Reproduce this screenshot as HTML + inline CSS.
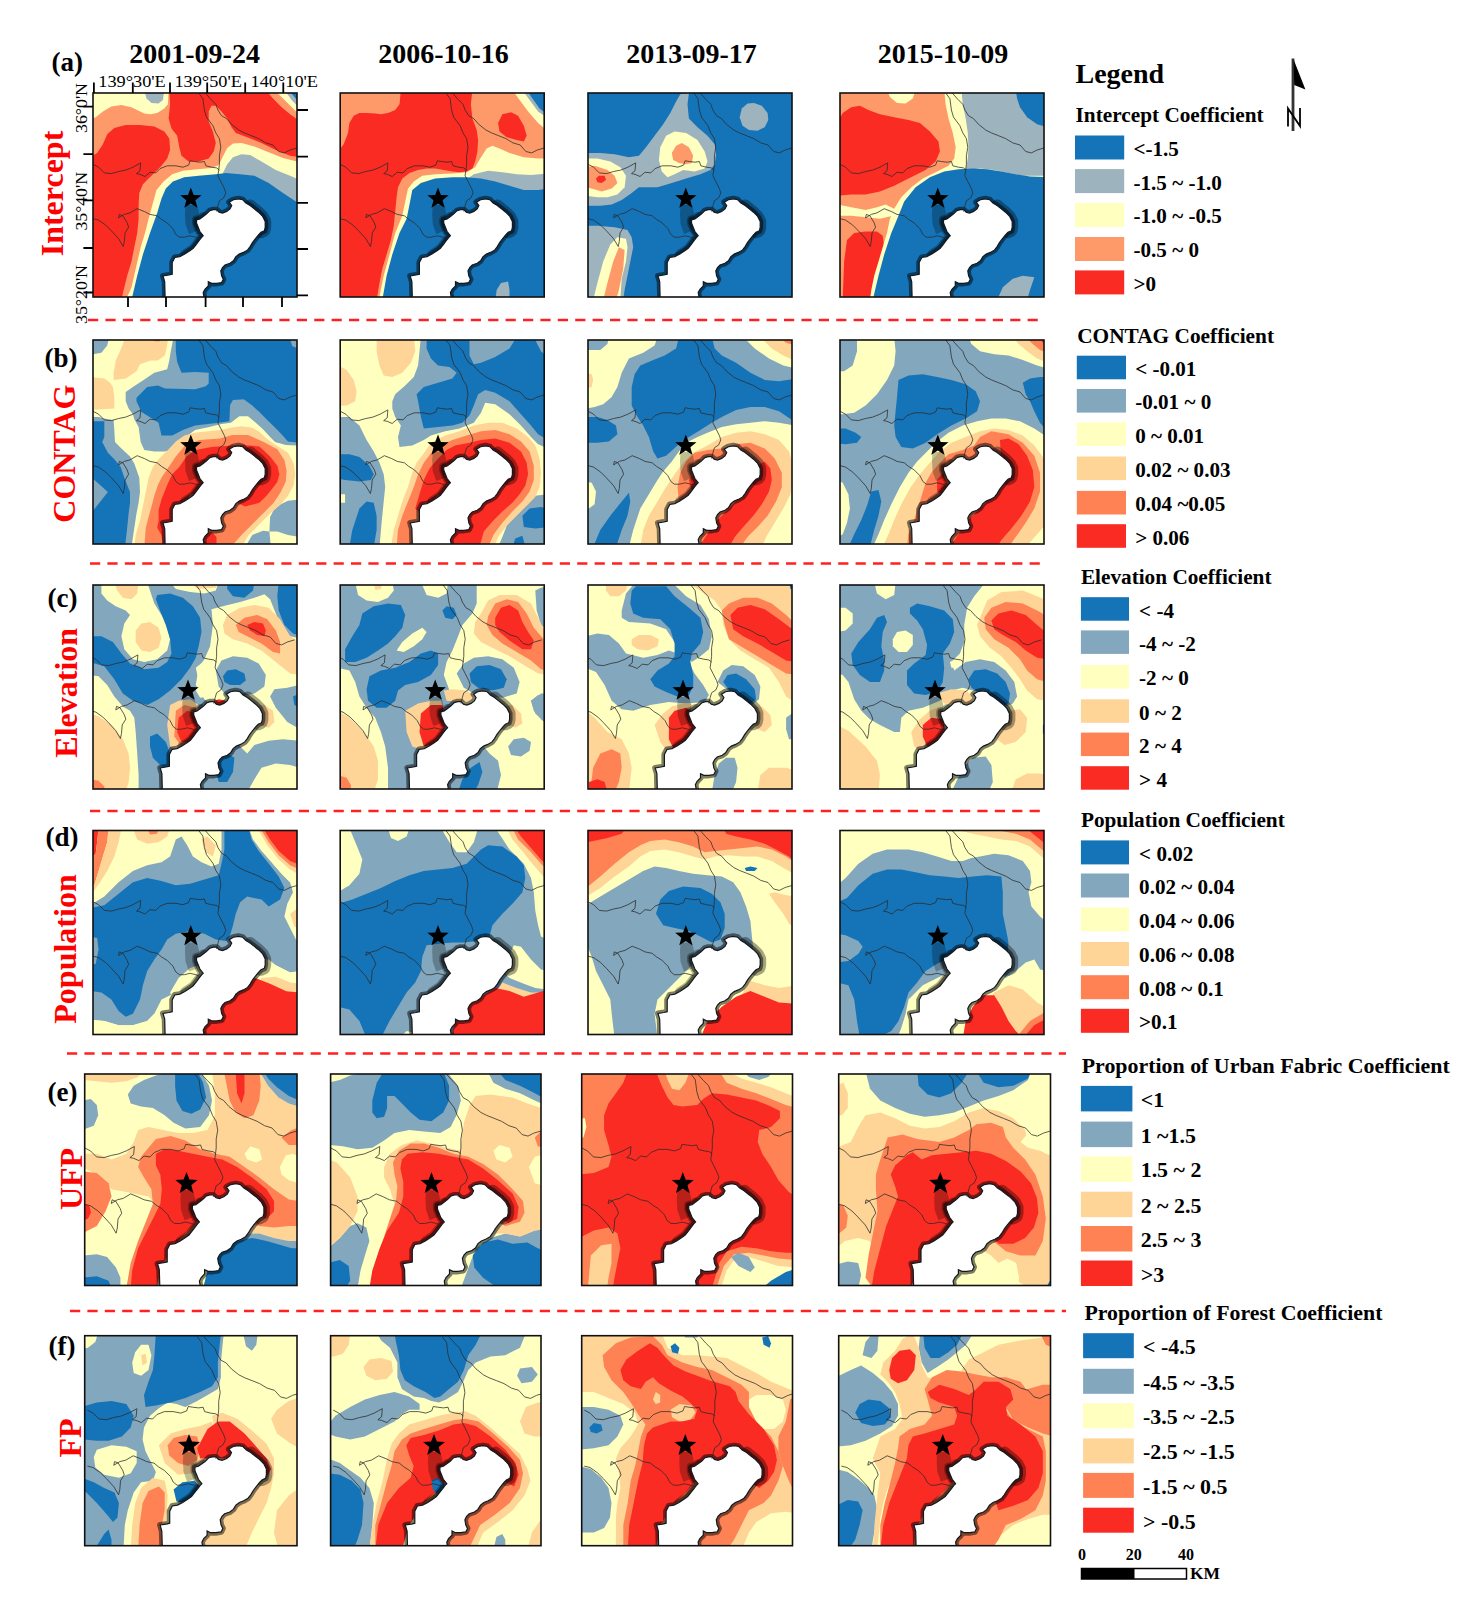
<!DOCTYPE html><html><head><meta charset="utf-8"><style>html,body{margin:0;padding:0;background:#fff;overflow:hidden}svg{display:block}</style></head><body>
<svg width="1469" height="1600" viewBox="0 0 1469 1600" font-family='"Liberation Serif", serif' font-weight="bold">
<rect width="100%" height="100%" fill="#fff"/>
<clipPath id="ca0"><rect x="93.0" y="93.0" width="204.0" height="204.0"/></clipPath>
<g clip-path="url(#ca0)">
<rect x="91" y="91" width="208" height="208" fill="#fe9a69"/>
<polygon points="90,157.2 97.1,152.9 102.9,144.3 107.2,134.3 114.3,127.9 125.7,125 140,125 154.3,126.5 164.3,131.5 169.3,138.6 170.1,150 167.2,158.6 161.5,165.8 155.8,171.5 148.6,178.6 142.9,184.3 139.3,192.9 138.6,204.4 138.6,218.7 137.2,233 134.3,247.2 131.5,261.5 127.2,275.8 123.6,290.1 121.4,300.1 90,300.1" fill="#f92b23"/>
<polygon points="169.3,90 265.8,90 273,98.6 281.6,107.2 290.1,114.3 300.1,121.4 300.1,157.2 290.1,155.8 275.8,150 261.5,142.9 247.2,137.2 235.8,132.9 231.5,127.2 227.2,118.6 221.5,111.4 215.8,105.7 211.5,105.7 208.7,111.4 208.7,121.4 212.9,131.5 215.8,142.9 213.7,151.5 208.7,158.6 198.6,161.5 188.6,161.5 181.5,155.8 179.3,147.2 177.2,135.7 171.5,128.6 168.6,118.6 170.1,104.3" fill="#f92b23"/>
<polygon points="90,90 168.6,90 167.9,104.3 164.3,108.6 157.2,112.9 150,114.3 144.3,113.6 138.6,110.7 131.5,107.2 121.4,105 111.4,106.4 102.9,111.4 95.7,117.2 90,120" fill="#ffffbf"/>
<polygon points="144.3,90 146.5,98.6 151.5,102.9 158.6,103.6 162.9,100 164.3,90" fill="#9db4be"/>
<polygon points="125.7,300.1 131.5,287.3 135.7,268.7 140.7,247.2 145,233 148.6,218.7 152.9,202.9 156.5,190.1 163.6,181.5 172.2,174.3 182.9,170.8 197.2,169.3 211.5,167.9 218.7,165.1 222.9,156.5 227.2,147.9 233,143.6 241.5,142.9 254.4,146.5 268.7,152.2 283,157.9 300.1,162.2 300.1,300.1" fill="#ffffbf"/>
<polygon points="222.9,172.9 227.2,164.3 233,157.2 241.5,154.3 250.1,155 261.5,161.5 275.8,170.1 290.1,175.8 300.1,180.1 300.1,300.1 218.7,300.1" fill="#9db4be"/>
<polygon points="131.5,300.1 137.2,275.8 142.9,254.4 150,233 157.2,212.9 161.5,198.6 165.8,188.6 172.9,181.5 184.3,177.2 198.6,175.8 215.8,174.3 225.8,172.9 240.1,174.3 254.4,175.8 268.7,182.9 283,192.9 300.1,204.4 300.1,300.1" fill="#1574b8"/>
<polygon points="274.4,90 300.1,90 300.1,115.7 293,108.6 283,98.6" fill="#ffffbf"/>
<polygon points="284.4,90 300.1,90 300.1,108.6 291.6,100" fill="#9db4be"/>
<polygon points="288.7,90 300.1,90 300.1,102.9 294.4,97.1" fill="#1574b8"/>
<polygon points="165.1,297.6 164.7,281.7 163,275.9 168.9,275 172.2,274.2 172.2,267.5 172.2,262.5 174.8,257.5 179.8,256.6 184.8,254.1 189.8,250.8 193.2,248.2 196.5,244.1 199,240.7 201.6,237.4 203.2,235.7 199.9,231.5 198.2,227.3 196.5,223.1 196.5,219.8 199.9,218.9 203.2,216.4 206.6,213.9 209.9,210.6 213.3,209.7 216.6,209.7 219.1,212.2 222.5,213.1 226.7,211.4 230,208.9 231.7,205.5 229.2,202.2 233.4,199.7 238.4,198.8 242.6,199.7 245.9,203 250.1,205.5 254.3,208.9 258.5,212.2 262.7,216.4 265.2,221.5 265.2,227.3 264.4,230.7 261,232.3 258.5,234.8 255.1,239 252.6,242.4 250.1,246.6 247.6,249.9 243.4,252.4 239.2,254.1 235.9,256.6 233.4,260.8 230,263.3 225,265 222.5,267.5 220.8,270.9 221.6,275.9 223.3,279.2 221.6,282.6 216.6,283.4 211.6,283.4 208.3,281.7 208.3,285.9 204.9,289.3 203.2,292.6 204.1,297.6" fill="none" stroke="#000" stroke-opacity="0.5" stroke-width="6" stroke-linejoin="round"/>
<polyline points="250.1,205.5 254.3,208.9 258.5,212.2 262.7,216.4 265.2,221.5 265.2,227.3 264.4,230.7 261,232.3" fill="none" stroke="#000" stroke-opacity="0.35" stroke-width="12" stroke-linejoin="round" stroke-linecap="round"/>
<polyline points="184.8,254.1 189.8,250.8 193.2,248.2 196.5,244.1 199,240.7 201.6,237.4 203.2,235.7 199.9,231.5 198.2,227.3 196.5,223.1 196.5,219.8 199.9,218.9 203.2,216.4" fill="none" stroke="#000" stroke-opacity="0.3" stroke-width="9" stroke-linejoin="round" stroke-linecap="round"/>
<polygon points="185.5,205 197,205 199,213 198.5,223 197,231 189,234 185.5,224 185,214" fill="#000" fill-opacity="0.25"/>
<polygon points="165.1,297.6 164.7,281.7 163,275.9 168.9,275 172.2,274.2 172.2,267.5 172.2,262.5 174.8,257.5 179.8,256.6 184.8,254.1 189.8,250.8 193.2,248.2 196.5,244.1 199,240.7 201.6,237.4 203.2,235.7 199.9,231.5 198.2,227.3 196.5,223.1 196.5,219.8 199.9,218.9 203.2,216.4 206.6,213.9 209.9,210.6 213.3,209.7 216.6,209.7 219.1,212.2 222.5,213.1 226.7,211.4 230,208.9 231.7,205.5 229.2,202.2 233.4,199.7 238.4,198.8 242.6,199.7 245.9,203 250.1,205.5 254.3,208.9 258.5,212.2 262.7,216.4 265.2,221.5 265.2,227.3 264.4,230.7 261,232.3 258.5,234.8 255.1,239 252.6,242.4 250.1,246.6 247.6,249.9 243.4,252.4 239.2,254.1 235.9,256.6 233.4,260.8 230,263.3 225,265 222.5,267.5 220.8,270.9 221.6,275.9 223.3,279.2 221.6,282.6 216.6,283.4 211.6,283.4 208.3,281.7 208.3,285.9 204.9,289.3 203.2,292.6 204.1,297.6" fill="#fff" stroke="#101820" stroke-width="1.2"/>
<path d="M198.6,92.9 L202.9,98.6 L204.4,110 L206.5,117.2 L212.9,125.7 L215.8,132.9 L219.4,138.6 L220.8,147.2 L219.4,155.8 L219.4,164.3 L218.7,170.1 L217.9,175.8 L220.8,181.5 L224.4,188.6 L225.8,192.9 L223.7,197.9 L219.4,200.8 L217.9,205.8 L216.5,211.5 M205.1,92.9 L210.8,99.3 L215.8,104.3 L217.9,110 L221.5,115.7 L226.5,118.6 L231.5,124.3 L238.7,130 L244.4,132.9 L251.5,135.7 L258.7,138.6 L265.8,142.9 L273,145 L278.7,151.5 L284.4,152.9 L290.1,150 L297.3,147.9 M93.1,164.3 L98.6,167.2 L104.3,172.9 L111.4,173.6 L118.6,171.5 L125.7,170.1 L132.9,167.2 L140.7,162.9 L140,170.8 L136.5,173.6 L140,174.3 L145,176.5 L150,172.2 L155.8,172.9 L160,168.6 L167.2,165.8 L175.8,165.8 L182.9,167.2 L188.6,165.1 L190.1,160.8 L194.4,161.5 L200.1,162.2 L204.4,161.5 L205.8,165.8 L211.5,167.2 L216.5,167.9 L219.4,170.1 M93.1,218.7 L98.6,220.1 L105.7,225.1 L111.4,230.8 L118.6,238.7 L123.2,246.5 L124.3,241.5 L125,233 L128.6,227.2 L127.2,222.9 L122.9,215.8 L119.3,214.4 L118.6,217.9 L124.3,214.4 L130,212.9 L137.2,208.7 L144.3,211.5 L150,214.4 L157.2,215.8 L161.5,219.4 L167.2,222.9 L172.9,228.7 L175.8,234.4 L179.3,237.2 L184.3,237.2 L190.1,235.8 L195.8,237.2 L199.4,238.7" fill="none" stroke="#2a2a2a" stroke-width="0.9" stroke-opacity="0.85"/>
<path d="M190.8,187.6 L193.7,194.9 L201.5,195.3 L195.4,200.3 L197.4,207.8 L190.8,203.6 L184.3,207.8 L186.3,200.3 L180.2,195.3 L188,194.9Z" fill="#000"/>
</g>
<rect x="93.0" y="93.0" width="204.0" height="204.0" fill="none" stroke="#111" stroke-width="1.6"/>
<clipPath id="ca1"><rect x="340.2" y="93.0" width="204.0" height="204.0"/></clipPath>
<g clip-path="url(#ca1)">
<rect x="338.2" y="91" width="208" height="208" fill="#fe9a69"/>
<polygon points="400.9,90 472.4,90 470.9,104.3 472.4,118.6 476.7,130 478.1,140 477.4,151.5 475.2,161.5 472.4,168.6 466.7,171.5 459.5,172.2 452.4,171.5 443.8,170.1 435.2,168.6 426.6,168.6 418.1,170.1 409.5,172.9 402.3,178.6 398,187.2 396.6,197.2 395.2,211.5 393.8,225.8 390.9,240.1 386.6,254.4 382.3,268.7 379.5,283 376.6,300.1 338,300.1 338,151.5 343.7,144.3 348,132.9 349.4,122.9 353.7,115.7 359.4,112.9 366.6,112.9 375.2,113.6 380.9,114.3 388,112.9 395.2,110 399.5,104.3" fill="#f92b23"/>
<polygon points="498.1,122.9 502.4,114.3 511,112.2 518.1,115.7 523.8,125.7 526.7,135.7 523.8,141.5 516.7,140 506.7,137.2 499.5,131.5" fill="#f92b23"/>
<polygon points="512.4,90 548.1,90 548.1,131.5 538.1,122.9 528.1,111.4 519.6,100" fill="#ffffbf"/>
<polygon points="522.4,90 548.1,90 548.1,118.6 538.1,111.4 529.6,100" fill="#9db4be"/>
<polygon points="526.7,90 548.1,90 548.1,115 539.6,108.6 532.4,98.6" fill="#1574b8"/>
<polygon points="378.7,300.1 383.7,275.8 389.5,254.4 395.2,233 402.3,215.8 405.2,201.5 408,188.6 413.8,181.5 422.3,175.8 435.2,174.3 452.4,173.6 466.7,172.2 475.2,167.2 481,157.2 486.7,148.6 492.4,145.8 499.5,148.6 509.5,152.9 523.8,157.2 538.1,158.6 548.1,158.6 548.1,300.1" fill="#ffffbf"/>
<polygon points="463.8,181.5 473.8,174.3 488.1,170.8 502.4,172.2 516.7,174.3 531,175.1 548.1,173.6 548.1,300.1 463.8,300.1" fill="#9db4be"/>
<polygon points="382.3,300.1 386.6,275.8 392.3,254.4 399.5,233 406.6,218.7 409.5,204.4 412.3,190.1 420.9,182.9 435.2,178.6 452.4,177.2 466.7,177.2 481,178.6 495.2,181.5 509.5,185.8 523.8,190.1 538.1,190.1 548.1,188.6 548.1,300.1" fill="#1574b8"/>
<polygon points="495.2,300.1 496.7,290.1 501,283 508.1,281.6 509.5,290.1 509.5,300.1" fill="#9db4be"/>
<polygon points="412.3,297.6 411.9,281.7 410.2,275.9 416.1,275 419.4,274.2 419.4,267.5 419.4,262.5 422,257.5 427,256.6 432,254.1 437,250.8 440.4,248.2 443.7,244.1 446.2,240.7 448.8,237.4 450.4,235.7 447.1,231.5 445.4,227.3 443.7,223.1 443.7,219.8 447.1,218.9 450.4,216.4 453.8,213.9 457.1,210.6 460.5,209.7 463.8,209.7 466.3,212.2 469.7,213.1 473.9,211.4 477.2,208.9 478.9,205.5 476.4,202.2 480.6,199.7 485.6,198.8 489.8,199.7 493.1,203 497.3,205.5 501.5,208.9 505.7,212.2 509.9,216.4 512.4,221.5 512.4,227.3 511.6,230.7 508.2,232.3 505.7,234.8 502.3,239 499.8,242.4 497.3,246.6 494.8,249.9 490.6,252.4 486.4,254.1 483.1,256.6 480.6,260.8 477.2,263.3 472.2,265 469.7,267.5 468,270.9 468.8,275.9 470.5,279.2 468.8,282.6 463.8,283.4 458.8,283.4 455.5,281.7 455.5,285.9 452.1,289.3 450.4,292.6 451.3,297.6" fill="none" stroke="#000" stroke-opacity="0.5" stroke-width="6" stroke-linejoin="round"/>
<polyline points="497.3,205.5 501.5,208.9 505.7,212.2 509.9,216.4 512.4,221.5 512.4,227.3 511.6,230.7 508.2,232.3" fill="none" stroke="#000" stroke-opacity="0.35" stroke-width="12" stroke-linejoin="round" stroke-linecap="round"/>
<polyline points="432,254.1 437,250.8 440.4,248.2 443.7,244.1 446.2,240.7 448.8,237.4 450.4,235.7 447.1,231.5 445.4,227.3 443.7,223.1 443.7,219.8 447.1,218.9 450.4,216.4" fill="none" stroke="#000" stroke-opacity="0.3" stroke-width="9" stroke-linejoin="round" stroke-linecap="round"/>
<polygon points="432.7,205 444.2,205 446.2,213 445.7,223 444.2,231 436.2,234 432.7,224 432.2,214" fill="#000" fill-opacity="0.25"/>
<polygon points="412.3,297.6 411.9,281.7 410.2,275.9 416.1,275 419.4,274.2 419.4,267.5 419.4,262.5 422,257.5 427,256.6 432,254.1 437,250.8 440.4,248.2 443.7,244.1 446.2,240.7 448.8,237.4 450.4,235.7 447.1,231.5 445.4,227.3 443.7,223.1 443.7,219.8 447.1,218.9 450.4,216.4 453.8,213.9 457.1,210.6 460.5,209.7 463.8,209.7 466.3,212.2 469.7,213.1 473.9,211.4 477.2,208.9 478.9,205.5 476.4,202.2 480.6,199.7 485.6,198.8 489.8,199.7 493.1,203 497.3,205.5 501.5,208.9 505.7,212.2 509.9,216.4 512.4,221.5 512.4,227.3 511.6,230.7 508.2,232.3 505.7,234.8 502.3,239 499.8,242.4 497.3,246.6 494.8,249.9 490.6,252.4 486.4,254.1 483.1,256.6 480.6,260.8 477.2,263.3 472.2,265 469.7,267.5 468,270.9 468.8,275.9 470.5,279.2 468.8,282.6 463.8,283.4 458.8,283.4 455.5,281.7 455.5,285.9 452.1,289.3 450.4,292.6 451.3,297.6" fill="#fff" stroke="#101820" stroke-width="1.2"/>
<path d="M445.8,92.9 L450.1,98.6 L451.6,110 L453.7,117.2 L460.1,125.7 L463,132.9 L466.6,138.6 L468,147.2 L466.6,155.8 L466.6,164.3 L465.9,170.1 L465.1,175.8 L468,181.5 L471.6,188.6 L473,192.9 L470.9,197.9 L466.6,200.8 L465.1,205.8 L463.7,211.5 M452.3,92.9 L458,99.3 L463,104.3 L465.1,110 L468.7,115.7 L473.7,118.6 L478.7,124.3 L485.9,130 L491.6,132.9 L498.7,135.7 L505.9,138.6 L513,142.9 L520.2,145 L525.9,151.5 L531.6,152.9 L537.3,150 L544.5,147.9 M340.3,164.3 L345.8,167.2 L351.5,172.9 L358.6,173.6 L365.8,171.5 L372.9,170.1 L380.1,167.2 L387.9,162.9 L387.2,170.8 L383.7,173.6 L387.2,174.3 L392.2,176.5 L397.2,172.2 L403,172.9 L407.2,168.6 L414.4,165.8 L423,165.8 L430.1,167.2 L435.8,165.1 L437.3,160.8 L441.6,161.5 L447.3,162.2 L451.6,161.5 L453,165.8 L458.7,167.2 L463.7,167.9 L466.6,170.1 M340.3,218.7 L345.8,220.1 L352.9,225.1 L358.6,230.8 L365.8,238.7 L370.4,246.5 L371.5,241.5 L372.2,233 L375.8,227.2 L374.4,222.9 L370.1,215.8 L366.5,214.4 L365.8,217.9 L371.5,214.4 L377.2,212.9 L384.4,208.7 L391.5,211.5 L397.2,214.4 L404.4,215.8 L408.7,219.4 L414.4,222.9 L420.1,228.7 L423,234.4 L426.5,237.2 L431.5,237.2 L437.3,235.8 L443,237.2 L446.6,238.7" fill="none" stroke="#2a2a2a" stroke-width="0.9" stroke-opacity="0.85"/>
<path d="M438,187.6 L440.9,194.9 L448.7,195.3 L442.6,200.3 L444.6,207.8 L438,203.6 L431.5,207.8 L433.5,200.3 L427.4,195.3 L435.2,194.9Z" fill="#000"/>
</g>
<rect x="340.2" y="93.0" width="204.0" height="204.0" fill="none" stroke="#111" stroke-width="1.6"/>
<clipPath id="ca2"><rect x="588.0" y="93.0" width="204.0" height="204.0"/></clipPath>
<g clip-path="url(#ca2)">
<rect x="586" y="91" width="208" height="208" fill="#1574b8"/>
<polygon points="586,152.9 600.3,152.9 614.6,154.3 628.9,157.2 638.9,155.8 646,147.2 654.6,135.7 663.2,124.3 670.3,112.9 676.1,101.4 680.3,94.3 688.9,92.9 687.5,104.3 688.9,118.6 697.5,127.2 707.5,135.7 714.7,144.3 716.1,154.3 714.7,164.3 710.4,170.1 700.4,174.3 686.1,178.6 671.8,182.9 657.5,187.2 646,187.2 638.9,187.2 631.7,192.9 621.7,200.1 611.7,204.4 600.3,205.8 586,205.8" fill="#9db4be"/>
<polygon points="739.7,117.2 741.8,108.6 747.5,103.6 754,102.9 761.8,105.7 767.6,112.9 768.3,120 764.7,127.2 757.5,130.7 749,130 742.5,125.7" fill="#9db4be"/>
<polygon points="586,225.8 597.4,225.8 614.6,227.2 627.5,230.1 631.7,237.2 633.2,247.2 630.3,261.5 627.5,275.8 624.6,290.1 623.2,300.1 586,300.1" fill="#9db4be"/>
<polygon points="660.3,147.2 666.1,135.7 674.6,131.5 686.1,132.9 697.5,140 704.7,151.5 707.5,161.5 704.7,168.6 694.6,171.5 683.2,170.1 674.6,174.3 667.5,177.2 661.8,171.5 658.9,160" fill="#ffffbf"/>
<polygon points="586,158.6 597.4,158.6 610.3,161.5 620.3,167.2 626,175.8 624.6,187.2 617.4,194.4 607.4,197.2 597.4,197.2 586,195.8" fill="#ffffbf"/>
<polygon points="593.1,300.1 597.4,283 603.2,261.5 610.3,244.4 617.4,237.2 626,238.7 627.5,247.2 626,261.5 621.7,278.7 620.3,300.1" fill="#ffffbf"/>
<polygon points="671.8,152.9 676.1,145.8 681.8,142.9 688.9,147.2 693.2,155.8 691.8,162.9 686.1,164.3 678.9,162.9 673.2,160" fill="#fe9a69"/>
<polygon points="586,167.2 594.6,165.8 607.4,170.1 614.6,175.8 617.4,182.9 611.7,188.6 601.7,191.5 591.7,188.6 586,187.2" fill="#fe9a69"/>
<polygon points="603.2,300.1 607.4,283 613.2,261.5 618.9,247.2 624.6,250.1 623.2,268.7 618.9,290.1 616,300.1" fill="#fe9a69"/>
<polygon points="596,178.6 598.9,175.8 604.6,175.8 606,180.1 601.7,182.9 597.4,182.2" fill="#f92b23"/>
<polygon points="660.1,297.6 659.7,281.7 658,275.9 663.9,275 667.2,274.2 667.2,267.5 667.2,262.5 669.8,257.5 674.8,256.6 679.8,254.1 684.8,250.8 688.2,248.2 691.5,244.1 694,240.7 696.6,237.4 698.2,235.7 694.9,231.5 693.2,227.3 691.5,223.1 691.5,219.8 694.9,218.9 698.2,216.4 701.6,213.9 704.9,210.6 708.3,209.7 711.6,209.7 714.1,212.2 717.5,213.1 721.7,211.4 725,208.9 726.7,205.5 724.2,202.2 728.4,199.7 733.4,198.8 737.6,199.7 740.9,203 745.1,205.5 749.3,208.9 753.5,212.2 757.7,216.4 760.2,221.5 760.2,227.3 759.4,230.7 756,232.3 753.5,234.8 750.1,239 747.6,242.4 745.1,246.6 742.6,249.9 738.4,252.4 734.2,254.1 730.9,256.6 728.4,260.8 725,263.3 720,265 717.5,267.5 715.8,270.9 716.6,275.9 718.3,279.2 716.6,282.6 711.6,283.4 706.6,283.4 703.3,281.7 703.3,285.9 699.9,289.3 698.2,292.6 699.1,297.6" fill="none" stroke="#000" stroke-opacity="0.5" stroke-width="6" stroke-linejoin="round"/>
<polyline points="745.1,205.5 749.3,208.9 753.5,212.2 757.7,216.4 760.2,221.5 760.2,227.3 759.4,230.7 756,232.3" fill="none" stroke="#000" stroke-opacity="0.35" stroke-width="12" stroke-linejoin="round" stroke-linecap="round"/>
<polyline points="679.8,254.1 684.8,250.8 688.2,248.2 691.5,244.1 694,240.7 696.6,237.4 698.2,235.7 694.9,231.5 693.2,227.3 691.5,223.1 691.5,219.8 694.9,218.9 698.2,216.4" fill="none" stroke="#000" stroke-opacity="0.3" stroke-width="9" stroke-linejoin="round" stroke-linecap="round"/>
<polygon points="680.5,205 692,205 694,213 693.5,223 692,231 684,234 680.5,224 680,214" fill="#000" fill-opacity="0.25"/>
<polygon points="660.1,297.6 659.7,281.7 658,275.9 663.9,275 667.2,274.2 667.2,267.5 667.2,262.5 669.8,257.5 674.8,256.6 679.8,254.1 684.8,250.8 688.2,248.2 691.5,244.1 694,240.7 696.6,237.4 698.2,235.7 694.9,231.5 693.2,227.3 691.5,223.1 691.5,219.8 694.9,218.9 698.2,216.4 701.6,213.9 704.9,210.6 708.3,209.7 711.6,209.7 714.1,212.2 717.5,213.1 721.7,211.4 725,208.9 726.7,205.5 724.2,202.2 728.4,199.7 733.4,198.8 737.6,199.7 740.9,203 745.1,205.5 749.3,208.9 753.5,212.2 757.7,216.4 760.2,221.5 760.2,227.3 759.4,230.7 756,232.3 753.5,234.8 750.1,239 747.6,242.4 745.1,246.6 742.6,249.9 738.4,252.4 734.2,254.1 730.9,256.6 728.4,260.8 725,263.3 720,265 717.5,267.5 715.8,270.9 716.6,275.9 718.3,279.2 716.6,282.6 711.6,283.4 706.6,283.4 703.3,281.7 703.3,285.9 699.9,289.3 698.2,292.6 699.1,297.6" fill="#fff" stroke="#101820" stroke-width="1.2"/>
<path d="M693.6,92.9 L697.9,98.6 L699.4,110 L701.5,117.2 L707.9,125.7 L710.8,132.9 L714.4,138.6 L715.8,147.2 L714.4,155.8 L714.4,164.3 L713.7,170.1 L712.9,175.8 L715.8,181.5 L719.4,188.6 L720.8,192.9 L718.7,197.9 L714.4,200.8 L712.9,205.8 L711.5,211.5 M700.1,92.9 L705.8,99.3 L710.8,104.3 L712.9,110 L716.5,115.7 L721.5,118.6 L726.5,124.3 L733.7,130 L739.4,132.9 L746.5,135.7 L753.7,138.6 L760.8,142.9 L768,145 L773.7,151.5 L779.4,152.9 L785.1,150 L792.3,147.9 M588.1,164.3 L593.6,167.2 L599.3,172.9 L606.4,173.6 L613.6,171.5 L620.7,170.1 L627.9,167.2 L635.7,162.9 L635,170.8 L631.5,173.6 L635,174.3 L640,176.5 L645,172.2 L650.8,172.9 L655,168.6 L662.2,165.8 L670.8,165.8 L677.9,167.2 L683.6,165.1 L685.1,160.8 L689.4,161.5 L695.1,162.2 L699.4,161.5 L700.8,165.8 L706.5,167.2 L711.5,167.9 L714.4,170.1 M588.1,218.7 L593.6,220.1 L600.7,225.1 L606.4,230.8 L613.6,238.7 L618.2,246.5 L619.3,241.5 L620,233 L623.6,227.2 L622.2,222.9 L617.9,215.8 L614.3,214.4 L613.6,217.9 L619.3,214.4 L625,212.9 L632.2,208.7 L639.3,211.5 L645,214.4 L652.2,215.8 L656.5,219.4 L662.2,222.9 L667.9,228.7 L670.8,234.4 L674.3,237.2 L679.3,237.2 L685.1,235.8 L690.8,237.2 L694.4,238.7" fill="none" stroke="#2a2a2a" stroke-width="0.9" stroke-opacity="0.85"/>
<path d="M685.8,187.6 L688.7,194.9 L696.5,195.3 L690.4,200.3 L692.4,207.8 L685.8,203.6 L679.3,207.8 L681.3,200.3 L675.2,195.3 L683,194.9Z" fill="#000"/>
</g>
<rect x="588.0" y="93.0" width="204.0" height="204.0" fill="none" stroke="#111" stroke-width="1.6"/>
<clipPath id="ca3"><rect x="840.0" y="93.0" width="204.0" height="204.0"/></clipPath>
<g clip-path="url(#ca3)">
<rect x="838" y="91" width="208" height="208" fill="#fe9a69"/>
<polygon points="837,122.9 842.7,112.9 851.3,107.2 859.9,105.7 868.4,110 879.9,114.3 894.2,117.2 908.5,120 919.9,122.9 929.9,131.5 938.5,141.5 939.9,151.5 935.6,161.5 925.6,170.1 908.5,178.6 894.2,185.8 879.9,191.5 865.6,194.4 851.3,194.4 837,195.8" fill="#f92b23"/>
<polygon points="842.7,300.1 844.1,261.5 847,240.1 854.2,233 865.6,231.5 877,231.5 882.7,235.8 884.2,247.2 881.3,261.5 877,275.8 872.7,290.1 871.3,300.1" fill="#f92b23"/>
<polygon points="887,90 915.6,90 912.8,98.6 905.6,103.6 897,102.9 889.9,97.1" fill="#ffffbf"/>
<polygon points="944.2,90 945.6,104.3 948.5,118.6 952.8,132.9 955.7,147.2 954.2,158.6 948.5,165.8 937.1,171.5 922.8,178.6 911.3,187.2 901.3,197.2 894.2,208.7 889.9,218.7 887,233 882.7,247.2 878.5,261.5 874.2,275.8 871.3,290.1 869.9,300.1 1047.1,300.1 1047.1,90" fill="#ffffbf"/>
<polygon points="837,204.4 851.3,207.2 865.6,210.1 877,207.2 885.6,204.4 894.2,208.7 892.8,215.8 879.9,218.7 865.6,217.2 851.3,215.8 837,215.8" fill="#ffffbf"/>
<polygon points="961.4,90 1047.1,90 1047.1,175.8 1037.1,175.8 1022.8,175.8 1008.5,172.9 994.2,170.1 980,168.6 965.7,170.1 967.8,158.6 968.5,147.2 967.8,132.9 965.7,118.6 962.8,104.3" fill="#9db4be"/>
<polygon points="872.7,300.1 878.5,275.8 884.2,254.4 891.3,233 898.5,215.8 904.2,201.5 915.6,187.2 929.9,177.2 944.2,171.5 958.5,169.3 972.8,168.6 987.1,169.3 1001.4,171.5 1015.7,174.3 1030,176.5 1047.1,177.2 1047.1,300.1" fill="#1574b8"/>
<polygon points="1015.7,90 1047.1,90 1047.1,127.2 1037.1,124.3 1027.1,117.2 1020,107.2 1017.1,98.6" fill="#1574b8"/>
<polygon points="997.1,300.1 1002.8,287.3 1012.8,278.7 1022.8,275.8 1034.3,277.3 1030,290.1 1027.1,300.1" fill="#9db4be"/>
<polygon points="912.1,297.6 911.7,281.7 910,275.9 915.9,275 919.2,274.2 919.2,267.5 919.2,262.5 921.8,257.5 926.8,256.6 931.8,254.1 936.8,250.8 940.2,248.2 943.5,244.1 946,240.7 948.6,237.4 950.2,235.7 946.9,231.5 945.2,227.3 943.5,223.1 943.5,219.8 946.9,218.9 950.2,216.4 953.6,213.9 956.9,210.6 960.3,209.7 963.6,209.7 966.1,212.2 969.5,213.1 973.7,211.4 977,208.9 978.7,205.5 976.2,202.2 980.4,199.7 985.4,198.8 989.6,199.7 992.9,203 997.1,205.5 1001.3,208.9 1005.5,212.2 1009.7,216.4 1012.2,221.5 1012.2,227.3 1011.4,230.7 1008,232.3 1005.5,234.8 1002.1,239 999.6,242.4 997.1,246.6 994.6,249.9 990.4,252.4 986.2,254.1 982.9,256.6 980.4,260.8 977,263.3 972,265 969.5,267.5 967.8,270.9 968.6,275.9 970.3,279.2 968.6,282.6 963.6,283.4 958.6,283.4 955.3,281.7 955.3,285.9 951.9,289.3 950.2,292.6 951.1,297.6" fill="none" stroke="#000" stroke-opacity="0.5" stroke-width="6" stroke-linejoin="round"/>
<polyline points="997.1,205.5 1001.3,208.9 1005.5,212.2 1009.7,216.4 1012.2,221.5 1012.2,227.3 1011.4,230.7 1008,232.3" fill="none" stroke="#000" stroke-opacity="0.35" stroke-width="12" stroke-linejoin="round" stroke-linecap="round"/>
<polyline points="931.8,254.1 936.8,250.8 940.2,248.2 943.5,244.1 946,240.7 948.6,237.4 950.2,235.7 946.9,231.5 945.2,227.3 943.5,223.1 943.5,219.8 946.9,218.9 950.2,216.4" fill="none" stroke="#000" stroke-opacity="0.3" stroke-width="9" stroke-linejoin="round" stroke-linecap="round"/>
<polygon points="932.5,205 944,205 946,213 945.5,223 944,231 936,234 932.5,224 932,214" fill="#000" fill-opacity="0.25"/>
<polygon points="912.1,297.6 911.7,281.7 910,275.9 915.9,275 919.2,274.2 919.2,267.5 919.2,262.5 921.8,257.5 926.8,256.6 931.8,254.1 936.8,250.8 940.2,248.2 943.5,244.1 946,240.7 948.6,237.4 950.2,235.7 946.9,231.5 945.2,227.3 943.5,223.1 943.5,219.8 946.9,218.9 950.2,216.4 953.6,213.9 956.9,210.6 960.3,209.7 963.6,209.7 966.1,212.2 969.5,213.1 973.7,211.4 977,208.9 978.7,205.5 976.2,202.2 980.4,199.7 985.4,198.8 989.6,199.7 992.9,203 997.1,205.5 1001.3,208.9 1005.5,212.2 1009.7,216.4 1012.2,221.5 1012.2,227.3 1011.4,230.7 1008,232.3 1005.5,234.8 1002.1,239 999.6,242.4 997.1,246.6 994.6,249.9 990.4,252.4 986.2,254.1 982.9,256.6 980.4,260.8 977,263.3 972,265 969.5,267.5 967.8,270.9 968.6,275.9 970.3,279.2 968.6,282.6 963.6,283.4 958.6,283.4 955.3,281.7 955.3,285.9 951.9,289.3 950.2,292.6 951.1,297.6" fill="#fff" stroke="#101820" stroke-width="1.2"/>
<path d="M945.6,92.9 L949.9,98.6 L951.4,110 L953.5,117.2 L959.9,125.7 L962.8,132.9 L966.4,138.6 L967.8,147.2 L966.4,155.8 L966.4,164.3 L965.7,170.1 L964.9,175.8 L967.8,181.5 L971.4,188.6 L972.8,192.9 L970.7,197.9 L966.4,200.8 L964.9,205.8 L963.5,211.5 M952.1,92.9 L957.8,99.3 L962.8,104.3 L964.9,110 L968.5,115.7 L973.5,118.6 L978.5,124.3 L985.7,130 L991.4,132.9 L998.5,135.7 L1005.7,138.6 L1012.8,142.9 L1020,145 L1025.7,151.5 L1031.4,152.9 L1037.1,150 L1044.3,147.9 M840.1,164.3 L845.6,167.2 L851.3,172.9 L858.4,173.6 L865.6,171.5 L872.7,170.1 L879.9,167.2 L887.7,162.9 L887,170.8 L883.5,173.6 L887,174.3 L892,176.5 L897,172.2 L902.8,172.9 L907,168.6 L914.2,165.8 L922.8,165.8 L929.9,167.2 L935.6,165.1 L937.1,160.8 L941.4,161.5 L947.1,162.2 L951.4,161.5 L952.8,165.8 L958.5,167.2 L963.5,167.9 L966.4,170.1 M840.1,218.7 L845.6,220.1 L852.7,225.1 L858.4,230.8 L865.6,238.7 L870.2,246.5 L871.3,241.5 L872,233 L875.6,227.2 L874.2,222.9 L869.9,215.8 L866.3,214.4 L865.6,217.9 L871.3,214.4 L877,212.9 L884.2,208.7 L891.3,211.5 L897,214.4 L904.2,215.8 L908.5,219.4 L914.2,222.9 L919.9,228.7 L922.8,234.4 L926.3,237.2 L931.3,237.2 L937.1,235.8 L942.8,237.2 L946.4,238.7" fill="none" stroke="#2a2a2a" stroke-width="0.9" stroke-opacity="0.85"/>
<path d="M937.8,187.6 L940.7,194.9 L948.5,195.3 L942.4,200.3 L944.4,207.8 L937.8,203.6 L931.3,207.8 L933.3,200.3 L927.2,195.3 L935,194.9Z" fill="#000"/>
</g>
<rect x="840.0" y="93.0" width="204.0" height="204.0" fill="none" stroke="#111" stroke-width="1.6"/>
<clipPath id="cb0"><rect x="93.0" y="340.0" width="204.0" height="204.0"/></clipPath>
<g clip-path="url(#cb0)">
<rect x="91" y="338" width="208" height="208" fill="#ffffbf"/>
<polygon points="90,337 109.3,337 107.2,345.6 101.4,352.7 90,354.9" fill="#83a7bc"/>
<polygon points="173.6,337 170.8,351.3 169.3,360.6 167.2,369.2 154.3,372.7 143.6,379.9 132.9,387 125.7,392 125.7,401.3 128.6,408.5 132.9,414.2 134.3,419.2 138.6,427.1 140.7,442.1 144.3,449.9 154.3,451.4 164.3,451.4 172.2,449.9 181.5,439.9 195.1,429.9 209.4,427.1 220.1,424.2 230.8,422.8 239.4,416.3 248,416.3 255.8,422.8 263,429.2 270.1,437.1 275.1,442.1 285.8,444.9 300.1,445.6 300.1,337" fill="#83a7bc"/>
<polygon points="90,417.1 98.6,417.1 107.2,419.2 113.6,419.9 114.3,429.9 115,442.1 122.2,449.2 130,456.4 134.3,463.5 139.3,477.8 140,492.1 138.6,502.8 136.5,513.5 134.3,527.8 131.5,547.1 90,547.1" fill="#83a7bc"/>
<polygon points="175.8,337 300.1,337 300.1,442.8 288,441.4 280.8,433.5 273.7,426.3 266.5,419.2 259.4,412.1 252.3,405.6 243.7,399.2 233,399.9 230.1,404.9 229.4,421.3 218.7,422.8 195.1,425.6 182.9,429.9 172.2,435.6 161.5,435.6 158.6,422.8 150.8,417.8 141.5,412.1 136.5,401.3 136.5,397.8 147.2,387 157.9,385.6 165.1,388.5 195.1,389.2 205.8,386.3 208.7,383.5 208.7,372.7 195.1,372 181.5,372.7 177.2,362 175.8,351.3" fill="#1574b8"/>
<polygon points="289.4,337 300.1,337 300.1,349.2 292.3,346.3" fill="#83a7bc"/>
<polygon points="90,421.3 104.3,421.3 104.3,437.1 102.2,442.1 107.9,452.8 115,459.9 120.7,467.1 124.3,477.8 127.2,485 130,492.1 130,502.8 128.6,513.5 127.2,527.8 125,547.1 90,547.1" fill="#1574b8"/>
<polygon points="90,479.2 93.6,479.2 107.9,492.1 93.6,510 90,510" fill="#83a7bc"/>
<polygon points="300.1,499.3 288,500.7 280.8,504.3 273.7,510 270.1,517.1 269.4,531.4 277.3,531.4 288,535 300.1,537.1" fill="#83a7bc"/>
<polygon points="245.1,547.1 252.3,535 263,530.7 269.4,531.4 270.8,547.1" fill="#83a7bc"/>
<polygon points="125,337 168.6,337 165.1,354.9 157.9,360.6 150.8,360.6 140,364.2 136.5,371.3 125.7,378.5 113.6,379.9 113.6,372.7 115.7,360.6 120,351.3 124.3,340.6" fill="#fed497"/>
<polygon points="90,377 104.3,378.5 110,382.7 112.9,387 114.3,397 114.3,408.5 90,409.9" fill="#fed497"/>
<polygon points="152.9,337 160.8,337 160,341.3 154.3,341.3" fill="#fe8254"/>
<polygon points="134.3,547.1 135.7,535 140,520.7 142.9,506.4 145.8,492.1 148.6,477.8 152.9,467.1 157.9,459.9 168.6,449.2 175.8,441.4 184.3,435.6 195.1,432.8 220.1,429.9 230.8,427.8 241.5,426.3 252.3,427.8 259.4,432.1 266.5,438.5 274.4,444.2 288,452.8 293.7,463.5 295.1,474.2 293.7,485 288,495.7 280.8,504.3 270.1,513.5 259.4,524.3 248.7,535 241.5,547.1" fill="#fed497"/>
<polygon points="144.3,547.1 145.8,527.8 148.6,517.1 151.5,506.4 154.3,495.7 157.9,485 161.5,477.8 167.2,469.2 175.8,456.4 185.1,445.6 199.4,439.9 220.1,438.5 232.2,434.9 248,434.9 255.8,438.5 263.7,442.1 277.3,449.2 284.4,459.9 286.6,470.7 285.8,481.4 280.8,492.1 273.7,502.8 263,513.5 252.3,524.3 241.5,535 230.8,547.1" fill="#fe8254"/>
<polygon points="163.6,547.1 161.5,535 157.2,527.8 158.6,520.7 158.6,510 161.5,499.3 167.2,485 172.2,474.2 179.3,467.1 186.5,456.4 195.8,449.9 211.5,447.1 233,445.6 241.5,444.9 259.4,446.4 270.1,456.4 277.3,465.7 279.4,474.2 277.3,482.1 272.3,488.5 266.5,495.7 259.4,502.8 250.8,505 245.1,506.4 218.7,494.2 190.1,494.2 175.8,522.8 170.1,547.1" fill="#f92b23"/>
<polygon points="202.2,547.1 204.4,534.3 211.5,531.4 216.5,537.1 216.5,547.1" fill="#f92b23"/>
<polygon points="165.1,544.6 164.7,528.7 163,522.9 168.9,522 172.2,521.2 172.2,514.5 172.2,509.5 174.8,504.5 179.8,503.6 184.8,501.1 189.8,497.8 193.2,495.2 196.5,491.1 199,487.7 201.6,484.4 203.2,482.7 199.9,478.5 198.2,474.3 196.5,470.1 196.5,466.8 199.9,465.9 203.2,463.4 206.6,460.9 209.9,457.6 213.3,456.7 216.6,456.7 219.1,459.2 222.5,460.1 226.7,458.4 230,455.9 231.7,452.5 229.2,449.2 233.4,446.7 238.4,445.8 242.6,446.7 245.9,450 250.1,452.5 254.3,455.9 258.5,459.2 262.7,463.4 265.2,468.5 265.2,474.3 264.4,477.7 261,479.3 258.5,481.8 255.1,486 252.6,489.4 250.1,493.6 247.6,496.9 243.4,499.4 239.2,501.1 235.9,503.6 233.4,507.8 230,510.3 225,512 222.5,514.5 220.8,517.9 221.6,522.9 223.3,526.2 221.6,529.6 216.6,530.4 211.6,530.4 208.3,528.7 208.3,532.9 204.9,536.3 203.2,539.6 204.1,544.6" fill="none" stroke="#000" stroke-opacity="0.5" stroke-width="6" stroke-linejoin="round"/>
<polyline points="250.1,452.5 254.3,455.9 258.5,459.2 262.7,463.4 265.2,468.5 265.2,474.3 264.4,477.7 261,479.3" fill="none" stroke="#000" stroke-opacity="0.35" stroke-width="12" stroke-linejoin="round" stroke-linecap="round"/>
<polyline points="184.8,501.1 189.8,497.8 193.2,495.2 196.5,491.1 199,487.7 201.6,484.4 203.2,482.7 199.9,478.5 198.2,474.3 196.5,470.1 196.5,466.8 199.9,465.9 203.2,463.4" fill="none" stroke="#000" stroke-opacity="0.3" stroke-width="9" stroke-linejoin="round" stroke-linecap="round"/>
<polygon points="185.5,452 197,452 199,460 198.5,470 197,478 189,481 185.5,471 185,461" fill="#000" fill-opacity="0.25"/>
<polygon points="165.1,544.6 164.7,528.7 163,522.9 168.9,522 172.2,521.2 172.2,514.5 172.2,509.5 174.8,504.5 179.8,503.6 184.8,501.1 189.8,497.8 193.2,495.2 196.5,491.1 199,487.7 201.6,484.4 203.2,482.7 199.9,478.5 198.2,474.3 196.5,470.1 196.5,466.8 199.9,465.9 203.2,463.4 206.6,460.9 209.9,457.6 213.3,456.7 216.6,456.7 219.1,459.2 222.5,460.1 226.7,458.4 230,455.9 231.7,452.5 229.2,449.2 233.4,446.7 238.4,445.8 242.6,446.7 245.9,450 250.1,452.5 254.3,455.9 258.5,459.2 262.7,463.4 265.2,468.5 265.2,474.3 264.4,477.7 261,479.3 258.5,481.8 255.1,486 252.6,489.4 250.1,493.6 247.6,496.9 243.4,499.4 239.2,501.1 235.9,503.6 233.4,507.8 230,510.3 225,512 222.5,514.5 220.8,517.9 221.6,522.9 223.3,526.2 221.6,529.6 216.6,530.4 211.6,530.4 208.3,528.7 208.3,532.9 204.9,536.3 203.2,539.6 204.1,544.6" fill="#fff" stroke="#101820" stroke-width="1.2"/>
<path d="M198.6,339.9 L202.9,345.6 L204.4,357 L206.5,364.2 L212.9,372.7 L215.8,379.9 L219.4,385.6 L220.8,394.2 L219.4,402.8 L219.4,411.3 L218.7,417.1 L217.9,422.8 L220.8,428.5 L224.4,435.6 L225.8,439.9 L223.7,444.9 L219.4,447.8 L217.9,452.8 L216.5,458.5 M205.1,339.9 L210.8,346.3 L215.8,351.3 L217.9,357 L221.5,362.7 L226.5,365.6 L231.5,371.3 L238.7,377 L244.4,379.9 L251.5,382.7 L258.7,385.6 L265.8,389.9 L273,392 L278.7,398.5 L284.4,399.9 L290.1,397 L297.3,394.9 M93.1,411.3 L98.6,414.2 L104.3,419.9 L111.4,420.6 L118.6,418.5 L125.7,417.1 L132.9,414.2 L140.7,409.9 L140,417.8 L136.5,420.6 L140,421.3 L145,423.5 L150,419.2 L155.8,419.9 L160,415.6 L167.2,412.8 L175.8,412.8 L182.9,414.2 L188.6,412.1 L190.1,407.8 L194.4,408.5 L200.1,409.2 L204.4,408.5 L205.8,412.8 L211.5,414.2 L216.5,414.9 L219.4,417.1 M93.1,465.7 L98.6,467.1 L105.7,472.1 L111.4,477.8 L118.6,485.7 L123.2,493.5 L124.3,488.5 L125,480 L128.6,474.2 L127.2,469.9 L122.9,462.8 L119.3,461.4 L118.6,464.9 L124.3,461.4 L130,459.9 L137.2,455.7 L144.3,458.5 L150,461.4 L157.2,462.8 L161.5,466.4 L167.2,469.9 L172.9,475.7 L175.8,481.4 L179.3,484.2 L184.3,484.2 L190.1,482.8 L195.8,484.2 L199.4,485.7" fill="none" stroke="#2a2a2a" stroke-width="0.9" stroke-opacity="0.85"/>
<path d="M190.8,434.6 L193.7,441.9 L201.5,442.3 L195.4,447.3 L197.4,454.8 L190.8,450.6 L184.3,454.8 L186.3,447.3 L180.2,442.3 L188,441.9Z" fill="#000"/>
</g>
<rect x="93.0" y="340.0" width="204.0" height="204.0" fill="none" stroke="#111" stroke-width="1.6"/>
<clipPath id="cb1"><rect x="340.2" y="340.0" width="204.0" height="204.0"/></clipPath>
<g clip-path="url(#cb1)">
<rect x="338.2" y="338" width="208" height="208" fill="#ffffbf"/>
<polygon points="376.6,337 413.8,337 415.2,351.3 410.9,362.7 402.3,372.7 392.3,377 383.7,375.6 379.5,365.6 376.6,351.3" fill="#fed497"/>
<polygon points="338,365.6 346.6,369.9 353.7,379.9 356.6,391.3 355.2,401.3 346.6,405.6 338,405.6" fill="#fed497"/>
<polygon points="420.9,337 419.5,351.3 418.1,365.6 413.8,377 405.2,385.6 395.2,394.2 392.3,401.3 392.3,408.5 395.2,417.1 400.9,425.6 398,437.1 399.5,447.1 412.3,445.6 423.8,439.9 430.9,435.6 445.2,431.3 459.5,428.5 473.8,422.8 481,412.8 485.2,402.8 495.2,404.2 509.5,414.2 521,425.6 531,437.1 538.1,444.2 548.1,448.5 548.1,337" fill="#83a7bc"/>
<polygon points="338,417.1 349.4,417.1 359.4,425.6 366.6,439.9 373.7,451.4 379.5,462.8 383.7,474.2 385.2,487.1 383.7,501.4 381.6,522.8 379.5,547.1 338,547.1" fill="#83a7bc"/>
<polygon points="426.6,337 469.5,337 469.5,355.6 473.8,364.2 481,362.7 495.2,357 509.5,348.4 516.7,337 535.3,337 538.1,345.6 545.3,354.2 548.1,355.6 548.1,439.9 538.1,434.2 531,425.6 521,414.2 509.5,401.3 495.2,392.8 485.2,389.9 478.1,394.2 473.8,405.6 469.5,415.6 462.4,422.8 452.4,425.6 438.1,427.1 423.8,428.5 420.9,417.1 418.1,401.3 416.6,394.2 423.8,387 438.1,382.7 452.4,378.5 456.7,372.7 449.5,367 438.1,365.6 430.9,358.4 426.6,348.4" fill="#1574b8"/>
<polygon points="533.8,337 548.1,337 548.1,357 541,351.3" fill="#83a7bc"/>
<polygon points="541,337 548.1,337 548.1,347" fill="#ffffbf"/>
<polygon points="338,454.2 349.4,454.2 359.4,457.1 369.4,465.7 373.7,474.2 370.9,480 359.4,481.4 345.1,480 338,478.5" fill="#1574b8"/>
<polygon points="349.4,547.1 352.3,530 359.4,508.5 366.6,501.4 373.7,502.8 376.6,515.7 376.6,530 373.7,547.1" fill="#1574b8"/>
<polygon points="548.1,494.2 535.3,495.7 523.8,501.4 513.8,512.8 506.7,525.7 502.4,537.1 498.1,547.1 548.1,547.1" fill="#83a7bc"/>
<polygon points="523.8,527.1 522.4,515.7 529.6,508.5 541,507.1 548.1,508.5 548.1,527.1 535.3,528.6" fill="#1574b8"/>
<polygon points="512.4,547.1 515.3,538.6 522.4,535.7 525.3,547.1" fill="#1574b8"/>
<polygon points="340.9,494.2 345.1,494.2 345.1,502.8 340.9,502.8" fill="#ffffbf"/>
<polygon points="390.9,547.1 393.8,530 398,515.7 402.3,501.4 408,487.1 412.3,472.8 416.6,462.8 425.2,451.4 430.9,442.8 445.2,435.6 459.5,431.3 473.8,425.6 488.1,422.8 502.4,422.8 516.7,428.5 528.1,437.1 535.3,445.6 539.6,458.5 541,472.8 539.6,487.1 535.3,497.1 526.7,505.7 516.7,515.7 506.7,525.7 498.1,537.1 493.8,547.1" fill="#fed497"/>
<polygon points="396.6,547.1 398,530 402.3,515.7 408,501.4 413.8,487.1 418.1,474.2 423.8,462.8 432.3,451.4 440.9,445.6 452.4,439.9 466.7,435.6 481,431.3 495.2,429.9 509.5,434.2 521,441.4 529.6,451.4 533.8,465.7 533.8,480 529.6,491.4 522.4,501.4 512.4,511.4 502.4,522.8 493.8,534.3 488.1,547.1" fill="#fe8254"/>
<polygon points="415.2,508.5 419.5,494.2 423.8,480 429.5,468.5 438.1,458.5 446.6,449.9 455.2,445.6 469.5,442.8 481,439.9 495.2,438.5 509.5,442.8 521,451.4 526.7,462.8 528.1,474.2 525.3,485.7 519.6,494.2 512.4,502.8 502.4,511.4 492.4,521.4 483.8,531.4 479.5,547.1 449.5,547.1 452.4,522.8 438.1,494.2 423.8,515.7" fill="#f92b23"/>
<polygon points="412.3,544.6 411.9,528.7 410.2,522.9 416.1,522 419.4,521.2 419.4,514.5 419.4,509.5 422,504.5 427,503.6 432,501.1 437,497.8 440.4,495.2 443.7,491.1 446.2,487.7 448.8,484.4 450.4,482.7 447.1,478.5 445.4,474.3 443.7,470.1 443.7,466.8 447.1,465.9 450.4,463.4 453.8,460.9 457.1,457.6 460.5,456.7 463.8,456.7 466.3,459.2 469.7,460.1 473.9,458.4 477.2,455.9 478.9,452.5 476.4,449.2 480.6,446.7 485.6,445.8 489.8,446.7 493.1,450 497.3,452.5 501.5,455.9 505.7,459.2 509.9,463.4 512.4,468.5 512.4,474.3 511.6,477.7 508.2,479.3 505.7,481.8 502.3,486 499.8,489.4 497.3,493.6 494.8,496.9 490.6,499.4 486.4,501.1 483.1,503.6 480.6,507.8 477.2,510.3 472.2,512 469.7,514.5 468,517.9 468.8,522.9 470.5,526.2 468.8,529.6 463.8,530.4 458.8,530.4 455.5,528.7 455.5,532.9 452.1,536.3 450.4,539.6 451.3,544.6" fill="none" stroke="#000" stroke-opacity="0.5" stroke-width="6" stroke-linejoin="round"/>
<polyline points="497.3,452.5 501.5,455.9 505.7,459.2 509.9,463.4 512.4,468.5 512.4,474.3 511.6,477.7 508.2,479.3" fill="none" stroke="#000" stroke-opacity="0.35" stroke-width="12" stroke-linejoin="round" stroke-linecap="round"/>
<polyline points="432,501.1 437,497.8 440.4,495.2 443.7,491.1 446.2,487.7 448.8,484.4 450.4,482.7 447.1,478.5 445.4,474.3 443.7,470.1 443.7,466.8 447.1,465.9 450.4,463.4" fill="none" stroke="#000" stroke-opacity="0.3" stroke-width="9" stroke-linejoin="round" stroke-linecap="round"/>
<polygon points="432.7,452 444.2,452 446.2,460 445.7,470 444.2,478 436.2,481 432.7,471 432.2,461" fill="#000" fill-opacity="0.25"/>
<polygon points="412.3,544.6 411.9,528.7 410.2,522.9 416.1,522 419.4,521.2 419.4,514.5 419.4,509.5 422,504.5 427,503.6 432,501.1 437,497.8 440.4,495.2 443.7,491.1 446.2,487.7 448.8,484.4 450.4,482.7 447.1,478.5 445.4,474.3 443.7,470.1 443.7,466.8 447.1,465.9 450.4,463.4 453.8,460.9 457.1,457.6 460.5,456.7 463.8,456.7 466.3,459.2 469.7,460.1 473.9,458.4 477.2,455.9 478.9,452.5 476.4,449.2 480.6,446.7 485.6,445.8 489.8,446.7 493.1,450 497.3,452.5 501.5,455.9 505.7,459.2 509.9,463.4 512.4,468.5 512.4,474.3 511.6,477.7 508.2,479.3 505.7,481.8 502.3,486 499.8,489.4 497.3,493.6 494.8,496.9 490.6,499.4 486.4,501.1 483.1,503.6 480.6,507.8 477.2,510.3 472.2,512 469.7,514.5 468,517.9 468.8,522.9 470.5,526.2 468.8,529.6 463.8,530.4 458.8,530.4 455.5,528.7 455.5,532.9 452.1,536.3 450.4,539.6 451.3,544.6" fill="#fff" stroke="#101820" stroke-width="1.2"/>
<path d="M445.8,339.9 L450.1,345.6 L451.6,357 L453.7,364.2 L460.1,372.7 L463,379.9 L466.6,385.6 L468,394.2 L466.6,402.8 L466.6,411.3 L465.9,417.1 L465.1,422.8 L468,428.5 L471.6,435.6 L473,439.9 L470.9,444.9 L466.6,447.8 L465.1,452.8 L463.7,458.5 M452.3,339.9 L458,346.3 L463,351.3 L465.1,357 L468.7,362.7 L473.7,365.6 L478.7,371.3 L485.9,377 L491.6,379.9 L498.7,382.7 L505.9,385.6 L513,389.9 L520.2,392 L525.9,398.5 L531.6,399.9 L537.3,397 L544.5,394.9 M340.3,411.3 L345.8,414.2 L351.5,419.9 L358.6,420.6 L365.8,418.5 L372.9,417.1 L380.1,414.2 L387.9,409.9 L387.2,417.8 L383.7,420.6 L387.2,421.3 L392.2,423.5 L397.2,419.2 L403,419.9 L407.2,415.6 L414.4,412.8 L423,412.8 L430.1,414.2 L435.8,412.1 L437.3,407.8 L441.6,408.5 L447.3,409.2 L451.6,408.5 L453,412.8 L458.7,414.2 L463.7,414.9 L466.6,417.1 M340.3,465.7 L345.8,467.1 L352.9,472.1 L358.6,477.8 L365.8,485.7 L370.4,493.5 L371.5,488.5 L372.2,480 L375.8,474.2 L374.4,469.9 L370.1,462.8 L366.5,461.4 L365.8,464.9 L371.5,461.4 L377.2,459.9 L384.4,455.7 L391.5,458.5 L397.2,461.4 L404.4,462.8 L408.7,466.4 L414.4,469.9 L420.1,475.7 L423,481.4 L426.5,484.2 L431.5,484.2 L437.3,482.8 L443,484.2 L446.6,485.7" fill="none" stroke="#2a2a2a" stroke-width="0.9" stroke-opacity="0.85"/>
<path d="M438,434.6 L440.9,441.9 L448.7,442.3 L442.6,447.3 L444.6,454.8 L438,450.6 L431.5,454.8 L433.5,447.3 L427.4,442.3 L435.2,441.9Z" fill="#000"/>
</g>
<rect x="340.2" y="340.0" width="204.0" height="204.0" fill="none" stroke="#111" stroke-width="1.6"/>
<clipPath id="cb2"><rect x="588.0" y="340.0" width="204.0" height="204.0"/></clipPath>
<g clip-path="url(#cb2)">
<rect x="586" y="338" width="208" height="208" fill="#ffffbf"/>
<polygon points="586,337 743.2,337 754.7,348.4 769,358.4 783.3,365.6 796.1,368.4 796.1,425.6 779,422.8 764.7,421.3 750.4,422.8 736.1,424.2 721.8,427.1 707.5,432.8 697.5,437.1 686.1,442.8 678.9,451.4 671.8,461.4 663.2,471.4 657.5,480 648.9,494.2 640.3,508.5 633.2,530 628.9,547.1 586,547.1" fill="#83a7bc"/>
<polygon points="608.9,337 657.5,337 654.6,345.6 643.2,352.7 628.9,358.4 621.7,372.7 617.4,387 611.7,397 603.2,404.2 594.6,407 586,408.5 586,349.9 600.3,349.9 607.4,344.1" fill="#ffffbf"/>
<polygon points="586,372.7 591.7,374.2 593.1,379.9 591.7,387 586,388.5" fill="#fed497"/>
<polygon points="586,481.4 591.7,482.8 596,491.4 594.6,504.3 588.9,508.5 586,508.5" fill="#ffffbf"/>
<polygon points="678.9,337 711.8,337 714.7,348.4 721.8,355.6 736.1,362.7 750.4,372.7 764.7,379.9 779,381.3 796.1,378.5 796.1,422.8 779,411.3 764.7,407 750.4,407 736.1,409.9 721.8,417.1 711.8,422.8 700.4,429.9 688.9,437.1 677.5,445.6 666.1,455.7 657.5,458.5 653.2,451.4 648.9,437.1 643.2,425.6 637.5,417.1 631.7,405.6 631.7,387 634.6,374.2 640.3,365.6 650.3,361.3 664.6,355.6 676.1,348.4" fill="#1574b8"/>
<polygon points="586,417.1 597.4,417.1 607.4,419.9 616,425.6 617.4,434.2 608.9,441.4 597.4,442.8 586,442.8" fill="#1574b8"/>
<polygon points="593.1,547.1 600.3,530 610.3,515.7 621.7,501.4 628.9,492.8 630.3,501.4 627.5,515.7 621.7,530 616,547.1" fill="#1574b8"/>
<polygon points="760.4,337 796.1,337 796.1,361.3 783.3,355.6 771.8,348.4" fill="#fed497"/>
<polygon points="779,337 796.1,337 796.1,345.6 786.1,342.7" fill="#fe8254"/>
<polygon points="640.3,547.1 643.2,530 648.9,515.7 657.5,501.4 666.1,487.1 674.6,474.2 683.2,462.8 693.2,452.8 707.5,445.6 721.8,437.1 736.1,432.8 750.4,431.3 764.7,434.2 779,439.9 789,451.4 793.3,465.7 793.3,480 790.4,494.2 783.3,508.5 774.7,522.8 766.1,537.1 761.8,547.1" fill="#fed497"/>
<polygon points="678.9,501.4 677.5,487.1 680.3,472.8 686.1,461.4 694.6,452.8 707.5,449.9 721.8,448.5 736.1,444.2 750.4,442.8 764.7,448.5 774.7,458.5 781.8,472.8 781.8,487.1 776.1,501.4 767.6,515.7 757.5,527.1 747.5,537.1 740.4,547.1 700.4,547.1 700.4,508.5 693.2,494.2" fill="#fe8254"/>
<polygon points="757.5,465.7 764.7,461.4 770.4,468.5 771.8,480 769,491.4 761.8,504.3 753.3,515.7 743.2,527.1 734.7,537.1 729,547.1 698.9,547.1 714.7,522.8 743.2,494.2 754.7,472.8" fill="#f92b23"/>
<polygon points="688.9,480 694.6,474.2 697.5,487.1 691.8,491.4" fill="#f92b23"/>
<polygon points="660.1,544.6 659.7,528.7 658,522.9 663.9,522 667.2,521.2 667.2,514.5 667.2,509.5 669.8,504.5 674.8,503.6 679.8,501.1 684.8,497.8 688.2,495.2 691.5,491.1 694,487.7 696.6,484.4 698.2,482.7 694.9,478.5 693.2,474.3 691.5,470.1 691.5,466.8 694.9,465.9 698.2,463.4 701.6,460.9 704.9,457.6 708.3,456.7 711.6,456.7 714.1,459.2 717.5,460.1 721.7,458.4 725,455.9 726.7,452.5 724.2,449.2 728.4,446.7 733.4,445.8 737.6,446.7 740.9,450 745.1,452.5 749.3,455.9 753.5,459.2 757.7,463.4 760.2,468.5 760.2,474.3 759.4,477.7 756,479.3 753.5,481.8 750.1,486 747.6,489.4 745.1,493.6 742.6,496.9 738.4,499.4 734.2,501.1 730.9,503.6 728.4,507.8 725,510.3 720,512 717.5,514.5 715.8,517.9 716.6,522.9 718.3,526.2 716.6,529.6 711.6,530.4 706.6,530.4 703.3,528.7 703.3,532.9 699.9,536.3 698.2,539.6 699.1,544.6" fill="none" stroke="#000" stroke-opacity="0.5" stroke-width="6" stroke-linejoin="round"/>
<polyline points="745.1,452.5 749.3,455.9 753.5,459.2 757.7,463.4 760.2,468.5 760.2,474.3 759.4,477.7 756,479.3" fill="none" stroke="#000" stroke-opacity="0.35" stroke-width="12" stroke-linejoin="round" stroke-linecap="round"/>
<polyline points="679.8,501.1 684.8,497.8 688.2,495.2 691.5,491.1 694,487.7 696.6,484.4 698.2,482.7 694.9,478.5 693.2,474.3 691.5,470.1 691.5,466.8 694.9,465.9 698.2,463.4" fill="none" stroke="#000" stroke-opacity="0.3" stroke-width="9" stroke-linejoin="round" stroke-linecap="round"/>
<polygon points="680.5,452 692,452 694,460 693.5,470 692,478 684,481 680.5,471 680,461" fill="#000" fill-opacity="0.25"/>
<polygon points="660.1,544.6 659.7,528.7 658,522.9 663.9,522 667.2,521.2 667.2,514.5 667.2,509.5 669.8,504.5 674.8,503.6 679.8,501.1 684.8,497.8 688.2,495.2 691.5,491.1 694,487.7 696.6,484.4 698.2,482.7 694.9,478.5 693.2,474.3 691.5,470.1 691.5,466.8 694.9,465.9 698.2,463.4 701.6,460.9 704.9,457.6 708.3,456.7 711.6,456.7 714.1,459.2 717.5,460.1 721.7,458.4 725,455.9 726.7,452.5 724.2,449.2 728.4,446.7 733.4,445.8 737.6,446.7 740.9,450 745.1,452.5 749.3,455.9 753.5,459.2 757.7,463.4 760.2,468.5 760.2,474.3 759.4,477.7 756,479.3 753.5,481.8 750.1,486 747.6,489.4 745.1,493.6 742.6,496.9 738.4,499.4 734.2,501.1 730.9,503.6 728.4,507.8 725,510.3 720,512 717.5,514.5 715.8,517.9 716.6,522.9 718.3,526.2 716.6,529.6 711.6,530.4 706.6,530.4 703.3,528.7 703.3,532.9 699.9,536.3 698.2,539.6 699.1,544.6" fill="#fff" stroke="#101820" stroke-width="1.2"/>
<path d="M693.6,339.9 L697.9,345.6 L699.4,357 L701.5,364.2 L707.9,372.7 L710.8,379.9 L714.4,385.6 L715.8,394.2 L714.4,402.8 L714.4,411.3 L713.7,417.1 L712.9,422.8 L715.8,428.5 L719.4,435.6 L720.8,439.9 L718.7,444.9 L714.4,447.8 L712.9,452.8 L711.5,458.5 M700.1,339.9 L705.8,346.3 L710.8,351.3 L712.9,357 L716.5,362.7 L721.5,365.6 L726.5,371.3 L733.7,377 L739.4,379.9 L746.5,382.7 L753.7,385.6 L760.8,389.9 L768,392 L773.7,398.5 L779.4,399.9 L785.1,397 L792.3,394.9 M588.1,411.3 L593.6,414.2 L599.3,419.9 L606.4,420.6 L613.6,418.5 L620.7,417.1 L627.9,414.2 L635.7,409.9 L635,417.8 L631.5,420.6 L635,421.3 L640,423.5 L645,419.2 L650.8,419.9 L655,415.6 L662.2,412.8 L670.8,412.8 L677.9,414.2 L683.6,412.1 L685.1,407.8 L689.4,408.5 L695.1,409.2 L699.4,408.5 L700.8,412.8 L706.5,414.2 L711.5,414.9 L714.4,417.1 M588.1,465.7 L593.6,467.1 L600.7,472.1 L606.4,477.8 L613.6,485.7 L618.2,493.5 L619.3,488.5 L620,480 L623.6,474.2 L622.2,469.9 L617.9,462.8 L614.3,461.4 L613.6,464.9 L619.3,461.4 L625,459.9 L632.2,455.7 L639.3,458.5 L645,461.4 L652.2,462.8 L656.5,466.4 L662.2,469.9 L667.9,475.7 L670.8,481.4 L674.3,484.2 L679.3,484.2 L685.1,482.8 L690.8,484.2 L694.4,485.7" fill="none" stroke="#2a2a2a" stroke-width="0.9" stroke-opacity="0.85"/>
<path d="M685.8,434.6 L688.7,441.9 L696.5,442.3 L690.4,447.3 L692.4,454.8 L685.8,450.6 L679.3,454.8 L681.3,447.3 L675.2,442.3 L683,441.9Z" fill="#000"/>
</g>
<rect x="588.0" y="340.0" width="204.0" height="204.0" fill="none" stroke="#111" stroke-width="1.6"/>
<clipPath id="cb3"><rect x="840.0" y="340.0" width="204.0" height="204.0"/></clipPath>
<g clip-path="url(#cb3)">
<rect x="838" y="338" width="208" height="208" fill="#83a7bc"/>
<polygon points="857,337 894.2,337 895.6,351.3 894.2,365.6 887,379.9 877,394.2 865.6,405.6 854.2,412.8 842.7,414.2 837,414.2 837,371.3 844.1,371.3 852.7,365.6 857,351.3" fill="#ffffbf"/>
<polygon points="968.5,337 1047.1,337 1047.1,368.4 1037.1,365.6 1022.8,359.9 1008.5,355.6 994.2,354.2 980,351.3 971.4,344.1" fill="#ffffbf"/>
<polygon points="1012.8,337 1047.1,337 1047.1,362.7 1037.1,358.4 1027.1,351.3 1018.6,344.1" fill="#fed497"/>
<polygon points="1025.7,337 1047.1,337 1047.1,352.7 1040,349.9 1032.8,344.1" fill="#fe8254"/>
<polygon points="1038.6,337 1047.1,337 1047.1,344.1 1042.9,342.7" fill="#f92b23"/>
<polygon points="898.5,379.9 908.5,375.6 922.8,374.2 937.1,377 951.4,379.9 965.7,384.2 975.7,391.3 980,401.3 977.1,411.3 965.7,418.5 951.4,425.6 937.1,434.2 925.6,442.8 912.8,448.5 901.3,447.1 895.6,437.1 894.2,425.6 895.6,411.3 897,397" fill="#1574b8"/>
<polygon points="837,428.5 845.6,428.5 855.6,432.8 861.3,437.1 857,442.8 845.6,444.2 837,443.5" fill="#1574b8"/>
<polygon points="1022.8,382.7 1030,378.5 1040,377 1047.1,377 1047.1,431.3 1040,422.8 1034.3,411.3 1030,401.3 1025.7,394.2" fill="#1574b8"/>
<polygon points="848.4,547.1 854.2,534.3 861.3,520 867,505.7 871.3,491.4 878.5,490 881.3,501.4 878.5,515.7 874.2,530 869.9,547.1" fill="#1574b8"/>
<polygon points="837,480 842.7,482.8 848.4,494.2 849.9,508.5 847,522.8 842.7,534.3 837,537.1" fill="#ffffbf"/>
<polygon points="872.7,547.1 878.5,534.3 884.2,520 891.3,504.3 899.9,487.1 908.5,472.8 917.1,461.4 927.1,451.4 937.1,441.4 948.5,432.8 962.8,425.6 977.1,421.3 991.4,418.5 1005.7,418.5 1020,421.3 1034.3,428.5 1047.1,437.1 1047.1,547.1" fill="#ffffbf"/>
<polygon points="882.7,547.1 888.5,534.3 894.2,520 901.3,504.3 909.9,488.5 919.9,474.2 929.9,462.8 939.9,451.4 951.4,442.8 965.7,437.1 980,431.3 994.2,428.5 1008.5,429.9 1022.8,435.6 1034.3,445.6 1042.9,457.1 1047.1,465.7 1047.1,522.8 1037.1,534.3 1025.7,547.1" fill="#fed497"/>
<polygon points="907,547.1 908.5,534.3 914.2,520 919.9,501.4 925.6,482.8 931.3,472.8 939.9,462.8 948.5,454.2 962.8,449.9 974.2,445.6 980,437.1 991.4,431.3 1008.5,434.2 1022.8,442.8 1034.3,455.7 1040,472.8 1040,491.4 1034.3,508.5 1025.7,522.8 1015.7,537.1 1008.5,547.1" fill="#fe8254"/>
<polygon points="1000,439.9 1008.5,438.5 1018.6,444.2 1027.1,455.7 1032.8,469.9 1034.3,487.1 1030,501.4 1021.4,515.7 1011.4,528.6 1001.4,540 997.1,547.1 949.9,547.1 965.7,522.8 994.2,494.2 1001.4,465.7" fill="#f92b23"/>
<polygon points="937.1,480 942.8,472.8 948.5,487.1 942.8,494.2 937.1,491.4" fill="#f92b23"/>
<polygon points="912.1,544.6 911.7,528.7 910,522.9 915.9,522 919.2,521.2 919.2,514.5 919.2,509.5 921.8,504.5 926.8,503.6 931.8,501.1 936.8,497.8 940.2,495.2 943.5,491.1 946,487.7 948.6,484.4 950.2,482.7 946.9,478.5 945.2,474.3 943.5,470.1 943.5,466.8 946.9,465.9 950.2,463.4 953.6,460.9 956.9,457.6 960.3,456.7 963.6,456.7 966.1,459.2 969.5,460.1 973.7,458.4 977,455.9 978.7,452.5 976.2,449.2 980.4,446.7 985.4,445.8 989.6,446.7 992.9,450 997.1,452.5 1001.3,455.9 1005.5,459.2 1009.7,463.4 1012.2,468.5 1012.2,474.3 1011.4,477.7 1008,479.3 1005.5,481.8 1002.1,486 999.6,489.4 997.1,493.6 994.6,496.9 990.4,499.4 986.2,501.1 982.9,503.6 980.4,507.8 977,510.3 972,512 969.5,514.5 967.8,517.9 968.6,522.9 970.3,526.2 968.6,529.6 963.6,530.4 958.6,530.4 955.3,528.7 955.3,532.9 951.9,536.3 950.2,539.6 951.1,544.6" fill="none" stroke="#000" stroke-opacity="0.5" stroke-width="6" stroke-linejoin="round"/>
<polyline points="997.1,452.5 1001.3,455.9 1005.5,459.2 1009.7,463.4 1012.2,468.5 1012.2,474.3 1011.4,477.7 1008,479.3" fill="none" stroke="#000" stroke-opacity="0.35" stroke-width="12" stroke-linejoin="round" stroke-linecap="round"/>
<polyline points="931.8,501.1 936.8,497.8 940.2,495.2 943.5,491.1 946,487.7 948.6,484.4 950.2,482.7 946.9,478.5 945.2,474.3 943.5,470.1 943.5,466.8 946.9,465.9 950.2,463.4" fill="none" stroke="#000" stroke-opacity="0.3" stroke-width="9" stroke-linejoin="round" stroke-linecap="round"/>
<polygon points="932.5,452 944,452 946,460 945.5,470 944,478 936,481 932.5,471 932,461" fill="#000" fill-opacity="0.25"/>
<polygon points="912.1,544.6 911.7,528.7 910,522.9 915.9,522 919.2,521.2 919.2,514.5 919.2,509.5 921.8,504.5 926.8,503.6 931.8,501.1 936.8,497.8 940.2,495.2 943.5,491.1 946,487.7 948.6,484.4 950.2,482.7 946.9,478.5 945.2,474.3 943.5,470.1 943.5,466.8 946.9,465.9 950.2,463.4 953.6,460.9 956.9,457.6 960.3,456.7 963.6,456.7 966.1,459.2 969.5,460.1 973.7,458.4 977,455.9 978.7,452.5 976.2,449.2 980.4,446.7 985.4,445.8 989.6,446.7 992.9,450 997.1,452.5 1001.3,455.9 1005.5,459.2 1009.7,463.4 1012.2,468.5 1012.2,474.3 1011.4,477.7 1008,479.3 1005.5,481.8 1002.1,486 999.6,489.4 997.1,493.6 994.6,496.9 990.4,499.4 986.2,501.1 982.9,503.6 980.4,507.8 977,510.3 972,512 969.5,514.5 967.8,517.9 968.6,522.9 970.3,526.2 968.6,529.6 963.6,530.4 958.6,530.4 955.3,528.7 955.3,532.9 951.9,536.3 950.2,539.6 951.1,544.6" fill="#fff" stroke="#101820" stroke-width="1.2"/>
<path d="M945.6,339.9 L949.9,345.6 L951.4,357 L953.5,364.2 L959.9,372.7 L962.8,379.9 L966.4,385.6 L967.8,394.2 L966.4,402.8 L966.4,411.3 L965.7,417.1 L964.9,422.8 L967.8,428.5 L971.4,435.6 L972.8,439.9 L970.7,444.9 L966.4,447.8 L964.9,452.8 L963.5,458.5 M952.1,339.9 L957.8,346.3 L962.8,351.3 L964.9,357 L968.5,362.7 L973.5,365.6 L978.5,371.3 L985.7,377 L991.4,379.9 L998.5,382.7 L1005.7,385.6 L1012.8,389.9 L1020,392 L1025.7,398.5 L1031.4,399.9 L1037.1,397 L1044.3,394.9 M840.1,411.3 L845.6,414.2 L851.3,419.9 L858.4,420.6 L865.6,418.5 L872.7,417.1 L879.9,414.2 L887.7,409.9 L887,417.8 L883.5,420.6 L887,421.3 L892,423.5 L897,419.2 L902.8,419.9 L907,415.6 L914.2,412.8 L922.8,412.8 L929.9,414.2 L935.6,412.1 L937.1,407.8 L941.4,408.5 L947.1,409.2 L951.4,408.5 L952.8,412.8 L958.5,414.2 L963.5,414.9 L966.4,417.1 M840.1,465.7 L845.6,467.1 L852.7,472.1 L858.4,477.8 L865.6,485.7 L870.2,493.5 L871.3,488.5 L872,480 L875.6,474.2 L874.2,469.9 L869.9,462.8 L866.3,461.4 L865.6,464.9 L871.3,461.4 L877,459.9 L884.2,455.7 L891.3,458.5 L897,461.4 L904.2,462.8 L908.5,466.4 L914.2,469.9 L919.9,475.7 L922.8,481.4 L926.3,484.2 L931.3,484.2 L937.1,482.8 L942.8,484.2 L946.4,485.7" fill="none" stroke="#2a2a2a" stroke-width="0.9" stroke-opacity="0.85"/>
<path d="M937.8,434.6 L940.7,441.9 L948.5,442.3 L942.4,447.3 L944.4,454.8 L937.8,450.6 L931.3,454.8 L933.3,447.3 L927.2,442.3 L935,441.9Z" fill="#000"/>
</g>
<rect x="840.0" y="340.0" width="204.0" height="204.0" fill="none" stroke="#111" stroke-width="1.6"/>
<clipPath id="cc0"><rect x="93.0" y="585.0" width="204.0" height="204.0"/></clipPath>
<g clip-path="url(#cc0)">
<rect x="91" y="583" width="208" height="208" fill="#83a7bc"/>
<polygon points="101.4,582 147.2,582 150,590.6 154.3,603.4 161.5,614.9 167.2,624.9 170.1,639.2 167.2,650.6 157.2,659.2 144.3,662.1 132.9,659.2 124.3,649.2 121.4,636.3 124.3,623.5 130,614.9 125.7,610.6 115.7,606.3 107.2,600.6 101.4,593.4" fill="#ffffbf"/>
<polygon points="135.7,630.6 141.5,623.5 150,622 158.6,627.7 161.5,637.8 158.6,647.8 150,652 141.5,650.6 135.7,642" fill="#fed497"/>
<polygon points="114.3,582 138.6,582 137.2,593.4 131.5,599.2 122.9,597.7 117.2,590.6" fill="#fed497"/>
<polygon points="170.1,582 218.7,582 215.8,590.6 204.4,593.4 190.1,592 175.8,589.1" fill="#ffffbf"/>
<polygon points="190.1,582 218.7,582 215.8,587.7 197.2,589.1" fill="#fed497"/>
<polygon points="211.5,609.2 225.8,605.6 240.1,602 254.4,597.7 264.4,594.2 270.1,599.2 275.8,613.4 281.6,627.7 290.1,636.3 300.1,638.5 300.1,684.9 287.3,687.8 274.4,689.2 270.1,696.4 275.8,707.8 287.3,722.1 300.1,729.2 300.1,740.7 283,739.2 268.7,740.7 254.4,745 247.2,753.5 233,739.2 218.7,710.7 204.4,699.2 195.8,684.9 198.6,667.8 204.4,659.2 210.1,646.3 212.9,624.9" fill="#ffffbf"/>
<polygon points="215.8,670.6 221.5,660.6 233,656.3 247.2,657.8 258.7,663.5 265.8,674.9 264.4,686.4 254.4,693.5 240.1,696.4 225.8,694.9 218.7,686.4" fill="#83a7bc"/>
<polygon points="222.9,624.9 227.2,614.9 240.1,607.7 254.4,604.9 268.7,607.7 280.1,619.2 290.1,636.3 300.1,642 300.1,674.9 290.1,673.5 275.8,662.1 261.5,650.6 247.2,643.5 233,639.2 224.4,633.5" fill="#fed497"/>
<polygon points="235.8,624.9 244.4,617.7 257.3,614.9 267.3,619.2 275.8,630.6 280.1,642 280.1,653.5 273,652 261.5,643.5 247.2,636.3 238.7,632" fill="#fe8254"/>
<polygon points="247.2,624.9 254.4,622 263,623.5 265.8,630.6 264.4,636.3 257.3,634.9 250.1,630.6" fill="#f92b23"/>
<polygon points="90,674.9 98.6,676.3 107.2,684.9 114.3,696.4 122.9,706.4 130,710.7 134.3,717.8 135.7,732.1 137.2,753.5 138.6,775 138.6,792.1 90,792.1" fill="#ffffbf"/>
<polygon points="90,713.5 98.6,716.4 111.4,725 122.9,739.2 128.6,753.5 130,767.8 128.6,782.1 125.7,792.1 90,792.1" fill="#fed497"/>
<polygon points="90,779.3 98.6,780.7 104.3,786.4 104.3,792.1 90,792.1" fill="#fe8254"/>
<polygon points="247.2,792.1 254.4,779.3 261.5,767.8 275.8,763.6 290.1,765 300.1,767.8 300.1,792.1" fill="#ffffbf"/>
<polygon points="157.2,594.9 170.1,593.4 182.9,597.7 192.9,606.3 200.1,617.7 201.5,632 198.6,646.3 195.8,657.8 190.1,667.8 181.5,679.2 170.1,690.6 158.6,699.2 147.2,704.9 132.9,700.7 122.9,693.5 114.3,679.2 104.3,666.3 90,662.1 90,636.3 101.4,636.3 112.9,642 121.4,653.5 130,663.5 144.3,669.2 158.6,667.8 167.2,662.1 171.5,653.5 170.1,639.2 165.8,624.9 160,610.6 155.8,599.2" fill="#1574b8"/>
<polygon points="227.2,582 254.4,582 253,590.6 244.4,597.7 233,596.3 227.2,589.1" fill="#1574b8"/>
<polygon points="278.7,582 300.1,582 300.1,636.3 293,633.5 284.4,624.9 278.7,610.6 277.3,596.3" fill="#1574b8"/>
<polygon points="222.9,676.3 227.2,670.6 235.8,669.2 244.4,673.5 245.8,680.6 240.1,684.9 230.1,684.9 224.4,682.1" fill="#1574b8"/>
<polygon points="150,736.4 157.2,733.5 165.8,742.1 170.1,753.5 168.6,767.8 161.5,766.4 152.9,757.8 150,746.4" fill="#1574b8"/>
<polygon points="218.7,760.7 227.2,753.5 234.4,757.8 233,772.1 227.2,782.1 218.7,782.1 215.8,770.7" fill="#1574b8"/>
<polygon points="293,696.4 300.1,693.5 300.1,707.8 294.4,704.9" fill="#1574b8"/>
<polygon points="195.8,667.8 202.9,662.1 211.5,664.9 215.8,674.9 214.4,689.2 208.7,696.4 200.1,697.8 195.8,690.6 198.6,680.6" fill="#ffffbf"/>
<polygon points="254.4,706.4 264.4,704.9 273,710.7 274.4,722.1 268.7,727.8 258.7,725" fill="#fed497"/>
<polygon points="170.1,704.9 178.6,700.7 190.1,699.2 198.6,704.9 195.8,725 190.1,746.4 178.6,750.7 170.1,746.4 167.2,725" fill="#fed497"/>
<polygon points="175.8,710.7 184.3,704.9 195.8,707.8 198.6,725 192.9,742.1 181.5,746.4 174.3,736.4" fill="#fe8254"/>
<polygon points="178.6,717.8 187.2,710.7 195.8,713.5 198.6,730.7 192.9,742.1 181.5,742.1 177.2,732.1" fill="#f92b23"/>
<polygon points="211.5,702.1 218.7,699.2 225.8,700.7 224.4,706.4 215.8,707.8" fill="#f92b23"/>
<polygon points="162.3,789.6 161.9,773.7 160.2,767.9 166.1,767 169.4,766.2 169.4,759.5 169.4,754.5 172,749.5 177,748.6 182,746.1 187,742.8 190.4,740.2 193.7,736.1 196.2,732.7 198.8,729.4 200.4,727.7 197.1,723.5 195.4,719.3 193.7,715.1 193.7,711.8 197.1,710.9 200.4,708.4 203.8,705.9 207.1,702.6 210.5,701.7 213.8,701.7 216.3,704.2 219.7,705.1 223.9,703.4 227.2,700.9 228.9,697.5 226.4,694.2 230.6,691.7 235.6,690.8 239.8,691.7 243.1,695 247.3,697.5 251.5,700.9 255.7,704.2 259.9,708.4 262.4,713.5 262.4,719.3 261.6,722.7 258.2,724.3 255.7,726.8 252.3,731 249.8,734.4 247.3,738.6 244.8,741.9 240.6,744.4 236.4,746.1 233.1,748.6 230.6,752.8 227.2,755.3 222.2,757 219.7,759.5 218,762.9 218.8,767.9 220.5,771.2 218.8,774.6 213.8,775.4 208.8,775.4 205.5,773.7 205.5,777.9 202.1,781.3 200.4,784.6 201.3,789.6" fill="none" stroke="#000" stroke-opacity="0.5" stroke-width="6" stroke-linejoin="round"/>
<polyline points="247.3,697.5 251.5,700.9 255.7,704.2 259.9,708.4 262.4,713.5 262.4,719.3 261.6,722.7 258.2,724.3" fill="none" stroke="#000" stroke-opacity="0.35" stroke-width="12" stroke-linejoin="round" stroke-linecap="round"/>
<polyline points="182,746.1 187,742.8 190.4,740.2 193.7,736.1 196.2,732.7 198.8,729.4 200.4,727.7 197.1,723.5 195.4,719.3 193.7,715.1 193.7,711.8 197.1,710.9 200.4,708.4" fill="none" stroke="#000" stroke-opacity="0.3" stroke-width="9" stroke-linejoin="round" stroke-linecap="round"/>
<polygon points="182.7,697 194.2,697 196.2,705 195.7,715 194.2,723 186.2,726 182.7,716 182.2,706" fill="#000" fill-opacity="0.25"/>
<polygon points="162.3,789.6 161.9,773.7 160.2,767.9 166.1,767 169.4,766.2 169.4,759.5 169.4,754.5 172,749.5 177,748.6 182,746.1 187,742.8 190.4,740.2 193.7,736.1 196.2,732.7 198.8,729.4 200.4,727.7 197.1,723.5 195.4,719.3 193.7,715.1 193.7,711.8 197.1,710.9 200.4,708.4 203.8,705.9 207.1,702.6 210.5,701.7 213.8,701.7 216.3,704.2 219.7,705.1 223.9,703.4 227.2,700.9 228.9,697.5 226.4,694.2 230.6,691.7 235.6,690.8 239.8,691.7 243.1,695 247.3,697.5 251.5,700.9 255.7,704.2 259.9,708.4 262.4,713.5 262.4,719.3 261.6,722.7 258.2,724.3 255.7,726.8 252.3,731 249.8,734.4 247.3,738.6 244.8,741.9 240.6,744.4 236.4,746.1 233.1,748.6 230.6,752.8 227.2,755.3 222.2,757 219.7,759.5 218,762.9 218.8,767.9 220.5,771.2 218.8,774.6 213.8,775.4 208.8,775.4 205.5,773.7 205.5,777.9 202.1,781.3 200.4,784.6 201.3,789.6" fill="#fff" stroke="#101820" stroke-width="1.2"/>
<path d="M195.8,584.9 L200.1,590.6 L201.6,602 L203.7,609.2 L210.1,617.7 L213,624.9 L216.6,630.6 L218,639.2 L216.6,647.8 L216.6,656.3 L215.9,662.1 L215.1,667.8 L218,673.5 L221.6,680.6 L223,684.9 L220.9,689.9 L216.6,692.8 L215.1,697.8 L213.7,703.5 M202.3,584.9 L208,591.3 L213,596.3 L215.1,602 L218.7,607.7 L223.7,610.6 L228.7,616.3 L235.9,622 L241.6,624.9 L248.7,627.7 L255.9,630.6 L263,634.9 L270.2,637 L275.9,643.5 L281.6,644.9 L287.3,642 L294.5,639.9 M90.3,656.3 L95.8,659.2 L101.5,664.9 L108.6,665.6 L115.8,663.5 L122.9,662.1 L130.1,659.2 L137.9,654.9 L137.2,662.8 L133.7,665.6 L137.2,666.3 L142.2,668.5 L147.2,664.2 L153,664.9 L157.2,660.6 L164.4,657.8 L173,657.8 L180.1,659.2 L185.8,657.1 L187.3,652.8 L191.6,653.5 L197.3,654.2 L201.6,653.5 L203,657.8 L208.7,659.2 L213.7,659.9 L216.6,662.1 M90.3,710.7 L95.8,712.1 L102.9,717.1 L108.6,722.8 L115.8,730.7 L120.4,738.5 L121.5,733.5 L122.2,725 L125.8,719.2 L124.4,714.9 L120.1,707.8 L116.5,706.4 L115.8,709.9 L121.5,706.4 L127.2,704.9 L134.4,700.7 L141.5,703.5 L147.2,706.4 L154.4,707.8 L158.7,711.4 L164.4,714.9 L170.1,720.7 L173,726.4 L176.5,729.2 L181.5,729.2 L187.3,727.8 L193,729.2 L196.6,730.7" fill="none" stroke="#2a2a2a" stroke-width="0.9" stroke-opacity="0.85"/>
<path d="M188,679.6 L190.9,686.9 L198.7,687.3 L192.6,692.3 L194.6,699.8 L188,695.6 L181.5,699.8 L183.5,692.3 L177.4,687.3 L185.2,686.9Z" fill="#000"/>
</g>
<rect x="93.0" y="585.0" width="204.0" height="204.0" fill="none" stroke="#111" stroke-width="1.6"/>
<clipPath id="cc1"><rect x="340.2" y="585.0" width="204.0" height="204.0"/></clipPath>
<g clip-path="url(#cc1)">
<rect x="338.2" y="583" width="208" height="208" fill="#83a7bc"/>
<polygon points="355.2,582 392.3,582 393.8,590.6 388,597.7 378,602 366.6,600.6 358,594.9" fill="#ffffbf"/>
<polygon points="373.7,582 382.3,582 380.9,589.1 375.2,589.9" fill="#fed497"/>
<polygon points="420.9,582 448.1,582 446.6,593.4 438.1,597.7 426.6,594.9" fill="#ffffbf"/>
<polygon points="476.7,582 548.1,582 548.1,696.4 538.1,694.9 531,700.7 535.3,713.5 548.1,725 548.1,792.1 495.2,792.1 499.5,775 498.1,760.7 489.5,753.5 466.7,725 459.5,703.5 449.5,690.6 443.8,674.9 446.6,662.1 452.4,650.6 458.1,636.3 462.4,624.9 472.4,613.4 476.7,603.4" fill="#ffffbf"/>
<polygon points="396.6,650.6 402.3,642 412.3,633.5 422.3,627.7 426.6,632 422.3,639.2 413.8,646.3 403.8,652" fill="#ffffbf"/>
<polygon points="338,667.8 349.4,670.6 355.2,682.1 359.4,696.4 366.6,707.8 375.2,717.8 380.9,732.1 385.2,746.4 388,767.8 388,792.1 338,792.1" fill="#ffffbf"/>
<polygon points="338,710.7 349.4,717.8 363.7,732.1 373.7,746.4 378,760.7 378,779.3 373.7,792.1 338,792.1" fill="#fed497"/>
<polygon points="338,775 346.6,777.8 350.9,785 350.9,792.1 338,792.1" fill="#fe8254"/>
<polygon points="535.3,590.6 541,587.7 548.1,586.3 548.1,630.6 541,624.9 536.7,610.6" fill="#83a7bc"/>
<polygon points="456.7,673.5 463.8,663.5 473.8,657.8 488.1,656.3 502.4,659.2 513.8,667.8 519.6,682.1 516.7,693.5 502.4,697.8 488.1,696.4 473.8,693.5 463.8,687.8" fill="#83a7bc"/>
<polygon points="531,700.7 541,693.5 548.1,693.5 548.1,725 541,719.2 533.8,710.7" fill="#83a7bc"/>
<polygon points="508.1,746.4 513.8,739.2 523.8,737.8 531,742.1 529.6,750.7 521,756.4 511,755" fill="#83a7bc"/>
<polygon points="473.8,756.4 488.1,753.5 498.1,762.1 501,775 496.7,792.1 452.4,792.1 459.5,775 466.7,765" fill="#83a7bc"/>
<polygon points="345.1,649.2 352.3,636.3 359.4,624.9 362.3,613.4 373.7,606.3 388,603.4 400.9,604.9 405.2,614.9 402.3,627.7 395.2,636.3 388,643.5 378,650.6 366.6,657.8 355.2,662.1 345.1,662.1" fill="#1574b8"/>
<polygon points="366.6,689.2 369.4,676.3 380.9,670.6 395.2,667.8 409.5,662.1 420.9,653.5 430.9,650.6 438.1,653.5 438.1,664.9 430.9,674.9 418.1,682.1 405.2,684.9 398,690.6 395.2,700.7 386.6,707.8 376.6,707.8 368,700.7" fill="#1574b8"/>
<polygon points="442.4,610.6 446.6,606.3 453.8,607.7 456.7,614.9 452.4,619.2 445.2,617.7" fill="#1574b8"/>
<polygon points="469.5,673.5 476.7,666.3 489.5,664.9 501,669.2 506.7,679.2 503.8,687.8 492.4,690.6 478.1,687.8 470.9,682.1" fill="#1574b8"/>
<polygon points="458.1,792.1 462.4,779.3 470.9,767.8 479.5,762.1 482.4,772.1 478.1,785 473.8,792.1" fill="#1574b8"/>
<polygon points="481,613.4 488.1,600.6 499.5,594.9 516.7,594.9 531,603.4 538.1,617.7 543.9,629.2 548.1,633.5 548.1,674.9 538.1,673.5 523.8,664.9 509.5,656.3 495.2,649.2 481,642 473.8,633.5 475.2,622" fill="#fed497"/>
<polygon points="488.1,616.3 495.2,603.4 506.7,599.2 518.1,602 526.7,613.4 533.8,627.7 542.4,637.8 548.1,642 548.1,670.6 541,669.2 531,660.6 516.7,652 502.4,643.5 492.4,634.9 486.7,624.9" fill="#fe8254"/>
<polygon points="495.2,617.7 501,607.7 509.5,604.9 518.1,610.6 522.4,622 528.1,632 533.8,640.6 531,649.2 522.4,649.2 509.5,640.6 499.5,632 495.2,624.9" fill="#f92b23"/>
<polygon points="443.8,690.6 452.4,689.2 466.7,690.6 473.8,694.9 472.4,700.7 459.5,702.1 446.6,700.7" fill="#fed497"/>
<polygon points="405.2,710.7 418.1,703.5 430.9,700.7 440.9,700.7 443.8,710.7 440.9,732.1 432.3,746.4 420.9,749.3 412.3,746.4 406.6,732.1" fill="#fed497"/>
<polygon points="420.9,713.5 430.9,704.9 442.4,704.9 446.6,717.8 443.8,732.1 435.2,743.5 423.8,746.4 419.5,732.1" fill="#f92b23"/>
<polygon points="502.4,706.4 512.4,704.9 521,713.5 522.4,723.5 515.3,727.8 506.7,723.5" fill="#fed497"/>
<polygon points="409.5,789.6 409.1,773.7 407.4,767.9 413.3,767 416.6,766.2 416.6,759.5 416.6,754.5 419.2,749.5 424.2,748.6 429.2,746.1 434.2,742.8 437.6,740.2 440.9,736.1 443.4,732.7 446,729.4 447.6,727.7 444.3,723.5 442.6,719.3 440.9,715.1 440.9,711.8 444.3,710.9 447.6,708.4 451,705.9 454.3,702.6 457.7,701.7 461,701.7 463.5,704.2 466.9,705.1 471.1,703.4 474.4,700.9 476.1,697.5 473.6,694.2 477.8,691.7 482.8,690.8 487,691.7 490.3,695 494.5,697.5 498.7,700.9 502.9,704.2 507.1,708.4 509.6,713.5 509.6,719.3 508.8,722.7 505.4,724.3 502.9,726.8 499.5,731 497,734.4 494.5,738.6 492,741.9 487.8,744.4 483.6,746.1 480.3,748.6 477.8,752.8 474.4,755.3 469.4,757 466.9,759.5 465.2,762.9 466,767.9 467.7,771.2 466,774.6 461,775.4 456,775.4 452.7,773.7 452.7,777.9 449.3,781.3 447.6,784.6 448.5,789.6" fill="none" stroke="#000" stroke-opacity="0.5" stroke-width="6" stroke-linejoin="round"/>
<polyline points="494.5,697.5 498.7,700.9 502.9,704.2 507.1,708.4 509.6,713.5 509.6,719.3 508.8,722.7 505.4,724.3" fill="none" stroke="#000" stroke-opacity="0.35" stroke-width="12" stroke-linejoin="round" stroke-linecap="round"/>
<polyline points="429.2,746.1 434.2,742.8 437.6,740.2 440.9,736.1 443.4,732.7 446,729.4 447.6,727.7 444.3,723.5 442.6,719.3 440.9,715.1 440.9,711.8 444.3,710.9 447.6,708.4" fill="none" stroke="#000" stroke-opacity="0.3" stroke-width="9" stroke-linejoin="round" stroke-linecap="round"/>
<polygon points="429.9,697 441.4,697 443.4,705 442.9,715 441.4,723 433.4,726 429.9,716 429.4,706" fill="#000" fill-opacity="0.25"/>
<polygon points="409.5,789.6 409.1,773.7 407.4,767.9 413.3,767 416.6,766.2 416.6,759.5 416.6,754.5 419.2,749.5 424.2,748.6 429.2,746.1 434.2,742.8 437.6,740.2 440.9,736.1 443.4,732.7 446,729.4 447.6,727.7 444.3,723.5 442.6,719.3 440.9,715.1 440.9,711.8 444.3,710.9 447.6,708.4 451,705.9 454.3,702.6 457.7,701.7 461,701.7 463.5,704.2 466.9,705.1 471.1,703.4 474.4,700.9 476.1,697.5 473.6,694.2 477.8,691.7 482.8,690.8 487,691.7 490.3,695 494.5,697.5 498.7,700.9 502.9,704.2 507.1,708.4 509.6,713.5 509.6,719.3 508.8,722.7 505.4,724.3 502.9,726.8 499.5,731 497,734.4 494.5,738.6 492,741.9 487.8,744.4 483.6,746.1 480.3,748.6 477.8,752.8 474.4,755.3 469.4,757 466.9,759.5 465.2,762.9 466,767.9 467.7,771.2 466,774.6 461,775.4 456,775.4 452.7,773.7 452.7,777.9 449.3,781.3 447.6,784.6 448.5,789.6" fill="#fff" stroke="#101820" stroke-width="1.2"/>
<path d="M443,584.9 L447.3,590.6 L448.8,602 L450.9,609.2 L457.3,617.7 L460.2,624.9 L463.8,630.6 L465.2,639.2 L463.8,647.8 L463.8,656.3 L463.1,662.1 L462.3,667.8 L465.2,673.5 L468.8,680.6 L470.2,684.9 L468.1,689.9 L463.8,692.8 L462.3,697.8 L460.9,703.5 M449.5,584.9 L455.2,591.3 L460.2,596.3 L462.3,602 L465.9,607.7 L470.9,610.6 L475.9,616.3 L483.1,622 L488.8,624.9 L495.9,627.7 L503.1,630.6 L510.2,634.9 L517.4,637 L523.1,643.5 L528.8,644.9 L534.5,642 L541.7,639.9 M337.5,656.3 L343,659.2 L348.7,664.9 L355.8,665.6 L363,663.5 L370.1,662.1 L377.3,659.2 L385.1,654.9 L384.4,662.8 L380.9,665.6 L384.4,666.3 L389.4,668.5 L394.4,664.2 L400.2,664.9 L404.4,660.6 L411.6,657.8 L420.2,657.8 L427.3,659.2 L433,657.1 L434.5,652.8 L438.8,653.5 L444.5,654.2 L448.8,653.5 L450.2,657.8 L455.9,659.2 L460.9,659.9 L463.8,662.1 M337.5,710.7 L343,712.1 L350.1,717.1 L355.8,722.8 L363,730.7 L367.6,738.5 L368.7,733.5 L369.4,725 L373,719.2 L371.6,714.9 L367.3,707.8 L363.7,706.4 L363,709.9 L368.7,706.4 L374.4,704.9 L381.6,700.7 L388.7,703.5 L394.4,706.4 L401.6,707.8 L405.9,711.4 L411.6,714.9 L417.3,720.7 L420.2,726.4 L423.7,729.2 L428.7,729.2 L434.5,727.8 L440.2,729.2 L443.8,730.7" fill="none" stroke="#2a2a2a" stroke-width="0.9" stroke-opacity="0.85"/>
<path d="M435.2,679.6 L438.1,686.9 L445.9,687.3 L439.8,692.3 L441.8,699.8 L435.2,695.6 L428.7,699.8 L430.7,692.3 L424.6,687.3 L432.4,686.9Z" fill="#000"/>
</g>
<rect x="340.2" y="585.0" width="204.0" height="204.0" fill="none" stroke="#111" stroke-width="1.6"/>
<clipPath id="cc2"><rect x="588.0" y="585.0" width="204.0" height="204.0"/></clipPath>
<g clip-path="url(#cc2)">
<rect x="586" y="583" width="208" height="208" fill="#ffffbf"/>
<polygon points="606,582 627.5,582 626,590.6 618.9,596.3 610.3,596.3 606,590.6" fill="#fed497"/>
<polygon points="621.7,610.6 626,593.4 633.2,584.9 674.6,584.9 686.1,596.3 700.4,604.9 708.9,619.2 711.8,636.3 708.9,649.2 700.4,656.3 691.8,662.1 686.1,653.5 674.6,642 666.1,629.2 650.3,623.5 628.9,622 621.7,617.7" fill="#83a7bc"/>
<polygon points="586,636.3 597.4,633.5 608.9,634.9 618.9,643.5 626,653.5 643.2,657.8 657.5,654.9 668.9,650.6 677.5,653.5 688.9,662.1 694.6,673.5 703.2,684.9 708.9,694.9 704.7,702.1 686.1,703.5 668.9,702.1 650.3,704.9 633.2,710.7 621.7,709.2 611.7,700.7 604.6,684.9 596,672.1 586,667.8" fill="#83a7bc"/>
<polygon points="717.5,682.1 723.2,670.6 731.8,664.9 743.2,666.3 754.7,674.9 760.4,686.4 759,699.2 750.4,706.4 743.2,704.9 736.1,696.4" fill="#83a7bc"/>
<polygon points="786.1,717.8 791.9,713.5 796.1,712.1 796.1,739.2 789,739.2 786.1,729.2" fill="#83a7bc"/>
<polygon points="711.8,792.1 714.7,775 718.9,763.6 726.1,757.8 734.7,757.8 737.5,767.8 736.1,782.1 731.8,792.1" fill="#83a7bc"/>
<polygon points="628.9,636.3 638.9,630.6 651.8,630.6 663.2,636.3 666.1,644.9 660.3,652 647.5,654.9 634.6,652 627.5,644.9" fill="#ffffbf"/>
<polygon points="631.7,639.2 638.9,634.9 650.3,634.9 658.9,639.2 657.5,646.3 647.5,650.6 637.5,649.2 631.7,644.9" fill="#fed497"/>
<polygon points="631.7,590.6 636,586.3 666.1,586.3 674.6,596.3 688.9,607.7 700.4,617.7 703.2,632 700.4,643.5 691.8,653.5 690.4,662.1 693.2,674.9 693.2,686.4 688.9,694.9 677.5,696.4 666.1,692.1 654.6,686.4 650.3,679.2 657.5,670.6 668.9,663.5 674.6,656.3 674.6,643.5 670.3,629.2 660.3,619.2 643.2,617.7 633.2,613.4 630.3,603.4" fill="#1574b8"/>
<polygon points="723.2,682.1 727.5,674.9 736.1,673.5 746.1,679.2 754.7,689.2 756.1,699.2 749,704.9 740.4,699.2 731.8,693.5" fill="#1574b8"/>
<polygon points="686.1,582 796.1,582 796.1,703.5 786.1,696.4 779,682.1 769,667.8 754.7,659.2 740.4,650.6 729,639.2 723.2,624.9 721.8,610.6 714.7,600.6 700.4,590.6" fill="#fed497"/>
<polygon points="721.8,610.6 729,603.4 743.2,597.7 757.5,597.7 771.8,603.4 786.1,614.9 796.1,624.9 796.1,674.9 786.1,673.5 771.8,664.9 757.5,656.3 743.2,647.8 729,639.2 724.7,624.9" fill="#fe8254"/>
<polygon points="730.4,614.9 737.5,607.7 750.4,604.9 764.7,609.2 779,619.2 790.4,627.7 796.1,630.6 796.1,662.1 786.1,660.6 771.8,652 757.5,643.5 743.2,636.3 733.2,629.2" fill="#f92b23"/>
<polygon points="789,582 796.1,582 796.1,590.6 790.4,589.1" fill="#1574b8"/>
<polygon points="586,710.7 594.6,717.8 607.4,732.1 621.7,739.2 628.9,753.5 631.7,767.8 628.9,792.1 586,792.1" fill="#fed497"/>
<polygon points="593.1,767.8 600.3,753.5 611.7,749.3 620.3,753.5 621.7,767.8 618.9,782.1 614.6,792.1 590.3,792.1" fill="#fe8254"/>
<polygon points="588.9,782.1 597.4,779.3 604.6,782.1 607.4,792.1 588.9,792.1" fill="#f92b23"/>
<polygon points="757.5,792.1 760.4,775 769,767.8 786.1,767.8 796.1,770.7 796.1,792.1" fill="#fed497"/>
<polygon points="654.6,725 663.2,713.5 671.8,706.4 683.2,703.5 691.8,703.5 694.6,717.8 691.8,739.2 680.3,750.7 668.9,753.5 660.3,742.1" fill="#fed497"/>
<polygon points="668.9,717.8 674.6,710.7 686.1,707.8 694.6,713.5 694.6,732.1 686.1,745 674.6,750.7 668.9,739.2" fill="#f92b23"/>
<polygon points="750.4,707.8 761.8,706.4 770.4,714.9 771.8,725 764.7,732.1 754.7,727.8" fill="#fed497"/>
<polygon points="657.3,789.6 656.9,773.7 655.2,767.9 661.1,767 664.4,766.2 664.4,759.5 664.4,754.5 667,749.5 672,748.6 677,746.1 682,742.8 685.4,740.2 688.7,736.1 691.2,732.7 693.8,729.4 695.4,727.7 692.1,723.5 690.4,719.3 688.7,715.1 688.7,711.8 692.1,710.9 695.4,708.4 698.8,705.9 702.1,702.6 705.5,701.7 708.8,701.7 711.3,704.2 714.7,705.1 718.9,703.4 722.2,700.9 723.9,697.5 721.4,694.2 725.6,691.7 730.6,690.8 734.8,691.7 738.1,695 742.3,697.5 746.5,700.9 750.7,704.2 754.9,708.4 757.4,713.5 757.4,719.3 756.6,722.7 753.2,724.3 750.7,726.8 747.3,731 744.8,734.4 742.3,738.6 739.8,741.9 735.6,744.4 731.4,746.1 728.1,748.6 725.6,752.8 722.2,755.3 717.2,757 714.7,759.5 713,762.9 713.8,767.9 715.5,771.2 713.8,774.6 708.8,775.4 703.8,775.4 700.5,773.7 700.5,777.9 697.1,781.3 695.4,784.6 696.3,789.6" fill="none" stroke="#000" stroke-opacity="0.5" stroke-width="6" stroke-linejoin="round"/>
<polyline points="742.3,697.5 746.5,700.9 750.7,704.2 754.9,708.4 757.4,713.5 757.4,719.3 756.6,722.7 753.2,724.3" fill="none" stroke="#000" stroke-opacity="0.35" stroke-width="12" stroke-linejoin="round" stroke-linecap="round"/>
<polyline points="677,746.1 682,742.8 685.4,740.2 688.7,736.1 691.2,732.7 693.8,729.4 695.4,727.7 692.1,723.5 690.4,719.3 688.7,715.1 688.7,711.8 692.1,710.9 695.4,708.4" fill="none" stroke="#000" stroke-opacity="0.3" stroke-width="9" stroke-linejoin="round" stroke-linecap="round"/>
<polygon points="677.7,697 689.2,697 691.2,705 690.7,715 689.2,723 681.2,726 677.7,716 677.2,706" fill="#000" fill-opacity="0.25"/>
<polygon points="657.3,789.6 656.9,773.7 655.2,767.9 661.1,767 664.4,766.2 664.4,759.5 664.4,754.5 667,749.5 672,748.6 677,746.1 682,742.8 685.4,740.2 688.7,736.1 691.2,732.7 693.8,729.4 695.4,727.7 692.1,723.5 690.4,719.3 688.7,715.1 688.7,711.8 692.1,710.9 695.4,708.4 698.8,705.9 702.1,702.6 705.5,701.7 708.8,701.7 711.3,704.2 714.7,705.1 718.9,703.4 722.2,700.9 723.9,697.5 721.4,694.2 725.6,691.7 730.6,690.8 734.8,691.7 738.1,695 742.3,697.5 746.5,700.9 750.7,704.2 754.9,708.4 757.4,713.5 757.4,719.3 756.6,722.7 753.2,724.3 750.7,726.8 747.3,731 744.8,734.4 742.3,738.6 739.8,741.9 735.6,744.4 731.4,746.1 728.1,748.6 725.6,752.8 722.2,755.3 717.2,757 714.7,759.5 713,762.9 713.8,767.9 715.5,771.2 713.8,774.6 708.8,775.4 703.8,775.4 700.5,773.7 700.5,777.9 697.1,781.3 695.4,784.6 696.3,789.6" fill="#fff" stroke="#101820" stroke-width="1.2"/>
<path d="M690.8,584.9 L695.1,590.6 L696.6,602 L698.7,609.2 L705.1,617.7 L708,624.9 L711.6,630.6 L713,639.2 L711.6,647.8 L711.6,656.3 L710.9,662.1 L710.1,667.8 L713,673.5 L716.6,680.6 L718,684.9 L715.9,689.9 L711.6,692.8 L710.1,697.8 L708.7,703.5 M697.3,584.9 L703,591.3 L708,596.3 L710.1,602 L713.7,607.7 L718.7,610.6 L723.7,616.3 L730.9,622 L736.6,624.9 L743.7,627.7 L750.9,630.6 L758,634.9 L765.2,637 L770.9,643.5 L776.6,644.9 L782.3,642 L789.5,639.9 M585.3,656.3 L590.8,659.2 L596.5,664.9 L603.6,665.6 L610.8,663.5 L617.9,662.1 L625.1,659.2 L632.9,654.9 L632.2,662.8 L628.7,665.6 L632.2,666.3 L637.2,668.5 L642.2,664.2 L648,664.9 L652.2,660.6 L659.4,657.8 L668,657.8 L675.1,659.2 L680.8,657.1 L682.3,652.8 L686.6,653.5 L692.3,654.2 L696.6,653.5 L698,657.8 L703.7,659.2 L708.7,659.9 L711.6,662.1 M585.3,710.7 L590.8,712.1 L597.9,717.1 L603.6,722.8 L610.8,730.7 L615.4,738.5 L616.5,733.5 L617.2,725 L620.8,719.2 L619.4,714.9 L615.1,707.8 L611.5,706.4 L610.8,709.9 L616.5,706.4 L622.2,704.9 L629.4,700.7 L636.5,703.5 L642.2,706.4 L649.4,707.8 L653.7,711.4 L659.4,714.9 L665.1,720.7 L668,726.4 L671.5,729.2 L676.5,729.2 L682.3,727.8 L688,729.2 L691.6,730.7" fill="none" stroke="#2a2a2a" stroke-width="0.9" stroke-opacity="0.85"/>
<path d="M683,679.6 L685.9,686.9 L693.7,687.3 L687.6,692.3 L689.6,699.8 L683,695.6 L676.5,699.8 L678.5,692.3 L672.4,687.3 L680.2,686.9Z" fill="#000"/>
</g>
<rect x="588.0" y="585.0" width="204.0" height="204.0" fill="none" stroke="#111" stroke-width="1.6"/>
<clipPath id="cc3"><rect x="840.0" y="585.0" width="204.0" height="204.0"/></clipPath>
<g clip-path="url(#cc3)">
<rect x="838" y="583" width="208" height="208" fill="#ffffbf"/>
<polygon points="837,582 985.7,582 974.2,596.3 967.1,607.7 964.2,624.9 964.2,642 959.9,653.5 951.4,662.1 954.2,670.6 965.7,662.1 980,659.2 994.2,662.1 1005.7,670.6 1014.3,682.1 1017.1,696.4 1012.8,703.5 1005.7,706.4 987.1,693.5 972.8,690.6 962.8,687.8 951.4,690.6 939.9,700.7 922.8,707.8 908.5,710.7 901.3,717.8 899.9,732.1 894.2,732.1 879.9,725 869.9,719.2 861.3,710.7 854.2,699.2 848.4,682.1 842.7,674.9 837,673.5" fill="#83a7bc"/>
<polygon points="874.2,582 895.6,582 894.2,594.9 885.6,599.2 877,593.4" fill="#ffffbf"/>
<polygon points="837,607.7 845.6,607.7 852.7,613.4 852.7,623.5 845.6,630.6 837,632" fill="#ffffbf"/>
<polygon points="892.8,639.2 897,632 905.6,630.6 912.8,634.9 912.8,644.9 907,652 898.5,652 892.8,646.3" fill="#ffffbf"/>
<polygon points="949.9,662.1 955.7,659.2 959.9,663.5 957.1,667.8 951.4,667.8" fill="#ffffbf"/>
<polygon points="851.3,653.5 858.4,642 869.9,629.2 877,617.7 884.2,614.9 887,622 882.7,632 881.3,646.3 884.2,660.6 884.2,670.6 879.9,682.1 869.9,682.1 859.9,674.9 852.7,664.9" fill="#1574b8"/>
<polygon points="909.9,607.7 917.1,603.4 929.9,606.3 944.2,610.6 952.8,619.2 954.2,632 949.9,643.5 942.8,653.5 944.2,667.8 942.8,682.1 937.1,692.1 925.6,694.9 914.2,693.5 907,684.9 907,670.6 914.2,663.5 925.6,654.9 927.1,644.9 922.8,629.2 917.1,620.6 909.9,613.4" fill="#1574b8"/>
<polygon points="968.5,679.2 974.2,670.6 985.7,669.2 997.1,673.5 1005.7,682.1 1010,693.5 1008.5,703.5 1001.4,706.4 991.4,700.7 980,693.5 971.4,687.8" fill="#1574b8"/>
<polygon points="1042.9,725 1047.1,723.5 1047.1,735 1042.9,733.5" fill="#1574b8"/>
<polygon points="951.4,792.1 962.8,767.8 972.8,757.8 985.7,756.4 991.4,765 992.8,782.1 988.5,792.1" fill="#83a7bc"/>
<polygon points="980,617.7 987.1,600.6 1001.4,592 1022.8,590.6 1037.1,596.3 1047.1,600.6 1047.1,700.7 1037.1,699.2 1027.1,690.6 1020,679.2 1011.4,667.8 1001.4,656.3 990,647.8 980,636.3 977.1,624.9" fill="#fed497"/>
<polygon points="984.2,617.7 991.4,607.7 1005.7,602 1022.8,603.4 1037.1,610.6 1047.1,616.3 1047.1,682.1 1037.1,679.2 1027.1,670.6 1020,659.2 1008.5,647.8 994.2,639.2 985.7,629.2" fill="#fe8254"/>
<polygon points="991.4,620.6 998.5,613.4 1011.4,610.6 1025.7,614.9 1037.1,624.9 1047.1,633.5 1047.1,659.2 1037.1,657.8 1025.7,650.6 1015.7,642 1002.8,634.9 994.2,629.2" fill="#f92b23"/>
<polygon points="837,725 848.4,730.7 865.6,746.4 877,760.7 879.9,775 878.5,792.1 837,792.1" fill="#fed497"/>
<polygon points="1011.4,792.1 1015.7,779.3 1027.1,773.6 1040,773.6 1047.1,775 1047.1,792.1" fill="#fed497"/>
<polygon points="937.1,693.5 951.4,689.2 965.7,690.6 972.8,696.4 971.4,703.5 958.5,704.9 944.2,703.5" fill="#fed497"/>
<polygon points="911.3,732.1 919.9,719.2 929.9,710.7 939.9,706.4 945.6,717.8 944.2,736.4 934.2,749.3 922.8,753.5 914.2,746.4" fill="#fed497"/>
<polygon points="922.8,725 931.3,717.8 942.8,719.2 945.6,732.1 937.1,743.5 927.1,746.4 922.8,736.4" fill="#f92b23"/>
<polygon points="998.5,725 1008.5,710.7 1020,709.2 1027.1,717.8 1025.7,732.1 1015.7,742.1 1004.3,745 997.1,739.2" fill="#fed497"/>
<polygon points="909.3,789.6 908.9,773.7 907.2,767.9 913.1,767 916.4,766.2 916.4,759.5 916.4,754.5 919,749.5 924,748.6 929,746.1 934,742.8 937.4,740.2 940.7,736.1 943.2,732.7 945.8,729.4 947.4,727.7 944.1,723.5 942.4,719.3 940.7,715.1 940.7,711.8 944.1,710.9 947.4,708.4 950.8,705.9 954.1,702.6 957.5,701.7 960.8,701.7 963.3,704.2 966.7,705.1 970.9,703.4 974.2,700.9 975.9,697.5 973.4,694.2 977.6,691.7 982.6,690.8 986.8,691.7 990.1,695 994.3,697.5 998.5,700.9 1002.7,704.2 1006.9,708.4 1009.4,713.5 1009.4,719.3 1008.6,722.7 1005.2,724.3 1002.7,726.8 999.3,731 996.8,734.4 994.3,738.6 991.8,741.9 987.6,744.4 983.4,746.1 980.1,748.6 977.6,752.8 974.2,755.3 969.2,757 966.7,759.5 965,762.9 965.8,767.9 967.5,771.2 965.8,774.6 960.8,775.4 955.8,775.4 952.5,773.7 952.5,777.9 949.1,781.3 947.4,784.6 948.3,789.6" fill="none" stroke="#000" stroke-opacity="0.5" stroke-width="6" stroke-linejoin="round"/>
<polyline points="994.3,697.5 998.5,700.9 1002.7,704.2 1006.9,708.4 1009.4,713.5 1009.4,719.3 1008.6,722.7 1005.2,724.3" fill="none" stroke="#000" stroke-opacity="0.35" stroke-width="12" stroke-linejoin="round" stroke-linecap="round"/>
<polyline points="929,746.1 934,742.8 937.4,740.2 940.7,736.1 943.2,732.7 945.8,729.4 947.4,727.7 944.1,723.5 942.4,719.3 940.7,715.1 940.7,711.8 944.1,710.9 947.4,708.4" fill="none" stroke="#000" stroke-opacity="0.3" stroke-width="9" stroke-linejoin="round" stroke-linecap="round"/>
<polygon points="929.7,697 941.2,697 943.2,705 942.7,715 941.2,723 933.2,726 929.7,716 929.2,706" fill="#000" fill-opacity="0.25"/>
<polygon points="909.3,789.6 908.9,773.7 907.2,767.9 913.1,767 916.4,766.2 916.4,759.5 916.4,754.5 919,749.5 924,748.6 929,746.1 934,742.8 937.4,740.2 940.7,736.1 943.2,732.7 945.8,729.4 947.4,727.7 944.1,723.5 942.4,719.3 940.7,715.1 940.7,711.8 944.1,710.9 947.4,708.4 950.8,705.9 954.1,702.6 957.5,701.7 960.8,701.7 963.3,704.2 966.7,705.1 970.9,703.4 974.2,700.9 975.9,697.5 973.4,694.2 977.6,691.7 982.6,690.8 986.8,691.7 990.1,695 994.3,697.5 998.5,700.9 1002.7,704.2 1006.9,708.4 1009.4,713.5 1009.4,719.3 1008.6,722.7 1005.2,724.3 1002.7,726.8 999.3,731 996.8,734.4 994.3,738.6 991.8,741.9 987.6,744.4 983.4,746.1 980.1,748.6 977.6,752.8 974.2,755.3 969.2,757 966.7,759.5 965,762.9 965.8,767.9 967.5,771.2 965.8,774.6 960.8,775.4 955.8,775.4 952.5,773.7 952.5,777.9 949.1,781.3 947.4,784.6 948.3,789.6" fill="#fff" stroke="#101820" stroke-width="1.2"/>
<path d="M942.8,584.9 L947.1,590.6 L948.6,602 L950.7,609.2 L957.1,617.7 L960,624.9 L963.6,630.6 L965,639.2 L963.6,647.8 L963.6,656.3 L962.9,662.1 L962.1,667.8 L965,673.5 L968.6,680.6 L970,684.9 L967.9,689.9 L963.6,692.8 L962.1,697.8 L960.7,703.5 M949.3,584.9 L955,591.3 L960,596.3 L962.1,602 L965.7,607.7 L970.7,610.6 L975.7,616.3 L982.9,622 L988.6,624.9 L995.7,627.7 L1002.9,630.6 L1010,634.9 L1017.2,637 L1022.9,643.5 L1028.6,644.9 L1034.3,642 L1041.5,639.9 M837.3,656.3 L842.8,659.2 L848.5,664.9 L855.6,665.6 L862.8,663.5 L869.9,662.1 L877.1,659.2 L884.9,654.9 L884.2,662.8 L880.7,665.6 L884.2,666.3 L889.2,668.5 L894.2,664.2 L900,664.9 L904.2,660.6 L911.4,657.8 L920,657.8 L927.1,659.2 L932.8,657.1 L934.3,652.8 L938.6,653.5 L944.3,654.2 L948.6,653.5 L950,657.8 L955.7,659.2 L960.7,659.9 L963.6,662.1 M837.3,710.7 L842.8,712.1 L849.9,717.1 L855.6,722.8 L862.8,730.7 L867.4,738.5 L868.5,733.5 L869.2,725 L872.8,719.2 L871.4,714.9 L867.1,707.8 L863.5,706.4 L862.8,709.9 L868.5,706.4 L874.2,704.9 L881.4,700.7 L888.5,703.5 L894.2,706.4 L901.4,707.8 L905.7,711.4 L911.4,714.9 L917.1,720.7 L920,726.4 L923.5,729.2 L928.5,729.2 L934.3,727.8 L940,729.2 L943.6,730.7" fill="none" stroke="#2a2a2a" stroke-width="0.9" stroke-opacity="0.85"/>
<path d="M935,679.6 L937.9,686.9 L945.7,687.3 L939.6,692.3 L941.6,699.8 L935,695.6 L928.5,699.8 L930.5,692.3 L924.4,687.3 L932.2,686.9Z" fill="#000"/>
</g>
<rect x="840.0" y="585.0" width="204.0" height="204.0" fill="none" stroke="#111" stroke-width="1.6"/>
<clipPath id="cd0"><rect x="93.0" y="830.5" width="204.0" height="204.0"/></clipPath>
<g clip-path="url(#cd0)">
<rect x="91" y="828.5" width="208" height="208" fill="#ffffbf"/>
<polygon points="90,828 98.6,828 97.1,842.3 95.7,853.7 90,859.4" fill="#f92b23"/>
<polygon points="98.6,828 108.6,828 107.2,842.3 102.9,856.6 98.6,870.9 94.3,885.2 90,888 90,859.4 95.7,853.7 97.1,842.3" fill="#fe8254"/>
<polygon points="108.6,828 121.4,828 118.6,842.3 114.3,856.6 107.2,870.9 100,882.3 92.9,892.3 90,893.8 90,888 94.3,885.2 98.6,870.9 102.9,856.6 107.2,842.3" fill="#fed497"/>
<polygon points="132.9,828 170.1,828 167.2,836.6 158.6,842.3 147.2,843.7 137.2,839.4" fill="#fed497"/>
<polygon points="147.2,828 158.6,828 157.2,833.7 150,834.4" fill="#fe8254"/>
<polygon points="201.5,839.4 207.2,836.6 215.8,845.2 212.9,856.6 205.8,852.3" fill="#fed497"/>
<polygon points="90,905.2 104.3,896.6 118.6,882.3 132.9,870.9 147.2,865.2 161.5,862.3 170.1,856.6 175.8,839.4 181.5,836.6 187.2,845.2 192.9,856.6 201.5,862.3 211.5,866.6 218.7,863.7 221.5,849.4 221.5,828 250.1,828 254.4,839.4 261.5,849.4 273,863.7 283,875.2 290.1,882.3 293,892.3 287.3,903.8 284.4,916.6 290.1,928.1 295.9,939.5 300.1,942.4 300.1,971 290.1,972.4 275.8,965.2 268.7,959.5 233,956.7 204.4,963.8 182.9,978.1 175.8,992.4 161.5,999.5 154.3,1013.8 147.2,1021 132.9,1025.3 118.6,1025.3 104.3,1021 90,1019.6" fill="#83a7bc"/>
<polygon points="90,908.1 104.3,905.2 118.6,893.8 132.9,882.3 147.2,878 161.5,880.9 175.8,885.2 190.1,883.8 204.4,879.5 218.7,875.2 221.5,863.7 224.4,849.4 224.4,828 248.7,828 251.5,839.4 258.7,850.9 270.1,865.2 278.7,876.6 284.4,888 280.1,899.5 268.7,906.6 261.5,899.5 247.2,896.6 240.1,902.3 235.8,913.8 233,925.2 230.1,935.2 225.8,940.9 215.8,939.5 204.4,933.8 190.1,930.9 175.8,933.8 167.2,939.5 161.5,949.5 154.3,959.5 147.2,971 142.9,985.2 140,999.5 132.9,1013.8 125.7,1016.7 118.6,1011 111.4,999.5 101.4,992.4 90,991" fill="#1574b8"/>
<polygon points="90,936.6 97.1,938.1 98.6,949.5 95.7,963.8 90,965.2" fill="#83a7bc"/>
<polygon points="290.1,913.8 295.9,909.5 300.1,910.9 300.1,928.1 294.4,926.6" fill="#fed497"/>
<polygon points="248.7,828 300.1,828 300.1,888 290.1,882.3 281.6,873.7 271.6,862.3 261.5,850.9 253,839.4" fill="#ffffbf"/>
<polygon points="257.3,828 300.1,828 300.1,875.2 290.1,869.5 278.7,859.4 267.3,845.2" fill="#fed497"/>
<polygon points="260.1,828 300.1,828 300.1,869.5 290.1,865.2 278.7,855.2 268.7,842.3" fill="#fe8254"/>
<polygon points="263,828 300.1,828 300.1,865.2 290.1,860.9 278.7,850.9 270.1,839.4" fill="#f92b23"/>
<polygon points="261.5,971 275.8,965.2 290.1,972.4 300.1,971 300.1,1038.1 233,1038.1" fill="#ffffbf"/>
<polygon points="261.5,978.1 275.8,976.7 290.1,982.4 300.1,983.8 300.1,1038.1 233,1038.1" fill="#fed497"/>
<polygon points="253.5,977.2 270,983.8 286.3,991.3 300.1,992.4 300.1,1038.1 201.5,1038.1 190.1,1013.8 218.7,985.2" fill="#f92b23"/>
<polygon points="90,1019.6 104.3,1021 118.6,1025.3 132.9,1025.3 147.2,1021 154.3,1013.8 161.5,1018.1 164.3,1038.1 90,1038.1" fill="#ffffbf"/>
<polygon points="170.1,992.4 178.6,978.1 190.1,968.1 198.6,965.2 202.9,976.7 192.9,985.2 181.5,995.3 172.9,999.5" fill="#ffffbf"/>
<polygon points="165.1,1035.1 164.7,1019.2 163,1013.4 168.9,1012.5 172.2,1011.7 172.2,1005 172.2,1000 174.8,995 179.8,994.1 184.8,991.6 189.8,988.3 193.2,985.7 196.5,981.6 199,978.2 201.6,974.9 203.2,973.2 199.9,969 198.2,964.8 196.5,960.6 196.5,957.3 199.9,956.4 203.2,953.9 206.6,951.4 209.9,948.1 213.3,947.2 216.6,947.2 219.1,949.7 222.5,950.6 226.7,948.9 230,946.4 231.7,943 229.2,939.7 233.4,937.2 238.4,936.3 242.6,937.2 245.9,940.5 250.1,943 254.3,946.4 258.5,949.7 262.7,953.9 265.2,959 265.2,964.8 264.4,968.2 261,969.8 258.5,972.3 255.1,976.5 252.6,979.9 250.1,984.1 247.6,987.4 243.4,989.9 239.2,991.6 235.9,994.1 233.4,998.3 230,1000.8 225,1002.5 222.5,1005 220.8,1008.4 221.6,1013.4 223.3,1016.7 221.6,1020.1 216.6,1020.9 211.6,1020.9 208.3,1019.2 208.3,1023.4 204.9,1026.8 203.2,1030.1 204.1,1035.1" fill="none" stroke="#000" stroke-opacity="0.5" stroke-width="6" stroke-linejoin="round"/>
<polyline points="250.1,943 254.3,946.4 258.5,949.7 262.7,953.9 265.2,959 265.2,964.8 264.4,968.2 261,969.8" fill="none" stroke="#000" stroke-opacity="0.35" stroke-width="12" stroke-linejoin="round" stroke-linecap="round"/>
<polyline points="184.8,991.6 189.8,988.3 193.2,985.7 196.5,981.6 199,978.2 201.6,974.9 203.2,973.2 199.9,969 198.2,964.8 196.5,960.6 196.5,957.3 199.9,956.4 203.2,953.9" fill="none" stroke="#000" stroke-opacity="0.3" stroke-width="9" stroke-linejoin="round" stroke-linecap="round"/>
<polygon points="185.5,942.5 197,942.5 199,950.5 198.5,960.5 197,968.5 189,971.5 185.5,961.5 185,951.5" fill="#000" fill-opacity="0.25"/>
<polygon points="165.1,1035.1 164.7,1019.2 163,1013.4 168.9,1012.5 172.2,1011.7 172.2,1005 172.2,1000 174.8,995 179.8,994.1 184.8,991.6 189.8,988.3 193.2,985.7 196.5,981.6 199,978.2 201.6,974.9 203.2,973.2 199.9,969 198.2,964.8 196.5,960.6 196.5,957.3 199.9,956.4 203.2,953.9 206.6,951.4 209.9,948.1 213.3,947.2 216.6,947.2 219.1,949.7 222.5,950.6 226.7,948.9 230,946.4 231.7,943 229.2,939.7 233.4,937.2 238.4,936.3 242.6,937.2 245.9,940.5 250.1,943 254.3,946.4 258.5,949.7 262.7,953.9 265.2,959 265.2,964.8 264.4,968.2 261,969.8 258.5,972.3 255.1,976.5 252.6,979.9 250.1,984.1 247.6,987.4 243.4,989.9 239.2,991.6 235.9,994.1 233.4,998.3 230,1000.8 225,1002.5 222.5,1005 220.8,1008.4 221.6,1013.4 223.3,1016.7 221.6,1020.1 216.6,1020.9 211.6,1020.9 208.3,1019.2 208.3,1023.4 204.9,1026.8 203.2,1030.1 204.1,1035.1" fill="#fff" stroke="#101820" stroke-width="1.2"/>
<path d="M198.6,830.4 L202.9,836.1 L204.4,847.5 L206.5,854.7 L212.9,863.2 L215.8,870.4 L219.4,876.1 L220.8,884.7 L219.4,893.3 L219.4,901.8 L218.7,907.6 L217.9,913.3 L220.8,919 L224.4,926.1 L225.8,930.4 L223.7,935.4 L219.4,938.3 L217.9,943.3 L216.5,949 M205.1,830.4 L210.8,836.8 L215.8,841.8 L217.9,847.5 L221.5,853.2 L226.5,856.1 L231.5,861.8 L238.7,867.5 L244.4,870.4 L251.5,873.2 L258.7,876.1 L265.8,880.4 L273,882.5 L278.7,889 L284.4,890.4 L290.1,887.5 L297.3,885.4 M93.1,901.8 L98.6,904.7 L104.3,910.4 L111.4,911.1 L118.6,909 L125.7,907.6 L132.9,904.7 L140.7,900.4 L140,908.3 L136.5,911.1 L140,911.8 L145,914 L150,909.7 L155.8,910.4 L160,906.1 L167.2,903.3 L175.8,903.3 L182.9,904.7 L188.6,902.6 L190.1,898.3 L194.4,899 L200.1,899.7 L204.4,899 L205.8,903.3 L211.5,904.7 L216.5,905.4 L219.4,907.6 M93.1,956.2 L98.6,957.6 L105.7,962.6 L111.4,968.3 L118.6,976.2 L123.2,984 L124.3,979 L125,970.5 L128.6,964.7 L127.2,960.4 L122.9,953.3 L119.3,951.9 L118.6,955.4 L124.3,951.9 L130,950.4 L137.2,946.2 L144.3,949 L150,951.9 L157.2,953.3 L161.5,956.9 L167.2,960.4 L172.9,966.2 L175.8,971.9 L179.3,974.7 L184.3,974.7 L190.1,973.3 L195.8,974.7 L199.4,976.2" fill="none" stroke="#2a2a2a" stroke-width="0.9" stroke-opacity="0.85"/>
<path d="M190.8,925.1 L193.7,932.4 L201.5,932.8 L195.4,937.8 L197.4,945.3 L190.8,941.1 L184.3,945.3 L186.3,937.8 L180.2,932.8 L188,932.4Z" fill="#000"/>
</g>
<rect x="93.0" y="830.5" width="204.0" height="204.0" fill="none" stroke="#111" stroke-width="1.6"/>
<clipPath id="cd1"><rect x="340.2" y="830.5" width="204.0" height="204.0"/></clipPath>
<g clip-path="url(#cd1)">
<rect x="338.2" y="828.5" width="208" height="208" fill="#83a7bc"/>
<polygon points="338,828 349.4,828 356.6,845.2 362.3,859.4 359.4,873.7 349.4,885.2 338,892.3" fill="#ffffbf"/>
<polygon points="388,828 409.5,828 406.6,836.6 398,840.9 390.9,838" fill="#ffffbf"/>
<polygon points="440.9,828 478.1,828 473.8,842.3 466.7,852.3 456.7,852.3 449.5,842.3" fill="#ffffbf"/>
<polygon points="495.2,828 548.1,828 548.1,939.5 541,936.6 538.1,925.2 535.3,910.9 533.8,892.3 531,878 523.8,863.7 509.5,849.4 501,836.6" fill="#ffffbf"/>
<polygon points="513.8,945.2 521,946.7 531,959.5 541,969.5 548.1,971 548.1,989.5 535.3,988.1 523.8,983.8 509.5,978.1 502.4,971" fill="#ffffbf"/>
<polygon points="399.5,1038.1 406.6,1031 412.3,1032.4 412.3,1038.1" fill="#ffffbf"/>
<polygon points="506.7,828 548.1,828 548.1,882.3 541,873.7 532.4,863.7 521,849.4 512.4,839.4" fill="#fed497"/>
<polygon points="512.4,828 548.1,828 548.1,870.9 541,863.7 531,852.3 518.1,839.4" fill="#fe8254"/>
<polygon points="515.3,828 548.1,828 548.1,866.6 541,859.4 531,848 521,836.6" fill="#f92b23"/>
<polygon points="338,903.8 352.3,899.5 366.6,893.8 380.9,888 395.2,880.9 409.5,875.2 423.8,870.9 438.1,869.5 452.4,868 466.7,863.7 473.8,856.6 481,849.4 488.1,845.2 502.4,846.6 516.7,856.6 523.8,865.2 525.3,878 522.4,892.3 513.8,902.3 502.4,913.8 492.4,925.2 489.5,936.6 478.1,940.9 463.8,942.4 452.4,942.4 438.1,943.8 426.6,945.2 422.3,956.7 420.9,971 415.2,982.4 406.6,992.4 398,1006.7 389.5,1021 383.7,1032.4 380.9,1038.1 366.6,1038.1 359.4,1021 349.4,1009.6 338,1006.7" fill="#1574b8"/>
<polygon points="502.4,982.4 516.7,988.1 531,992.4 548.1,992.4 548.1,1038.1 466.7,1038.1" fill="#fed497"/>
<polygon points="450.9,1038.1 455.2,1021 466.7,1006.7 481,996.7 495.2,988.1 509.5,991 523.8,996.7 538.1,992.4 548.1,989.5 548.1,1038.1" fill="#f92b23"/>
<polygon points="412.3,1035.1 411.9,1019.2 410.2,1013.4 416.1,1012.5 419.4,1011.7 419.4,1005 419.4,1000 422,995 427,994.1 432,991.6 437,988.3 440.4,985.7 443.7,981.6 446.2,978.2 448.8,974.9 450.4,973.2 447.1,969 445.4,964.8 443.7,960.6 443.7,957.3 447.1,956.4 450.4,953.9 453.8,951.4 457.1,948.1 460.5,947.2 463.8,947.2 466.3,949.7 469.7,950.6 473.9,948.9 477.2,946.4 478.9,943 476.4,939.7 480.6,937.2 485.6,936.3 489.8,937.2 493.1,940.5 497.3,943 501.5,946.4 505.7,949.7 509.9,953.9 512.4,959 512.4,964.8 511.6,968.2 508.2,969.8 505.7,972.3 502.3,976.5 499.8,979.9 497.3,984.1 494.8,987.4 490.6,989.9 486.4,991.6 483.1,994.1 480.6,998.3 477.2,1000.8 472.2,1002.5 469.7,1005 468,1008.4 468.8,1013.4 470.5,1016.7 468.8,1020.1 463.8,1020.9 458.8,1020.9 455.5,1019.2 455.5,1023.4 452.1,1026.8 450.4,1030.1 451.3,1035.1" fill="none" stroke="#000" stroke-opacity="0.5" stroke-width="6" stroke-linejoin="round"/>
<polyline points="497.3,943 501.5,946.4 505.7,949.7 509.9,953.9 512.4,959 512.4,964.8 511.6,968.2 508.2,969.8" fill="none" stroke="#000" stroke-opacity="0.35" stroke-width="12" stroke-linejoin="round" stroke-linecap="round"/>
<polyline points="432,991.6 437,988.3 440.4,985.7 443.7,981.6 446.2,978.2 448.8,974.9 450.4,973.2 447.1,969 445.4,964.8 443.7,960.6 443.7,957.3 447.1,956.4 450.4,953.9" fill="none" stroke="#000" stroke-opacity="0.3" stroke-width="9" stroke-linejoin="round" stroke-linecap="round"/>
<polygon points="432.7,942.5 444.2,942.5 446.2,950.5 445.7,960.5 444.2,968.5 436.2,971.5 432.7,961.5 432.2,951.5" fill="#000" fill-opacity="0.25"/>
<polygon points="412.3,1035.1 411.9,1019.2 410.2,1013.4 416.1,1012.5 419.4,1011.7 419.4,1005 419.4,1000 422,995 427,994.1 432,991.6 437,988.3 440.4,985.7 443.7,981.6 446.2,978.2 448.8,974.9 450.4,973.2 447.1,969 445.4,964.8 443.7,960.6 443.7,957.3 447.1,956.4 450.4,953.9 453.8,951.4 457.1,948.1 460.5,947.2 463.8,947.2 466.3,949.7 469.7,950.6 473.9,948.9 477.2,946.4 478.9,943 476.4,939.7 480.6,937.2 485.6,936.3 489.8,937.2 493.1,940.5 497.3,943 501.5,946.4 505.7,949.7 509.9,953.9 512.4,959 512.4,964.8 511.6,968.2 508.2,969.8 505.7,972.3 502.3,976.5 499.8,979.9 497.3,984.1 494.8,987.4 490.6,989.9 486.4,991.6 483.1,994.1 480.6,998.3 477.2,1000.8 472.2,1002.5 469.7,1005 468,1008.4 468.8,1013.4 470.5,1016.7 468.8,1020.1 463.8,1020.9 458.8,1020.9 455.5,1019.2 455.5,1023.4 452.1,1026.8 450.4,1030.1 451.3,1035.1" fill="#fff" stroke="#101820" stroke-width="1.2"/>
<path d="M445.8,830.4 L450.1,836.1 L451.6,847.5 L453.7,854.7 L460.1,863.2 L463,870.4 L466.6,876.1 L468,884.7 L466.6,893.3 L466.6,901.8 L465.9,907.6 L465.1,913.3 L468,919 L471.6,926.1 L473,930.4 L470.9,935.4 L466.6,938.3 L465.1,943.3 L463.7,949 M452.3,830.4 L458,836.8 L463,841.8 L465.1,847.5 L468.7,853.2 L473.7,856.1 L478.7,861.8 L485.9,867.5 L491.6,870.4 L498.7,873.2 L505.9,876.1 L513,880.4 L520.2,882.5 L525.9,889 L531.6,890.4 L537.3,887.5 L544.5,885.4 M340.3,901.8 L345.8,904.7 L351.5,910.4 L358.6,911.1 L365.8,909 L372.9,907.6 L380.1,904.7 L387.9,900.4 L387.2,908.3 L383.7,911.1 L387.2,911.8 L392.2,914 L397.2,909.7 L403,910.4 L407.2,906.1 L414.4,903.3 L423,903.3 L430.1,904.7 L435.8,902.6 L437.3,898.3 L441.6,899 L447.3,899.7 L451.6,899 L453,903.3 L458.7,904.7 L463.7,905.4 L466.6,907.6 M340.3,956.2 L345.8,957.6 L352.9,962.6 L358.6,968.3 L365.8,976.2 L370.4,984 L371.5,979 L372.2,970.5 L375.8,964.7 L374.4,960.4 L370.1,953.3 L366.5,951.9 L365.8,955.4 L371.5,951.9 L377.2,950.4 L384.4,946.2 L391.5,949 L397.2,951.9 L404.4,953.3 L408.7,956.9 L414.4,960.4 L420.1,966.2 L423,971.9 L426.5,974.7 L431.5,974.7 L437.3,973.3 L443,974.7 L446.6,976.2" fill="none" stroke="#2a2a2a" stroke-width="0.9" stroke-opacity="0.85"/>
<path d="M438,925.1 L440.9,932.4 L448.7,932.8 L442.6,937.8 L444.6,945.3 L438,941.1 L431.5,945.3 L433.5,937.8 L427.4,932.8 L435.2,932.4Z" fill="#000"/>
</g>
<rect x="340.2" y="830.5" width="204.0" height="204.0" fill="none" stroke="#111" stroke-width="1.6"/>
<clipPath id="cd2"><rect x="588.0" y="830.5" width="204.0" height="204.0"/></clipPath>
<g clip-path="url(#cd2)">
<rect x="586" y="828.5" width="208" height="208" fill="#ffffbf"/>
<polygon points="586,828 796.1,828 796.1,875.2 786.1,869.5 771.8,860.9 757.5,856.6 743.2,856.6 729,855.2 714.7,856.6 704.7,859.4 693.2,856.6 678.9,852.3 664.6,849.4 650.3,850.9 640.3,856.6 628.9,866.6 614.6,876.6 600.3,888 586,896.6" fill="#fed497"/>
<polygon points="586,828 796.1,828 796.1,863.7 786.1,856.6 771.8,849.4 757.5,846.6 743.2,848 729,849.4 714.7,850.9 704.7,852.3 693.2,846.6 678.9,842.3 664.6,839.4 650.3,840.9 640.3,845.2 628.9,852.3 614.6,863.7 600.3,876.6 586,888" fill="#fe8254"/>
<polygon points="586,828 626,828 621.7,833.7 607.4,838 593.1,840.9 586,842.3" fill="#f92b23"/>
<polygon points="723.2,828 796.1,828 796.1,863.7 789,856.6 776.1,849.4 764.7,843.7 750.4,839.4 736.1,836.6 726.1,833.7" fill="#f92b23"/>
<polygon points="769,893.8 774.7,892.3 786.1,895.2 796.1,896.6 796.1,928.1 789,923.8 783.3,913.8 774.7,902.3" fill="#fed497"/>
<polygon points="586,905.2 600.3,896.6 614.6,888 628.9,879.5 643.2,870.9 654.6,866.6 666.1,868 678.9,870.9 693.2,873.7 707.5,875.2 721.8,876.6 733.2,882.3 740.4,892.3 746.1,906.6 750.4,920.9 751.8,935.2 753.3,949.5 729,956.7 700.4,956.7 686.1,971 671.8,985.2 657.5,999.5 654.6,1013.8 657.5,1038.1 614.6,1038.1 611.7,1013.8 610.3,999.5 603.2,985.2 596,971 591.7,956.7 586,942.4" fill="#83a7bc"/>
<polygon points="656,913.8 660.3,899.5 668.9,890.9 683.2,886.6 700.4,888 711.8,893.8 720.4,902.3 724.7,913.8 724.7,928.1 720.4,939.5 711.8,942.4 700.4,936.6 688.9,930.9 674.6,928.1 663.2,925.2" fill="#1574b8"/>
<polygon points="744.7,868 750.4,866.6 757.5,868 754.7,870.9 746.1,870.9" fill="#1574b8"/>
<polygon points="750.4,981 764.7,985.2 779,988.1 796.1,985.2 796.1,1038.1 714.7,1038.1" fill="#fed497"/>
<polygon points="700.4,1038.1 707.5,1021 721.8,1006.7 736.1,996.7 750.4,991 764.7,996.7 779,1002.4 796.1,1003.8 796.1,1038.1" fill="#f92b23"/>
<polygon points="668.9,996.7 677.5,982.4 688.9,972.4 697.5,971 698.9,978.1 688.9,985.2 676.1,996.7" fill="#ffffbf"/>
<polygon points="660.1,1035.1 659.7,1019.2 658,1013.4 663.9,1012.5 667.2,1011.7 667.2,1005 667.2,1000 669.8,995 674.8,994.1 679.8,991.6 684.8,988.3 688.2,985.7 691.5,981.6 694,978.2 696.6,974.9 698.2,973.2 694.9,969 693.2,964.8 691.5,960.6 691.5,957.3 694.9,956.4 698.2,953.9 701.6,951.4 704.9,948.1 708.3,947.2 711.6,947.2 714.1,949.7 717.5,950.6 721.7,948.9 725,946.4 726.7,943 724.2,939.7 728.4,937.2 733.4,936.3 737.6,937.2 740.9,940.5 745.1,943 749.3,946.4 753.5,949.7 757.7,953.9 760.2,959 760.2,964.8 759.4,968.2 756,969.8 753.5,972.3 750.1,976.5 747.6,979.9 745.1,984.1 742.6,987.4 738.4,989.9 734.2,991.6 730.9,994.1 728.4,998.3 725,1000.8 720,1002.5 717.5,1005 715.8,1008.4 716.6,1013.4 718.3,1016.7 716.6,1020.1 711.6,1020.9 706.6,1020.9 703.3,1019.2 703.3,1023.4 699.9,1026.8 698.2,1030.1 699.1,1035.1" fill="none" stroke="#000" stroke-opacity="0.5" stroke-width="6" stroke-linejoin="round"/>
<polyline points="745.1,943 749.3,946.4 753.5,949.7 757.7,953.9 760.2,959 760.2,964.8 759.4,968.2 756,969.8" fill="none" stroke="#000" stroke-opacity="0.35" stroke-width="12" stroke-linejoin="round" stroke-linecap="round"/>
<polyline points="679.8,991.6 684.8,988.3 688.2,985.7 691.5,981.6 694,978.2 696.6,974.9 698.2,973.2 694.9,969 693.2,964.8 691.5,960.6 691.5,957.3 694.9,956.4 698.2,953.9" fill="none" stroke="#000" stroke-opacity="0.3" stroke-width="9" stroke-linejoin="round" stroke-linecap="round"/>
<polygon points="680.5,942.5 692,942.5 694,950.5 693.5,960.5 692,968.5 684,971.5 680.5,961.5 680,951.5" fill="#000" fill-opacity="0.25"/>
<polygon points="660.1,1035.1 659.7,1019.2 658,1013.4 663.9,1012.5 667.2,1011.7 667.2,1005 667.2,1000 669.8,995 674.8,994.1 679.8,991.6 684.8,988.3 688.2,985.7 691.5,981.6 694,978.2 696.6,974.9 698.2,973.2 694.9,969 693.2,964.8 691.5,960.6 691.5,957.3 694.9,956.4 698.2,953.9 701.6,951.4 704.9,948.1 708.3,947.2 711.6,947.2 714.1,949.7 717.5,950.6 721.7,948.9 725,946.4 726.7,943 724.2,939.7 728.4,937.2 733.4,936.3 737.6,937.2 740.9,940.5 745.1,943 749.3,946.4 753.5,949.7 757.7,953.9 760.2,959 760.2,964.8 759.4,968.2 756,969.8 753.5,972.3 750.1,976.5 747.6,979.9 745.1,984.1 742.6,987.4 738.4,989.9 734.2,991.6 730.9,994.1 728.4,998.3 725,1000.8 720,1002.5 717.5,1005 715.8,1008.4 716.6,1013.4 718.3,1016.7 716.6,1020.1 711.6,1020.9 706.6,1020.9 703.3,1019.2 703.3,1023.4 699.9,1026.8 698.2,1030.1 699.1,1035.1" fill="#fff" stroke="#101820" stroke-width="1.2"/>
<path d="M693.6,830.4 L697.9,836.1 L699.4,847.5 L701.5,854.7 L707.9,863.2 L710.8,870.4 L714.4,876.1 L715.8,884.7 L714.4,893.3 L714.4,901.8 L713.7,907.6 L712.9,913.3 L715.8,919 L719.4,926.1 L720.8,930.4 L718.7,935.4 L714.4,938.3 L712.9,943.3 L711.5,949 M700.1,830.4 L705.8,836.8 L710.8,841.8 L712.9,847.5 L716.5,853.2 L721.5,856.1 L726.5,861.8 L733.7,867.5 L739.4,870.4 L746.5,873.2 L753.7,876.1 L760.8,880.4 L768,882.5 L773.7,889 L779.4,890.4 L785.1,887.5 L792.3,885.4 M588.1,901.8 L593.6,904.7 L599.3,910.4 L606.4,911.1 L613.6,909 L620.7,907.6 L627.9,904.7 L635.7,900.4 L635,908.3 L631.5,911.1 L635,911.8 L640,914 L645,909.7 L650.8,910.4 L655,906.1 L662.2,903.3 L670.8,903.3 L677.9,904.7 L683.6,902.6 L685.1,898.3 L689.4,899 L695.1,899.7 L699.4,899 L700.8,903.3 L706.5,904.7 L711.5,905.4 L714.4,907.6 M588.1,956.2 L593.6,957.6 L600.7,962.6 L606.4,968.3 L613.6,976.2 L618.2,984 L619.3,979 L620,970.5 L623.6,964.7 L622.2,960.4 L617.9,953.3 L614.3,951.9 L613.6,955.4 L619.3,951.9 L625,950.4 L632.2,946.2 L639.3,949 L645,951.9 L652.2,953.3 L656.5,956.9 L662.2,960.4 L667.9,966.2 L670.8,971.9 L674.3,974.7 L679.3,974.7 L685.1,973.3 L690.8,974.7 L694.4,976.2" fill="none" stroke="#2a2a2a" stroke-width="0.9" stroke-opacity="0.85"/>
<path d="M685.8,925.1 L688.7,932.4 L696.5,932.8 L690.4,937.8 L692.4,945.3 L685.8,941.1 L679.3,945.3 L681.3,937.8 L675.2,932.8 L683,932.4Z" fill="#000"/>
</g>
<rect x="588.0" y="830.5" width="204.0" height="204.0" fill="none" stroke="#111" stroke-width="1.6"/>
<clipPath id="cd3"><rect x="840.0" y="830.5" width="204.0" height="204.0"/></clipPath>
<g clip-path="url(#cd3)">
<rect x="838" y="828.5" width="208" height="208" fill="#ffffbf"/>
<polygon points="951.4,828 1047.1,828 1047.1,860.9 1040,855.2 1030,846.6 1015.7,840.9 1001.4,839.4 987.1,836.6 972.8,833.7 961.4,830.9" fill="#fed497"/>
<polygon points="991.4,828 1047.1,828 1047.1,853.7 1040,848 1030,839.4 1015.7,833.7 1001.4,830.9" fill="#fe8254"/>
<polygon points="1025.7,828 1047.1,828 1047.1,845.2 1040,839.4 1032.8,833.7" fill="#f92b23"/>
<polygon points="837,885.2 845.6,878 858.4,863.7 872.7,853.7 887,849.4 908.5,849.4 922.8,852.3 937.1,856.6 951.4,860.9 962.8,860.9 971.4,858 980,856.6 994.2,853.7 1008.5,855.2 1022.8,860.9 1030,870.9 1031.4,882.3 1028.6,892.3 1031.4,906.6 1040,916.6 1047.1,922.3 1047.1,971 1040,969.5 1034.3,959.5 1025.7,962.4 1015.7,971 1005.7,978.1 980,956.7 951.4,971 922.8,985.2 908.5,999.5 905.6,1013.8 901.3,1028.1 897,1038.1 837,1038.1" fill="#83a7bc"/>
<polygon points="847,898 858.4,885.2 872.7,873.7 887,869.5 901.3,869.5 915.6,872.3 929.9,875.2 944.2,876.6 958.5,878 972.8,876.6 987.1,875.2 1001.4,876.6 1002.8,892.3 1002.8,913.8 1005.7,928.1 1008.5,942.4 1007.1,956.7 980,949.5 951.4,956.7 937.1,963.8 925.6,971 917.1,982.4 908.5,992.4 904.2,1006.7 898.5,1021 891.3,1031 877,1038.1 859.9,1038.1 857,1021 854.2,999.5 848.4,985.2 837,982.4 837,962.4 848.4,960.9 858.4,953.8 862.7,946.7 858.4,940.9 845.6,935.2 837,933.8 837,902.3" fill="#1574b8"/>
<polygon points="994.2,992.4 1008.5,985.2 1022.8,989.5 1037.1,1002.4 1047.1,1008.1 1047.1,1038.1 965.7,1038.1" fill="#fed497"/>
<polygon points="1015.7,1038.1 1030,1021 1047.1,1011 1047.1,1038.1" fill="#fe8254"/>
<polygon points="962.8,1038.1 965.7,1021 972.8,1006.7 982.8,995.3 994.2,995.3 1001.4,1006.7 1008.5,1021 1015.7,1031 1022.8,1038.1" fill="#f92b23"/>
<polygon points="1022.8,1038.1 1034.3,1025.3 1047.1,1018.1 1047.1,1038.1" fill="#f92b23"/>
<polygon points="912.1,1035.1 911.7,1019.2 910,1013.4 915.9,1012.5 919.2,1011.7 919.2,1005 919.2,1000 921.8,995 926.8,994.1 931.8,991.6 936.8,988.3 940.2,985.7 943.5,981.6 946,978.2 948.6,974.9 950.2,973.2 946.9,969 945.2,964.8 943.5,960.6 943.5,957.3 946.9,956.4 950.2,953.9 953.6,951.4 956.9,948.1 960.3,947.2 963.6,947.2 966.1,949.7 969.5,950.6 973.7,948.9 977,946.4 978.7,943 976.2,939.7 980.4,937.2 985.4,936.3 989.6,937.2 992.9,940.5 997.1,943 1001.3,946.4 1005.5,949.7 1009.7,953.9 1012.2,959 1012.2,964.8 1011.4,968.2 1008,969.8 1005.5,972.3 1002.1,976.5 999.6,979.9 997.1,984.1 994.6,987.4 990.4,989.9 986.2,991.6 982.9,994.1 980.4,998.3 977,1000.8 972,1002.5 969.5,1005 967.8,1008.4 968.6,1013.4 970.3,1016.7 968.6,1020.1 963.6,1020.9 958.6,1020.9 955.3,1019.2 955.3,1023.4 951.9,1026.8 950.2,1030.1 951.1,1035.1" fill="none" stroke="#000" stroke-opacity="0.5" stroke-width="6" stroke-linejoin="round"/>
<polyline points="997.1,943 1001.3,946.4 1005.5,949.7 1009.7,953.9 1012.2,959 1012.2,964.8 1011.4,968.2 1008,969.8" fill="none" stroke="#000" stroke-opacity="0.35" stroke-width="12" stroke-linejoin="round" stroke-linecap="round"/>
<polyline points="931.8,991.6 936.8,988.3 940.2,985.7 943.5,981.6 946,978.2 948.6,974.9 950.2,973.2 946.9,969 945.2,964.8 943.5,960.6 943.5,957.3 946.9,956.4 950.2,953.9" fill="none" stroke="#000" stroke-opacity="0.3" stroke-width="9" stroke-linejoin="round" stroke-linecap="round"/>
<polygon points="932.5,942.5 944,942.5 946,950.5 945.5,960.5 944,968.5 936,971.5 932.5,961.5 932,951.5" fill="#000" fill-opacity="0.25"/>
<polygon points="912.1,1035.1 911.7,1019.2 910,1013.4 915.9,1012.5 919.2,1011.7 919.2,1005 919.2,1000 921.8,995 926.8,994.1 931.8,991.6 936.8,988.3 940.2,985.7 943.5,981.6 946,978.2 948.6,974.9 950.2,973.2 946.9,969 945.2,964.8 943.5,960.6 943.5,957.3 946.9,956.4 950.2,953.9 953.6,951.4 956.9,948.1 960.3,947.2 963.6,947.2 966.1,949.7 969.5,950.6 973.7,948.9 977,946.4 978.7,943 976.2,939.7 980.4,937.2 985.4,936.3 989.6,937.2 992.9,940.5 997.1,943 1001.3,946.4 1005.5,949.7 1009.7,953.9 1012.2,959 1012.2,964.8 1011.4,968.2 1008,969.8 1005.5,972.3 1002.1,976.5 999.6,979.9 997.1,984.1 994.6,987.4 990.4,989.9 986.2,991.6 982.9,994.1 980.4,998.3 977,1000.8 972,1002.5 969.5,1005 967.8,1008.4 968.6,1013.4 970.3,1016.7 968.6,1020.1 963.6,1020.9 958.6,1020.9 955.3,1019.2 955.3,1023.4 951.9,1026.8 950.2,1030.1 951.1,1035.1" fill="#fff" stroke="#101820" stroke-width="1.2"/>
<path d="M945.6,830.4 L949.9,836.1 L951.4,847.5 L953.5,854.7 L959.9,863.2 L962.8,870.4 L966.4,876.1 L967.8,884.7 L966.4,893.3 L966.4,901.8 L965.7,907.6 L964.9,913.3 L967.8,919 L971.4,926.1 L972.8,930.4 L970.7,935.4 L966.4,938.3 L964.9,943.3 L963.5,949 M952.1,830.4 L957.8,836.8 L962.8,841.8 L964.9,847.5 L968.5,853.2 L973.5,856.1 L978.5,861.8 L985.7,867.5 L991.4,870.4 L998.5,873.2 L1005.7,876.1 L1012.8,880.4 L1020,882.5 L1025.7,889 L1031.4,890.4 L1037.1,887.5 L1044.3,885.4 M840.1,901.8 L845.6,904.7 L851.3,910.4 L858.4,911.1 L865.6,909 L872.7,907.6 L879.9,904.7 L887.7,900.4 L887,908.3 L883.5,911.1 L887,911.8 L892,914 L897,909.7 L902.8,910.4 L907,906.1 L914.2,903.3 L922.8,903.3 L929.9,904.7 L935.6,902.6 L937.1,898.3 L941.4,899 L947.1,899.7 L951.4,899 L952.8,903.3 L958.5,904.7 L963.5,905.4 L966.4,907.6 M840.1,956.2 L845.6,957.6 L852.7,962.6 L858.4,968.3 L865.6,976.2 L870.2,984 L871.3,979 L872,970.5 L875.6,964.7 L874.2,960.4 L869.9,953.3 L866.3,951.9 L865.6,955.4 L871.3,951.9 L877,950.4 L884.2,946.2 L891.3,949 L897,951.9 L904.2,953.3 L908.5,956.9 L914.2,960.4 L919.9,966.2 L922.8,971.9 L926.3,974.7 L931.3,974.7 L937.1,973.3 L942.8,974.7 L946.4,976.2" fill="none" stroke="#2a2a2a" stroke-width="0.9" stroke-opacity="0.85"/>
<path d="M937.8,925.1 L940.7,932.4 L948.5,932.8 L942.4,937.8 L944.4,945.3 L937.8,941.1 L931.3,945.3 L933.3,937.8 L927.2,932.8 L935,932.4Z" fill="#000"/>
</g>
<rect x="840.0" y="830.5" width="204.0" height="204.0" fill="none" stroke="#111" stroke-width="1.6"/>
<clipPath id="ce0"><rect x="84.7" y="1074.0" width="212.3" height="211.5"/></clipPath>
<g clip-path="url(#ce0)">
<rect x="82.7" y="1072" width="216.3" height="215.5" fill="#ffffbf"/>
<polygon points="82,1071 141.1,1071 138.1,1076.9 126.3,1081.3 111.5,1082.8 96.8,1081.3 82,1079.9" fill="#fed497"/>
<polygon points="138.1,1130.1 148.5,1127.1 163.2,1130.1 178,1133 192.8,1133 207.6,1130.1 214.9,1115.3 214.9,1093.2 212,1071 259.3,1071 268.1,1085.8 278.5,1097.6 288.8,1103.5 299.1,1106.5 299.1,1240.9 288.8,1240.9 274,1237.9 259.3,1233.5 244.5,1233.5 229.7,1218.7 200.2,1211.3 170.6,1211.3 155.9,1203.9 148.5,1196.6 126.3,1192.1 111.5,1189.2 96.8,1174.4 82,1167 82,1153.7 96.8,1153.7 111.5,1159.6 126.3,1153.7 133.7,1141.9" fill="#fed497"/>
<polygon points="127.8,1094.6 133.7,1085.8 144,1079.9 155.9,1075.4 176.5,1071 200.2,1071 209,1085.8 212,1100.5 209,1115.3 200.2,1127.1 185.4,1128.6 173.6,1122.7 164.7,1115.3 152.9,1107.9 141.1,1106.5 130.7,1103.5" fill="#83a7bc"/>
<polygon points="82,1100.5 90.9,1099.1 96.8,1105 98.2,1115.3 93.8,1125.7 82,1130.1" fill="#83a7bc"/>
<polygon points="259.3,1071 299.1,1071 299.1,1106.5 288.8,1103.5 278.5,1097.6 268.1,1085.8" fill="#83a7bc"/>
<polygon points="82,1255.6 96.8,1254.2 107.1,1257.1 116,1267.5 120.4,1277.8 120.4,1288.1 82,1288.1" fill="#83a7bc"/>
<polygon points="244.5,1233.5 259.3,1233.5 274,1237.9 288.8,1240.9 299.1,1240.9 299.1,1288.1 207.6,1288.1" fill="#83a7bc"/>
<polygon points="175.1,1071 197.2,1071 203.1,1082.8 206.1,1097.6 200.2,1109.4 191.3,1113.8 182.4,1110.9 176.5,1100.5 175.1,1085.8" fill="#1574b8"/>
<polygon points="263.7,1071 299.1,1071 299.1,1100.5 288.8,1096.1 277,1087.2 268.1,1078.4" fill="#1574b8"/>
<polygon points="214.9,1255.6 222.3,1248.3 237.1,1240.9 251.9,1237.9 266.6,1240.9 281.4,1245.3 291.8,1248.3 299.1,1248.3 299.1,1288.1 203.1,1288.1 207.6,1270.4" fill="#1574b8"/>
<polygon points="82,1277.8 96.8,1276.3 108.6,1280.8 111.5,1288.1 82,1288.1" fill="#1574b8"/>
<polygon points="244.5,1153.7 250.4,1146.3 259.3,1149.3 262.2,1159.6 256.3,1162.6 247.4,1159.6" fill="#ffffbf"/>
<polygon points="279.9,1167 285.9,1155.2 293.2,1153.7 299.1,1156.7 299.1,1183.3 288.8,1180.3 281.4,1174.4" fill="#ffffbf"/>
<polygon points="223.8,1071 259.3,1071 260.7,1085.8 259.3,1100.5 253.4,1115.3 244.5,1118.3 235.6,1112.4 229.7,1100.5 226.8,1085.8" fill="#fe8254"/>
<polygon points="281.4,1137.5 291.8,1130.1 299.1,1127.1 299.1,1144.9 288.8,1144.9" fill="#fe8254"/>
<polygon points="235.6,1071 244.5,1071 244.5,1093.2 241.5,1103.5 237.1,1093.2" fill="#f92b23"/>
<polygon points="138.1,1167 141.1,1156.7 148.5,1147.8 155.9,1139 170.6,1136 185.4,1140.4 200.2,1149.3 214.9,1153.7 229.7,1156.7 244.5,1167 259.3,1177.4 274,1189.2 288.8,1199.5 299.1,1201 299.1,1226.1 288.8,1226.1 274,1227.6 259.3,1226.1 229.7,1218.7 200.2,1233.5 170.6,1263 155.9,1288.1 126.3,1288.1 130.7,1263 138.1,1240.9 147,1218.7 152.9,1203.9 151.4,1189.2 144,1177.4" fill="#fe8254"/>
<polygon points="155.9,1153.7 164.7,1149.3 178,1150.8 192.8,1153.7 207.6,1156.7 222.3,1159.6 237.1,1167 251.9,1177.4 266.6,1189.2 274,1201 274,1211.3 266.6,1218.7 229.7,1203.9 200.2,1218.7 178,1240.9 163.2,1263 155.9,1288.1 130.7,1288.1 132.2,1270.4 138.1,1248.3 145.5,1233.5 152.9,1218.7 160.3,1203.9 161.8,1189.2 160.3,1174.4 155.9,1165.5" fill="#f92b23"/>
<polygon points="82,1171.4 96.8,1172.9 108.6,1183.3 111.5,1196.6 105.6,1211.3 96.8,1226.1 82,1233.5" fill="#fe8254"/>
<polygon points="82,1203.9 89.4,1205.4 90.9,1212.8 87.9,1218.7 82,1220.2" fill="#f92b23"/>
<polygon points="159.8,1286.2 159.3,1269.7 157.6,1263.6 163.7,1262.7 167.2,1261.9 167.2,1254.9 167.2,1249.7 169.8,1244.5 175,1243.6 180.2,1241 185.5,1237.6 189,1235 192.4,1230.6 195.1,1227.1 197.7,1223.7 199.4,1221.9 195.9,1217.6 194.2,1213.3 192.4,1208.9 192.4,1205.4 195.9,1204.6 199.4,1202 202.9,1199.4 206.4,1195.9 209.9,1195 213.4,1195 216,1197.6 219.5,1198.5 223.8,1196.8 227.3,1194.2 229,1190.7 226.4,1187.2 230.8,1184.6 236,1183.7 240.4,1184.6 243.9,1188.1 248.2,1190.7 252.6,1194.2 256.9,1197.6 261.3,1202 263.9,1207.2 263.9,1213.3 263,1216.7 259.5,1218.5 256.9,1221.1 253.4,1225.4 250.8,1228.9 248.2,1233.2 245.6,1236.7 241.2,1239.3 236.9,1241 233.4,1243.6 230.8,1248 227.3,1250.6 222.1,1252.3 219.5,1254.9 217.7,1258.4 218.6,1263.6 220.3,1267.1 218.6,1270.5 213.4,1271.4 208.1,1271.4 204.6,1269.7 204.6,1274 201.2,1277.5 199.4,1281 200.3,1286.2" fill="none" stroke="#000" stroke-opacity="0.5" stroke-width="6" stroke-linejoin="round"/>
<polyline points="248.2,1190.7 252.6,1194.2 256.9,1197.6 261.3,1202 263.9,1207.2 263.9,1213.3 263,1216.7 259.5,1218.5" fill="none" stroke="#000" stroke-opacity="0.35" stroke-width="12" stroke-linejoin="round" stroke-linecap="round"/>
<polyline points="180.2,1241 185.5,1237.6 189,1235 192.4,1230.6 195.1,1227.1 197.7,1223.7 199.4,1221.9 195.9,1217.6 194.2,1213.3 192.4,1208.9 192.4,1205.4 195.9,1204.6 199.4,1202" fill="none" stroke="#000" stroke-opacity="0.3" stroke-width="9" stroke-linejoin="round" stroke-linecap="round"/>
<polygon points="181,1190.1 192.9,1190.1 195,1198.4 194.5,1208.8 192.9,1217.1 184.6,1220.2 181,1209.8 180.4,1199.4" fill="#000" fill-opacity="0.25"/>
<polygon points="159.8,1286.2 159.3,1269.7 157.6,1263.6 163.7,1262.7 167.2,1261.9 167.2,1254.9 167.2,1249.7 169.8,1244.5 175,1243.6 180.2,1241 185.5,1237.6 189,1235 192.4,1230.6 195.1,1227.1 197.7,1223.7 199.4,1221.9 195.9,1217.6 194.2,1213.3 192.4,1208.9 192.4,1205.4 195.9,1204.6 199.4,1202 202.9,1199.4 206.4,1195.9 209.9,1195 213.4,1195 216,1197.6 219.5,1198.5 223.8,1196.8 227.3,1194.2 229,1190.7 226.4,1187.2 230.8,1184.6 236,1183.7 240.4,1184.6 243.9,1188.1 248.2,1190.7 252.6,1194.2 256.9,1197.6 261.3,1202 263.9,1207.2 263.9,1213.3 263,1216.7 259.5,1218.5 256.9,1221.1 253.4,1225.4 250.8,1228.9 248.2,1233.2 245.6,1236.7 241.2,1239.3 236.9,1241 233.4,1243.6 230.8,1248 227.3,1250.6 222.1,1252.3 219.5,1254.9 217.7,1258.4 218.6,1263.6 220.3,1267.1 218.6,1270.5 213.4,1271.4 208.1,1271.4 204.6,1269.7 204.6,1274 201.2,1277.5 199.4,1281 200.3,1286.2" fill="#fff" stroke="#101820" stroke-width="1.2"/>
<path d="M194.6,1073.9 L199.1,1079.8 L200.6,1091.6 L202.8,1099 L209.5,1107.9 L212.5,1115.4 L216.2,1121.3 L217.7,1130.2 L216.2,1139.1 L216.2,1148 L215.5,1153.9 L214.7,1159.8 L217.7,1165.7 L221.4,1173.2 L222.9,1177.6 L220.7,1182.8 L216.2,1185.8 L214.7,1190.9 L213.2,1196.9 M201.3,1073.9 L207.3,1080.5 L212.5,1085.7 L214.7,1091.6 L218.4,1097.6 L223.7,1100.5 L228.9,1106.5 L236.3,1112.4 L242.3,1115.4 L249.7,1118.3 L257.1,1121.3 L264.6,1125.7 L272,1128 L278,1134.6 L283.9,1136.1 L289.9,1133.1 L297.3,1130.9 M84.9,1148 L90.5,1150.9 L96.5,1156.9 L103.9,1157.6 L111.3,1155.4 L118.8,1153.9 L126.2,1150.9 L134.4,1146.5 L133.6,1154.6 L129.9,1157.6 L133.6,1158.3 L138.9,1160.6 L144.1,1156.1 L150,1156.9 L154.5,1152.4 L161.9,1149.4 L170.8,1149.4 L178.3,1150.9 L184.2,1148.7 L185.7,1144.3 L190.2,1145 L196.1,1145.7 L200.6,1145 L202.1,1149.4 L208,1150.9 L213.2,1151.7 L216.2,1153.9 M84.9,1204.3 L90.5,1205.8 L97.9,1210.9 L103.9,1216.9 L111.3,1225 L116.1,1233.2 L117.3,1228 L118,1219.1 L121.7,1213.2 L120.3,1208.7 L115.8,1201.3 L112.1,1199.8 L111.3,1203.5 L117.3,1199.8 L123.2,1198.4 L130.7,1193.9 L138.1,1196.9 L144.1,1199.8 L151.5,1201.3 L156,1205 L161.9,1208.7 L167.9,1214.7 L170.8,1220.6 L174.6,1223.5 L179.8,1223.5 L185.7,1222.1 L191.7,1223.5 L195.4,1225" fill="none" stroke="#2a2a2a" stroke-width="0.9" stroke-opacity="0.85"/>
<path d="M186.5,1172 L189.5,1179.6 L197.6,1180.1 L191.3,1185.2 L193.4,1193.1 L186.5,1188.7 L179.7,1193.1 L181.8,1185.2 L175.4,1180.1 L183.6,1179.6Z" fill="#000"/>
</g>
<rect x="84.7" y="1074.0" width="212.3" height="211.5" fill="none" stroke="#111" stroke-width="1.6"/>
<clipPath id="ce1"><rect x="330.6" y="1074.0" width="210.4" height="211.5"/></clipPath>
<g clip-path="url(#ce1)">
<rect x="328.6" y="1072" width="214.4" height="215.5" fill="#ffffbf"/>
<polygon points="328,1082.8 339.8,1079.9 350.2,1075.4 372.3,1071 446.2,1071 458,1085.8 460.9,1100.5 456.5,1115.3 450.6,1127.1 440.3,1133 424,1131.6 409.2,1130.1 394.5,1133 384.1,1140.4 372.3,1147.8 357.5,1149.3 342.8,1146.3 328,1144.9" fill="#83a7bc"/>
<polygon points="487.5,1071 545.1,1071 545.1,1105 534.8,1100.5 520,1093.2 505.3,1088.7 493.4,1082.8" fill="#83a7bc"/>
<polygon points="328,1248.3 339.8,1237.9 350.2,1226.1 357.5,1223.2 366.4,1227.6 369.4,1240.9 364.9,1255.6 360.5,1270.4 357.5,1288.1 328,1288.1" fill="#83a7bc"/>
<polygon points="475.7,1248.3 490.5,1237.9 505.3,1233.5 520,1236.4 534.8,1230.5 545.1,1229.1 545.1,1288.1 460.9,1288.1" fill="#83a7bc"/>
<polygon points="372.3,1100.5 376.7,1082.8 384.1,1071 443.2,1071 449.1,1085.8 449.1,1100.5 443.2,1112.4 431.4,1121.2 419.6,1119.7 410.7,1112.4 401.9,1103.5 394.5,1096.1 387.1,1096.1 387.1,1107.9 384.1,1116.8 376.7,1118.3 372.3,1112.4" fill="#1574b8"/>
<polygon points="497.9,1071 545.1,1071 545.1,1099.1 534.8,1093.2 520,1085.8 505.3,1079.9" fill="#1574b8"/>
<polygon points="328,1263 339.8,1260.1 348.7,1266 350.2,1280.8 345.7,1288.1 328,1288.1" fill="#1574b8"/>
<polygon points="472.8,1255.6 483.1,1242.4 497.9,1239.4 512.6,1243.8 527.4,1242.4 537.8,1248.3 545.1,1251.2 545.1,1288.1 497.9,1288.1 483.1,1277.8 474.2,1267.5" fill="#1574b8"/>
<polygon points="463.9,1122.7 469.8,1105 475.7,1096.1 490.5,1094.6 512.6,1097.6 527.4,1103.5 545.1,1109.4 545.1,1229.1 534.8,1230.5 520,1236.4 505.3,1233.5 490.5,1233.5 475.7,1218.7 460.9,1174.4 460.9,1144.9" fill="#fed497"/>
<polygon points="493.4,1150.8 499.4,1144.9 509.7,1147.8 512.6,1156.7 505.3,1162.6 496.4,1159.6" fill="#ffffbf"/>
<polygon points="528.9,1167 534.8,1156.7 545.1,1153.7 545.1,1186.2 534.8,1183.3" fill="#ffffbf"/>
<polygon points="328,1159.6 336.9,1162.6 350.2,1177.4 357.5,1196.6 357.5,1211.3 350.2,1226.1 339.8,1237.9 328,1248.3" fill="#fed497"/>
<polygon points="534.8,1137.5 540.7,1131.6 545.1,1130.1 545.1,1147.8 537.8,1146.3" fill="#fe8254"/>
<polygon points="384.1,1167 390,1153.7 401.9,1144.9 416.6,1140.4 431.4,1143.4 446.2,1147.8 460.9,1150.8 475.7,1156.7 490.5,1167 505.3,1178.8 520,1192.1 527.4,1203.9 524.5,1218.7 517.1,1227.6 505.3,1230.5 490.5,1233.5 460.9,1203.9 431.4,1248.3 416.6,1288.1 372.3,1288.1 376.7,1263 384.1,1240.9 390,1218.7 394.5,1203.9 390,1189.2 384.1,1177.4" fill="#fed497"/>
<polygon points="393,1162.6 398.9,1150.8 410.7,1143.4 424,1143.4 438.8,1147.8 453.6,1153.7 468.3,1156.7 483.1,1164.1 497.9,1174.4 512.6,1189.2 523,1201 524.5,1212.8 520,1221.7 505.3,1226.1 460.9,1203.9 431.4,1248.3 410.7,1288.1 372.3,1288.1 375.3,1263 382.7,1240.9 390,1218.7 396,1201 397.4,1186.2 394.5,1174.4" fill="#fe8254"/>
<polygon points="401.9,1159.6 407.8,1153.7 422.5,1152.2 438.8,1153.7 453.6,1156.7 468.3,1159.6 483.1,1168.5 497.9,1180.3 512.6,1193.6 518.6,1206.9 517.1,1218.7 508.2,1223.2 475.7,1203.9 446.2,1218.7 424,1248.3 406.3,1288.1 369.4,1288.1 372.3,1270.4 379.7,1248.3 387.1,1230.5 398.9,1212.8 403.3,1196.6 403.3,1181.8 400.4,1168.5" fill="#f92b23"/>
<polygon points="405,1286.2 404.6,1269.7 402.8,1263.6 408.9,1262.7 412.3,1261.9 412.3,1254.9 412.3,1249.7 414.9,1244.5 420.1,1243.6 425.3,1241 430.5,1237.6 433.9,1235 437.4,1230.6 440,1227.1 442.6,1223.7 444.3,1221.9 440.8,1217.6 439.1,1213.3 437.4,1208.9 437.4,1205.4 440.8,1204.6 444.3,1202 447.7,1199.4 451.2,1195.9 454.6,1195 458.1,1195 460.7,1197.6 464.1,1198.5 468.5,1196.8 471.9,1194.2 473.6,1190.7 471.1,1187.2 475.4,1184.6 480.6,1183.7 484.9,1184.6 488.3,1188.1 492.6,1190.7 497,1194.2 501.3,1197.6 505.6,1202 508.2,1207.2 508.2,1213.3 507.3,1216.7 503.9,1218.5 501.3,1221.1 497.8,1225.4 495.2,1228.9 492.6,1233.2 490.1,1236.7 485.7,1239.3 481.4,1241 478,1243.6 475.4,1248 471.9,1250.6 466.7,1252.3 464.1,1254.9 462.4,1258.4 463.3,1263.6 465,1267.1 463.3,1270.5 458.1,1271.4 452.9,1271.4 449.5,1269.7 449.5,1274 446,1277.5 444.3,1281 445.1,1286.2" fill="none" stroke="#000" stroke-opacity="0.5" stroke-width="6" stroke-linejoin="round"/>
<polyline points="492.6,1190.7 497,1194.2 501.3,1197.6 505.6,1202 508.2,1207.2 508.2,1213.3 507.3,1216.7 503.9,1218.5" fill="none" stroke="#000" stroke-opacity="0.35" stroke-width="12" stroke-linejoin="round" stroke-linecap="round"/>
<polyline points="425.3,1241 430.5,1237.6 433.9,1235 437.4,1230.6 440,1227.1 442.6,1223.7 444.3,1221.9 440.8,1217.6 439.1,1213.3 437.4,1208.9 437.4,1205.4 440.8,1204.6 444.3,1202" fill="none" stroke="#000" stroke-opacity="0.3" stroke-width="9" stroke-linejoin="round" stroke-linecap="round"/>
<polygon points="426,1190.1 437.9,1190.1 439.9,1198.4 439.4,1208.8 437.9,1217.1 429.6,1220.2 426,1209.8 425.5,1199.4" fill="#000" fill-opacity="0.25"/>
<polygon points="405,1286.2 404.6,1269.7 402.8,1263.6 408.9,1262.7 412.3,1261.9 412.3,1254.9 412.3,1249.7 414.9,1244.5 420.1,1243.6 425.3,1241 430.5,1237.6 433.9,1235 437.4,1230.6 440,1227.1 442.6,1223.7 444.3,1221.9 440.8,1217.6 439.1,1213.3 437.4,1208.9 437.4,1205.4 440.8,1204.6 444.3,1202 447.7,1199.4 451.2,1195.9 454.6,1195 458.1,1195 460.7,1197.6 464.1,1198.5 468.5,1196.8 471.9,1194.2 473.6,1190.7 471.1,1187.2 475.4,1184.6 480.6,1183.7 484.9,1184.6 488.3,1188.1 492.6,1190.7 497,1194.2 501.3,1197.6 505.6,1202 508.2,1207.2 508.2,1213.3 507.3,1216.7 503.9,1218.5 501.3,1221.1 497.8,1225.4 495.2,1228.9 492.6,1233.2 490.1,1236.7 485.7,1239.3 481.4,1241 478,1243.6 475.4,1248 471.9,1250.6 466.7,1252.3 464.1,1254.9 462.4,1258.4 463.3,1263.6 465,1267.1 463.3,1270.5 458.1,1271.4 452.9,1271.4 449.5,1269.7 449.5,1274 446,1277.5 444.3,1281 445.1,1286.2" fill="#fff" stroke="#101820" stroke-width="1.2"/>
<path d="M439.6,1073.9 L444,1079.8 L445.5,1091.6 L447.7,1099 L454.3,1107.9 L457.3,1115.4 L460.9,1121.3 L462.4,1130.2 L460.9,1139.1 L460.9,1148 L460.2,1153.9 L459.5,1159.8 L462.4,1165.7 L466.1,1173.2 L467.6,1177.6 L465.4,1182.8 L460.9,1185.8 L459.5,1190.9 L458,1196.9 M446.2,1073.9 L452.1,1080.5 L457.3,1085.7 L459.5,1091.6 L463.1,1097.6 L468.3,1100.5 L473.5,1106.5 L480.8,1112.4 L486.7,1115.4 L494.1,1118.3 L501.5,1121.3 L508.9,1125.7 L516.2,1128 L522.1,1134.6 L528,1136.1 L533.9,1133.1 L541.3,1130.9 M330.7,1148 L336.4,1150.9 L342.2,1156.9 L349.6,1157.6 L357,1155.4 L364.4,1153.9 L371.7,1150.9 L379.8,1146.5 L379.1,1154.6 L375.4,1157.6 L379.1,1158.3 L384.3,1160.6 L389.4,1156.1 L395.3,1156.9 L399.8,1152.4 L407.1,1149.4 L416,1149.4 L423.3,1150.9 L429.2,1148.7 L430.7,1144.3 L435.1,1145 L441,1145.7 L445.5,1145 L446.9,1149.4 L452.8,1150.9 L458,1151.7 L460.9,1153.9 M330.7,1204.3 L336.4,1205.8 L343.7,1210.9 L349.6,1216.9 L357,1225 L361.7,1233.2 L362.9,1228 L363.6,1219.1 L367.3,1213.2 L365.8,1208.7 L361.4,1201.3 L357.7,1199.8 L357,1203.5 L362.9,1199.8 L368.8,1198.4 L376.2,1193.9 L383.5,1196.9 L389.4,1199.8 L396.8,1201.3 L401.2,1205 L407.1,1208.7 L413,1214.7 L416,1220.6 L419.7,1223.5 L424.8,1223.5 L430.7,1222.1 L436.6,1223.5 L440.3,1225" fill="none" stroke="#2a2a2a" stroke-width="0.9" stroke-opacity="0.85"/>
<path d="M431.5,1172.1 L434.4,1179.7 L442.5,1180.1 L436.2,1185.2 L438.3,1193 L431.5,1188.6 L424.7,1193 L426.8,1185.2 L420.5,1180.1 L428.6,1179.7Z" fill="#000"/>
</g>
<rect x="330.6" y="1074.0" width="210.4" height="211.5" fill="none" stroke="#111" stroke-width="1.6"/>
<clipPath id="ce2"><rect x="581.7" y="1074.0" width="210.8" height="211.5"/></clipPath>
<g clip-path="url(#ce2)">
<rect x="579.7" y="1072" width="214.8" height="215.5" fill="#f92b23"/>
<polygon points="579,1071 627.7,1071 623.3,1082.8 615.9,1093.2 608.5,1103.5 604.1,1115.3 604.1,1130.1 608.5,1144.9 611.5,1156.7 608.5,1167 593.8,1172.9 579,1174.4" fill="#fe8254"/>
<polygon points="579,1118.3 584.9,1118.3 586.4,1127.1 583.4,1137.5 579,1137.5" fill="#ffffbf"/>
<polygon points="655.8,1071 796.1,1071 796.1,1196.6 788.8,1192.1 778.4,1180.3 771,1167 762.2,1153.7 757.7,1141.9 759.2,1130.1 771,1127.1 779.9,1118.3 779.9,1110.9 771,1106.5 756.3,1100.5 741.5,1097.6 726.7,1094.6 711.9,1093.2 703.1,1099.1 697.2,1105 682.4,1106.5 673.5,1105 667.6,1097.6 661.7,1085.8" fill="#fe8254"/>
<polygon points="664.7,1071 689.8,1071 685.4,1082.8 679.4,1090.2 672.1,1088.7 667.6,1079.9" fill="#fed497"/>
<polygon points="719.3,1071 796.1,1071 796.1,1107.9 785.8,1105 771,1099.1 756.3,1093.2 741.5,1088.7 726.7,1082.8" fill="#fed497"/>
<polygon points="726.7,1071 796.1,1071 796.1,1097.6 785.8,1093.2 771,1087.2 756.3,1082.8 741.5,1078.4" fill="#ffffbf"/>
<polygon points="743,1071 774,1071 768.1,1076.9 759.2,1079.9 748.9,1076.9" fill="#83a7bc"/>
<polygon points="579,1237.9 593.8,1230.5 608.5,1227.6 617.4,1233.5 620.4,1248.3 617.4,1263 614.5,1277.8 613,1288.1 579,1288.1" fill="#fe8254"/>
<polygon points="590.8,1255.6 601.2,1245.3 611.5,1243.8 611.5,1263 608.5,1277.8 607.1,1288.1 587.9,1288.1" fill="#fed497"/>
<polygon points="711.9,1288.1 719.3,1263 726.7,1251.2 741.5,1246.8 756.3,1248.3 771,1251.2 785.8,1252.7 796.1,1252.7 796.1,1288.1" fill="#fe8254"/>
<polygon points="716.4,1288.1 723.8,1266 734.1,1254.2 748.9,1252.7 763.6,1255.6 778.4,1258.6 796.1,1260.1 796.1,1288.1" fill="#fed497"/>
<polygon points="720.8,1288.1 726.7,1270.4 734.1,1260.1 748.9,1257.1 763.6,1261.6 778.4,1266 796.1,1267.5 796.1,1288.1" fill="#ffffbf"/>
<polygon points="731.2,1257.1 738.5,1252.7 748.9,1257.1 754.8,1267.5 750.4,1271.9 738.5,1266" fill="#83a7bc"/>
<polygon points="762.2,1288.1 771,1280.8 785.8,1271.9 796.1,1268.9 796.1,1288.1" fill="#1574b8"/>
<polygon points="656.2,1286.2 655.8,1269.7 654.1,1263.6 660.1,1262.7 663.6,1261.9 663.6,1254.9 663.6,1249.7 666.2,1244.5 671.4,1243.6 676.6,1241 681.8,1237.6 685.2,1235 688.7,1230.6 691.3,1227.1 693.9,1223.7 695.6,1221.9 692.1,1217.6 690.4,1213.3 688.7,1208.9 688.7,1205.4 692.1,1204.6 695.6,1202 699.1,1199.4 702.5,1195.9 706,1195 709.4,1195 712,1197.6 715.5,1198.5 719.8,1196.8 723.3,1194.2 725,1190.7 722.4,1187.2 726.7,1184.6 731.9,1183.7 736.3,1184.6 739.7,1188.1 744.1,1190.7 748.4,1194.2 752.7,1197.6 757,1202 759.6,1207.2 759.6,1213.3 758.8,1216.7 755.3,1218.5 752.7,1221.1 749.2,1225.4 746.6,1228.9 744.1,1233.2 741.5,1236.7 737.1,1239.3 732.8,1241 729.3,1243.6 726.7,1248 723.3,1250.6 718.1,1252.3 715.5,1254.9 713.8,1258.4 714.6,1263.6 716.4,1267.1 714.6,1270.5 709.4,1271.4 704.3,1271.4 700.8,1269.7 700.8,1274 697.3,1277.5 695.6,1281 696.5,1286.2" fill="none" stroke="#000" stroke-opacity="0.5" stroke-width="6" stroke-linejoin="round"/>
<polyline points="744.1,1190.7 748.4,1194.2 752.7,1197.6 757,1202 759.6,1207.2 759.6,1213.3 758.8,1216.7 755.3,1218.5" fill="none" stroke="#000" stroke-opacity="0.35" stroke-width="12" stroke-linejoin="round" stroke-linecap="round"/>
<polyline points="676.6,1241 681.8,1237.6 685.2,1235 688.7,1230.6 691.3,1227.1 693.9,1223.7 695.6,1221.9 692.1,1217.6 690.4,1213.3 688.7,1208.9 688.7,1205.4 692.1,1204.6 695.6,1202" fill="none" stroke="#000" stroke-opacity="0.3" stroke-width="9" stroke-linejoin="round" stroke-linecap="round"/>
<polygon points="677.3,1190.1 689.2,1190.1 691.2,1198.4 690.7,1208.8 689.2,1217.1 680.9,1220.2 677.3,1209.8 676.8,1199.4" fill="#000" fill-opacity="0.25"/>
<polygon points="656.2,1286.2 655.8,1269.7 654.1,1263.6 660.1,1262.7 663.6,1261.9 663.6,1254.9 663.6,1249.7 666.2,1244.5 671.4,1243.6 676.6,1241 681.8,1237.6 685.2,1235 688.7,1230.6 691.3,1227.1 693.9,1223.7 695.6,1221.9 692.1,1217.6 690.4,1213.3 688.7,1208.9 688.7,1205.4 692.1,1204.6 695.6,1202 699.1,1199.4 702.5,1195.9 706,1195 709.4,1195 712,1197.6 715.5,1198.5 719.8,1196.8 723.3,1194.2 725,1190.7 722.4,1187.2 726.7,1184.6 731.9,1183.7 736.3,1184.6 739.7,1188.1 744.1,1190.7 748.4,1194.2 752.7,1197.6 757,1202 759.6,1207.2 759.6,1213.3 758.8,1216.7 755.3,1218.5 752.7,1221.1 749.2,1225.4 746.6,1228.9 744.1,1233.2 741.5,1236.7 737.1,1239.3 732.8,1241 729.3,1243.6 726.7,1248 723.3,1250.6 718.1,1252.3 715.5,1254.9 713.8,1258.4 714.6,1263.6 716.4,1267.1 714.6,1270.5 709.4,1271.4 704.3,1271.4 700.8,1269.7 700.8,1274 697.3,1277.5 695.6,1281 696.5,1286.2" fill="#fff" stroke="#101820" stroke-width="1.2"/>
<path d="M690.9,1073.9 L695.3,1079.8 L696.8,1091.6 L699,1099 L705.6,1107.9 L708.6,1115.4 L712.3,1121.3 L713.8,1130.2 L712.3,1139.1 L712.3,1148 L711.5,1153.9 L710.8,1159.8 L713.8,1165.7 L717.5,1173.2 L718.9,1177.6 L716.7,1182.8 L712.3,1185.8 L710.8,1190.9 L709.3,1196.9 M697.5,1073.9 L703.4,1080.5 L708.6,1085.7 L710.8,1091.6 L714.5,1097.6 L719.7,1100.5 L724.8,1106.5 L732.2,1112.4 L738.1,1115.4 L745.5,1118.3 L752.9,1121.3 L760.3,1125.7 L767.7,1128 L773.6,1134.6 L779.5,1136.1 L785.4,1133.1 L792.8,1130.9 M581.8,1148 L587.5,1150.9 L593.4,1156.9 L600.8,1157.6 L608.1,1155.4 L615.5,1153.9 L622.9,1150.9 L631,1146.5 L630.3,1154.6 L626.6,1157.6 L630.3,1158.3 L635.5,1160.6 L640.6,1156.1 L646.6,1156.9 L651,1152.4 L658.4,1149.4 L667.2,1149.4 L674.6,1150.9 L680.5,1148.7 L682,1144.3 L686.4,1145 L692.3,1145.7 L696.8,1145 L698.3,1149.4 L704.2,1150.9 L709.3,1151.7 L712.3,1153.9 M581.8,1204.3 L587.5,1205.8 L594.8,1210.9 L600.8,1216.9 L608.1,1225 L612.9,1233.2 L614.1,1228 L614.8,1219.1 L618.5,1213.2 L617,1208.7 L612.6,1201.3 L608.9,1199.8 L608.1,1203.5 L614.1,1199.8 L620,1198.4 L627.3,1193.9 L634.7,1196.9 L640.6,1199.8 L648,1201.3 L652.5,1205 L658.4,1208.7 L664.3,1214.7 L667.2,1220.6 L670.9,1223.5 L676.1,1223.5 L682,1222.1 L687.9,1223.5 L691.6,1225" fill="none" stroke="#2a2a2a" stroke-width="0.9" stroke-opacity="0.85"/>
<path d="M682.8,1172.1 L685.7,1179.7 L693.8,1180.1 L687.5,1185.2 L689.6,1193 L682.8,1188.7 L676,1193 L678.1,1185.2 L671.8,1180.1 L679.9,1179.7Z" fill="#000"/>
</g>
<rect x="581.7" y="1074.0" width="210.8" height="211.5" fill="none" stroke="#111" stroke-width="1.6"/>
<clipPath id="ce3"><rect x="838.7" y="1074.0" width="211.8" height="211.5"/></clipPath>
<g clip-path="url(#ce3)">
<rect x="836.7" y="1072" width="215.8" height="215.5" fill="#ffffbf"/>
<polygon points="865.5,1071 1031,1071 1028,1079.9 1013.3,1090.2 998.5,1096.1 983.7,1100.5 968.9,1106.5 954.2,1112.4 939.4,1115.3 924.6,1116.8 909.9,1113.8 895.1,1107.9 880.3,1100.5 870,1088.7" fill="#83a7bc"/>
<polygon points="917.2,1071 968.9,1071 961.6,1082.8 951.2,1093.2 939.4,1097.6 927.6,1094.6 918.7,1085.8" fill="#1574b8"/>
<polygon points="976.3,1071 1031,1071 1028,1078.4 1013.3,1085.8 998.5,1087.2 983.7,1082.8" fill="#1574b8"/>
<polygon points="836,1085.8 843.4,1082.8 847.8,1093.2 847.8,1107.9 841.9,1115.3 836,1115.3" fill="#fed497"/>
<polygon points="836,1147.8 850.8,1141.9 858.2,1127.1 865.5,1115.3 880.3,1112.4 895.1,1118.3 909.9,1125.7 924.6,1128.6 939.4,1127.1 954.2,1121.2 968.9,1112.4 983.7,1107.9 998.5,1110.9 1013.3,1118.3 1025.1,1130.1 1028,1141.9 1035.4,1147.8 1045.8,1153.7 1053.1,1156.7 1053.1,1288.1 1028,1288.1 1013.3,1277.8 998.5,1263 991.1,1255.6 983.7,1251.2 954.2,1218.7 924.6,1263 872.9,1288.1 858.2,1288.1 850.8,1277.8 843.4,1255.6 836,1248.3" fill="#fed497"/>
<polygon points="1020.6,1141.9 1028,1133 1042.8,1130.1 1053.1,1133 1053.1,1153.7 1039.9,1150.8 1028,1147.8" fill="#ffffbf"/>
<polygon points="836,1248.3 844.9,1240.9 858.2,1237.9 870,1240.9 877.4,1255.6 877.4,1277.8 872.9,1288.1 836,1288.1" fill="#ffffbf"/>
<polygon points="836,1264.5 847.8,1261.6 858.2,1263 861.1,1274.9 858.2,1288.1 836,1288.1" fill="#83a7bc"/>
<polygon points="994.1,1277.8 998.5,1263 1007.4,1258.6 1016.2,1263 1019.2,1277.8 1017.7,1288.1 995.5,1288.1" fill="#ffffbf"/>
<polygon points="1045.8,1288.1 1053.1,1274.9 1053.1,1288.1" fill="#1574b8"/>
<polygon points="875.9,1174.4 880.3,1159.6 887.7,1137.5 902.5,1134.5 917.2,1139 939.4,1141.9 954.2,1137.5 968.9,1130.1 976.3,1124.2 991.1,1122.7 1002.9,1127.1 1005.9,1137.5 1013.3,1147.8 1025.1,1159.6 1035.4,1174.4 1042.8,1196.6 1045.8,1218.7 1042.8,1240.9 1035.4,1255.6 1020.6,1255.6 1005.9,1251.2 983.7,1233.5 954.2,1233.5 924.6,1263 872.9,1288.1 865.5,1277.8 868.5,1255.6 872.9,1233.5 877.4,1211.3 875.9,1189.2" fill="#fe8254"/>
<polygon points="836,1203.9 843.4,1205.4 847.8,1215.8 846.3,1227.6 839,1233.5 836,1233.5" fill="#fe8254"/>
<polygon points="890.7,1174.4 895.1,1165.5 906.9,1155.2 912.8,1152.2 921.7,1159.6 932,1155.2 946.8,1153.7 961.6,1152.2 976.3,1150.8 991.1,1153.7 1005.9,1161.1 1020.6,1171.4 1031,1183.3 1036.9,1198 1038.4,1212.8 1033.9,1227.6 1025.1,1237.9 1013.3,1243.8 998.5,1243.8 983.7,1226.1 954.2,1233.5 924.6,1263 909.9,1288.1 871.5,1288.1 874.4,1270.4 880.3,1248.3 886.2,1226.1 892.1,1211.3 898,1196.6 895.1,1186.2" fill="#f92b23"/>
<polygon points="913.6,1286.2 913.2,1269.7 911.4,1263.6 917.5,1262.7 921,1261.9 921,1254.9 921,1249.7 923.6,1244.5 928.8,1243.6 934,1241 939.2,1237.6 942.7,1235 946.2,1230.6 948.8,1227.1 951.4,1223.7 953.1,1221.9 949.7,1217.6 947.9,1213.3 946.2,1208.9 946.2,1205.4 949.7,1204.6 953.1,1202 956.6,1199.4 960.1,1195.9 963.6,1195 967.1,1195 969.7,1197.6 973.1,1198.5 977.5,1196.8 981,1194.2 982.7,1190.7 980.1,1187.2 984.4,1184.6 989.7,1183.7 994,1184.6 997.5,1188.1 1001.8,1190.7 1006.2,1194.2 1010.5,1197.6 1014.9,1202 1017.5,1207.2 1017.5,1213.3 1016.6,1216.7 1013.1,1218.5 1010.5,1221.1 1007,1225.4 1004.4,1228.9 1001.8,1233.2 999.2,1236.7 994.9,1239.3 990.5,1241 987,1243.6 984.4,1248 981,1250.6 975.7,1252.3 973.1,1254.9 971.4,1258.4 972.3,1263.6 974,1267.1 972.3,1270.5 967.1,1271.4 961.8,1271.4 958.4,1269.7 958.4,1274 954.9,1277.5 953.1,1281 954,1286.2" fill="none" stroke="#000" stroke-opacity="0.5" stroke-width="6" stroke-linejoin="round"/>
<polyline points="1001.8,1190.7 1006.2,1194.2 1010.5,1197.6 1014.9,1202 1017.5,1207.2 1017.5,1213.3 1016.6,1216.7 1013.1,1218.5" fill="none" stroke="#000" stroke-opacity="0.35" stroke-width="12" stroke-linejoin="round" stroke-linecap="round"/>
<polyline points="934,1241 939.2,1237.6 942.7,1235 946.2,1230.6 948.8,1227.1 951.4,1223.7 953.1,1221.9 949.7,1217.6 947.9,1213.3 946.2,1208.9 946.2,1205.4 949.7,1204.6 953.1,1202" fill="none" stroke="#000" stroke-opacity="0.3" stroke-width="9" stroke-linejoin="round" stroke-linecap="round"/>
<polygon points="934.7,1190.1 946.7,1190.1 948.8,1198.4 948.2,1208.8 946.7,1217.1 938.4,1220.2 934.7,1209.8 934.2,1199.4" fill="#000" fill-opacity="0.25"/>
<polygon points="913.6,1286.2 913.2,1269.7 911.4,1263.6 917.5,1262.7 921,1261.9 921,1254.9 921,1249.7 923.6,1244.5 928.8,1243.6 934,1241 939.2,1237.6 942.7,1235 946.2,1230.6 948.8,1227.1 951.4,1223.7 953.1,1221.9 949.7,1217.6 947.9,1213.3 946.2,1208.9 946.2,1205.4 949.7,1204.6 953.1,1202 956.6,1199.4 960.1,1195.9 963.6,1195 967.1,1195 969.7,1197.6 973.1,1198.5 977.5,1196.8 981,1194.2 982.7,1190.7 980.1,1187.2 984.4,1184.6 989.7,1183.7 994,1184.6 997.5,1188.1 1001.8,1190.7 1006.2,1194.2 1010.5,1197.6 1014.9,1202 1017.5,1207.2 1017.5,1213.3 1016.6,1216.7 1013.1,1218.5 1010.5,1221.1 1007,1225.4 1004.4,1228.9 1001.8,1233.2 999.2,1236.7 994.9,1239.3 990.5,1241 987,1243.6 984.4,1248 981,1250.6 975.7,1252.3 973.1,1254.9 971.4,1258.4 972.3,1263.6 974,1267.1 972.3,1270.5 967.1,1271.4 961.8,1271.4 958.4,1269.7 958.4,1274 954.9,1277.5 953.1,1281 954,1286.2" fill="#fff" stroke="#101820" stroke-width="1.2"/>
<path d="M948.4,1073.9 L952.8,1079.8 L954.3,1091.6 L956.5,1099 L963.2,1107.9 L966.2,1115.4 L969.9,1121.3 L971.4,1130.2 L969.9,1139.1 L969.9,1148 L969.2,1153.9 L968.4,1159.8 L971.4,1165.7 L975.1,1173.2 L976.6,1177.6 L974.4,1182.8 L969.9,1185.8 L968.4,1190.9 L966.9,1196.9 M955.1,1073.9 L961,1080.5 L966.2,1085.7 L968.4,1091.6 L972.1,1097.6 L977.3,1100.5 L982.5,1106.5 L989.9,1112.4 L995.9,1115.4 L1003.3,1118.3 L1010.7,1121.3 L1018.1,1125.7 L1025.6,1128 L1031.5,1134.6 L1037.4,1136.1 L1043.4,1133.1 L1050.8,1130.9 M838.9,1148 L844.5,1150.9 L850.4,1156.9 L857.8,1157.6 L865.3,1155.4 L872.7,1153.9 L880.1,1150.9 L888.3,1146.5 L887.5,1154.6 L883.8,1157.6 L887.5,1158.3 L892.7,1160.6 L897.9,1156.1 L903.9,1156.9 L908.3,1152.4 L915.7,1149.4 L924.6,1149.4 L932.1,1150.9 L938,1148.7 L939.5,1144.3 L943.9,1145 L949.9,1145.7 L954.3,1145 L955.8,1149.4 L961.7,1150.9 L966.9,1151.7 L969.9,1153.9 M838.9,1204.3 L844.5,1205.8 L851.9,1210.9 L857.8,1216.9 L865.3,1225 L870,1233.2 L871.2,1228 L871.9,1219.1 L875.7,1213.2 L874.2,1208.7 L869.7,1201.3 L866,1199.8 L865.3,1203.5 L871.2,1199.8 L877.1,1198.4 L884.6,1193.9 L892,1196.9 L897.9,1199.8 L905.3,1201.3 L909.8,1205 L915.7,1208.7 L921.7,1214.7 L924.6,1220.6 L928.3,1223.5 L933.5,1223.5 L939.5,1222.1 L945.4,1223.5 L949.1,1225" fill="none" stroke="#2a2a2a" stroke-width="0.9" stroke-opacity="0.85"/>
<path d="M940.3,1172 L943.2,1179.6 L951.3,1180.1 L945,1185.2 L947.1,1193.1 L940.3,1188.7 L933.5,1193.1 L935.5,1185.2 L929.2,1180.1 L937.3,1179.6Z" fill="#000"/>
</g>
<rect x="838.7" y="1074.0" width="211.8" height="211.5" fill="none" stroke="#111" stroke-width="1.6"/>
<clipPath id="cf0"><rect x="84.7" y="1335.7" width="212.3" height="210.0"/></clipPath>
<g clip-path="url(#cf0)">
<rect x="82.7" y="1333.7" width="216.3" height="214" fill="#ffffbf"/>
<polygon points="82,1333 223.8,1333 222.3,1347.8 220.9,1362.5 220.9,1377.3 217.9,1389.1 207.6,1395 197.2,1401 185.4,1406.9 176.5,1403.9 167.7,1402.4 158.8,1408.3 150,1415.7 144,1427.5 142.6,1439.4 145.5,1451.2 151.4,1463 155.9,1471.9 152.9,1480.7 141.1,1482.2 133.7,1492.5 127.8,1510.3 124.8,1525 123.4,1550.1 82,1550.1" fill="#83a7bc"/>
<polygon points="82,1333 98.2,1333 95.3,1341.9 87.9,1347.8 82,1349.2" fill="#ffffbf"/>
<polygon points="132.2,1362.5 135.2,1352.2 141.1,1344.8 148.5,1344.8 151.4,1355.2 148.5,1369.9 141.1,1375.8 133.7,1372.9" fill="#ffffbf"/>
<polygon points="141.1,1355.2 145.5,1353.7 147,1362.5 142.6,1365.5" fill="#fed497"/>
<polygon points="93.8,1457.1 96.8,1449.7 111.5,1445.3 126.3,1446.7 136.7,1451.2 136.7,1463 130.7,1473.3 118.9,1477.8 104.2,1474.8 95.3,1467.4" fill="#ffffbf"/>
<polygon points="243,1333 257.8,1333 256.3,1344.8 251.9,1350.7 246,1346.3" fill="#83a7bc"/>
<polygon points="155.9,1333 220.9,1333 219.4,1347.8 217.9,1362.5 217.9,1377.3 212,1386.2 200.2,1392.1 185.4,1398 170.6,1402.4 155.9,1405.4 145.5,1406.9 144,1395 148.5,1381.7 152.9,1369.9 154.4,1355.2" fill="#1574b8"/>
<polygon points="82,1406.9 96.8,1402.4 111.5,1401 126.3,1403.9 133.7,1415.7 130.7,1427.5 121.9,1436.4 108.6,1440.8 96.8,1440.8 82,1439.4" fill="#1574b8"/>
<polygon points="82,1477.8 93.8,1482.2 104.2,1488.1 114.5,1492.5 118.9,1502.9 117.5,1517.6 113,1522.1 107.1,1514.7 96.8,1502.9 86.4,1492.5 82,1489.6" fill="#1574b8"/>
<polygon points="96.8,1545.7 104.2,1533.9 108.6,1529.5 111.5,1539.8 111.5,1550.1 95.3,1550.1" fill="#1574b8"/>
<polygon points="173.6,1489.6 182.4,1482.2 194.3,1480.7 200.2,1486.6 194.3,1498.4 185.4,1502.9 176.5,1501.4" fill="#1574b8"/>
<polygon points="271.1,1418.7 277,1409.8 288.8,1401 299.1,1398 299.1,1448.2 288.8,1442.3 277,1433.4" fill="#fed497"/>
<polygon points="212,1415.7 222.3,1412.8 237.1,1418.7 251.9,1430.5 266.6,1443.8 274,1458.6 274,1473.3 271.1,1488.1 266.6,1502.9 259.3,1517.6 251.9,1532.4 244.5,1550.1 200.2,1550.1 214.9,1495.5 222.3,1465.9" fill="#fed497"/>
<polygon points="278.5,1550.1 274,1532.4 277,1510.3 288.8,1495.5 299.1,1488.1 299.1,1550.1" fill="#fed497"/>
<polygon points="158.8,1445.3 170.6,1433.4 185.4,1429 200.2,1426.1 212,1421.6 214.9,1436.4 207.6,1458.6 192.8,1473.3 178,1474.8 164.7,1463" fill="#fed497"/>
<polygon points="167.7,1445.3 173.6,1437.9 185.4,1434.9 197.2,1436.4 200.2,1448.2 197.2,1460 188.4,1465.9 178,1463 169.2,1455.6" fill="#fe8254"/>
<polygon points="197.2,1448.2 207.6,1429 217.9,1421.6 229.7,1421.6 244.5,1433.4 256.3,1446.7 266.6,1458.6 271.1,1468.9 266.6,1477.8 229.7,1458.6 214.9,1458.6 200.2,1458.6" fill="#f92b23"/>
<polygon points="130.7,1550.1 132.2,1525 135.2,1502.9 141.1,1488.1 152.9,1477.8 164.7,1480.7 167.7,1495.5 164.7,1550.1" fill="#fed497"/>
<polygon points="138.1,1550.1 139.6,1525 142.6,1502.9 148.5,1491.1 158.8,1486.6 164.7,1492.5 164.7,1510.3 161.8,1525 161.8,1550.1" fill="#fe8254"/>
<polygon points="162.3,1547.4 161.8,1531 160.1,1525 166.2,1524.1 169.7,1523.2 169.7,1516.3 169.7,1511.2 172.3,1506 177.5,1505.1 182.7,1502.5 188,1499.1 191.5,1496.5 194.9,1492.2 197.6,1488.8 200.2,1485.3 201.9,1483.6 198.4,1479.3 196.7,1475 194.9,1470.7 194.9,1467.2 198.4,1466.3 201.9,1463.8 205.4,1461.2 208.9,1457.7 212.4,1456.9 215.9,1456.9 218.5,1459.4 222,1460.3 226.3,1458.6 229.8,1456 231.5,1452.6 228.9,1449.1 233.3,1446.5 238.5,1445.7 242.9,1446.5 246.4,1450 250.7,1452.6 255.1,1456 259.4,1459.4 263.8,1463.8 266.4,1468.9 266.4,1475 265.5,1478.4 262,1480.1 259.4,1482.7 255.9,1487 253.3,1490.5 250.7,1494.8 248.1,1498.2 243.7,1500.8 239.4,1502.5 235.9,1505.1 233.3,1509.4 229.8,1512 224.6,1513.8 222,1516.3 220.2,1519.8 221.1,1525 222.8,1528.4 221.1,1531.9 215.9,1532.7 210.6,1532.7 207.1,1531 207.1,1535.3 203.7,1538.7 201.9,1542.2 202.8,1547.4" fill="none" stroke="#000" stroke-opacity="0.5" stroke-width="6" stroke-linejoin="round"/>
<polyline points="250.7,1452.6 255.1,1456 259.4,1459.4 263.8,1463.8 266.4,1468.9 266.4,1475 265.5,1478.4 262,1480.1" fill="none" stroke="#000" stroke-opacity="0.35" stroke-width="12" stroke-linejoin="round" stroke-linecap="round"/>
<polyline points="182.7,1502.5 188,1499.1 191.5,1496.5 194.9,1492.2 197.6,1488.8 200.2,1485.3 201.9,1483.6 198.4,1479.3 196.7,1475 194.9,1470.7 194.9,1467.2 198.4,1466.3 201.9,1463.8" fill="none" stroke="#000" stroke-opacity="0.3" stroke-width="9" stroke-linejoin="round" stroke-linecap="round"/>
<polygon points="183.5,1452 195.4,1452 197.5,1460.2 197,1470.5 195.4,1478.8 187.1,1481.8 183.5,1471.6 182.9,1461.3" fill="#000" fill-opacity="0.25"/>
<polygon points="162.3,1547.4 161.8,1531 160.1,1525 166.2,1524.1 169.7,1523.2 169.7,1516.3 169.7,1511.2 172.3,1506 177.5,1505.1 182.7,1502.5 188,1499.1 191.5,1496.5 194.9,1492.2 197.6,1488.8 200.2,1485.3 201.9,1483.6 198.4,1479.3 196.7,1475 194.9,1470.7 194.9,1467.2 198.4,1466.3 201.9,1463.8 205.4,1461.2 208.9,1457.7 212.4,1456.9 215.9,1456.9 218.5,1459.4 222,1460.3 226.3,1458.6 229.8,1456 231.5,1452.6 228.9,1449.1 233.3,1446.5 238.5,1445.7 242.9,1446.5 246.4,1450 250.7,1452.6 255.1,1456 259.4,1459.4 263.8,1463.8 266.4,1468.9 266.4,1475 265.5,1478.4 262,1480.1 259.4,1482.7 255.9,1487 253.3,1490.5 250.7,1494.8 248.1,1498.2 243.7,1500.8 239.4,1502.5 235.9,1505.1 233.3,1509.4 229.8,1512 224.6,1513.8 222,1516.3 220.2,1519.8 221.1,1525 222.8,1528.4 221.1,1531.9 215.9,1532.7 210.6,1532.7 207.1,1531 207.1,1535.3 203.7,1538.7 201.9,1542.2 202.8,1547.4" fill="#fff" stroke="#101820" stroke-width="1.2"/>
<path d="M197.1,1336.6 L201.6,1342.4 L203.1,1354.2 L205.3,1361.6 L212,1370.4 L215,1377.8 L218.7,1383.6 L220.2,1392.5 L218.7,1401.3 L218.7,1410.1 L218,1416 L217.2,1421.9 L220.2,1427.8 L223.9,1435.2 L225.4,1439.6 L223.2,1444.7 L218.7,1447.7 L217.2,1452.8 L215.7,1458.7 M203.8,1336.6 L209.8,1343.2 L215,1348.3 L217.2,1354.2 L220.9,1360.1 L226.2,1363 L231.4,1368.9 L238.8,1374.8 L244.8,1377.8 L252.2,1380.7 L259.6,1383.6 L267.1,1388.1 L274.5,1390.3 L280.5,1396.9 L286.4,1398.4 L292.4,1395.4 L299.8,1393.2 M87.4,1410.1 L93,1413.1 L99,1419 L106.4,1419.7 L113.8,1417.5 L121.3,1416 L128.7,1413.1 L136.9,1408.7 L136.1,1416.8 L132.4,1419.7 L136.1,1420.4 L141.4,1422.6 L146.6,1418.2 L152.5,1419 L157,1414.5 L164.4,1411.6 L173.3,1411.6 L180.8,1413.1 L186.7,1410.9 L188.2,1406.5 L192.7,1407.2 L198.6,1407.9 L203.1,1407.2 L204.6,1411.6 L210.5,1413.1 L215.7,1413.8 L218.7,1416 M87.4,1466.1 L93,1467.5 L100.4,1472.7 L106.4,1478.6 L113.8,1486.7 L118.6,1494.8 L119.8,1489.6 L120.5,1480.8 L124.2,1474.9 L122.8,1470.5 L118.3,1463.1 L114.6,1461.6 L113.8,1465.3 L119.8,1461.6 L125.7,1460.2 L133.2,1455.8 L140.6,1458.7 L146.6,1461.6 L154,1463.1 L158.5,1466.8 L164.4,1470.5 L170.4,1476.4 L173.3,1482.2 L177.1,1485.2 L182.3,1485.2 L188.2,1483.7 L194.2,1485.2 L197.9,1486.7" fill="none" stroke="#2a2a2a" stroke-width="0.9" stroke-opacity="0.85"/>
<path d="M189,1433.9 L192,1441.5 L200.1,1442 L193.8,1447.1 L195.9,1455 L189,1450.6 L182.2,1455 L184.3,1447.1 L177.9,1442 L186.1,1441.5Z" fill="#000"/>
</g>
<rect x="84.7" y="1335.7" width="212.3" height="210.0" fill="none" stroke="#111" stroke-width="1.6"/>
<clipPath id="cf1"><rect x="330.6" y="1335.7" width="210.4" height="210.0"/></clipPath>
<g clip-path="url(#cf1)">
<rect x="328.6" y="1333.7" width="214.4" height="214" fill="#ffffbf"/>
<polygon points="328,1333 350.2,1333 348.7,1344.8 342.8,1353.7 333.9,1356.6 328,1356.6" fill="#fed497"/>
<polygon points="363.5,1367 369.4,1359.6 381.2,1358.1 391.5,1361.1 393,1371.4 387.1,1378.8 375.3,1380.3 366.4,1375.8" fill="#fed497"/>
<polygon points="376.7,1333 525.9,1333 520,1347.8 505.3,1355.2 490.5,1356.6 475.7,1362.5 468.3,1369.9 463.9,1380.3 458,1392.1 446.2,1399.5 438.8,1402.4 431.4,1401 424,1398 413.7,1396.5 401.9,1389.1 397.4,1377.3 397.4,1362.5 390,1347.8 381.2,1340.4" fill="#83a7bc"/>
<polygon points="328,1424.6 335.4,1415.7 350.2,1406.9 364.9,1399.5 379.7,1395 394.5,1392.1 409.2,1396.5 419.6,1403.9 419.6,1409.8 409.2,1409.8 401.9,1414.2 394.5,1421.6 379.7,1429 364.9,1436.4 350.2,1439.4 335.4,1436.4 328,1433.4" fill="#83a7bc"/>
<polygon points="328,1458.6 339.8,1463 350.2,1470.4 360.5,1477.8 369.4,1488.1 373.8,1502.9 372.3,1525 369.4,1550.1 328,1550.1" fill="#83a7bc"/>
<polygon points="517.1,1375.8 520,1368.5 531.9,1367 537.8,1374.4 531.9,1381.7 521.5,1383.2" fill="#83a7bc"/>
<polygon points="493.4,1550.1 496.4,1536.9 502.3,1533.9 505.3,1539.8 505.3,1550.1" fill="#83a7bc"/>
<polygon points="394.5,1333 481.6,1333 475.7,1344.8 468.3,1355.2 463.9,1369.9 458,1381.7 449.1,1389.1 440.3,1396.5 434.4,1398 425.5,1392.1 413.7,1386.2 404.8,1380.3 400.4,1369.9 398.9,1355.2 396,1341.9" fill="#1574b8"/>
<polygon points="328,1473.3 339.8,1474.8 351.6,1480.7 360.5,1489.6 363.5,1502.9 362,1525 357.5,1539.8 353.1,1550.1 328,1550.1" fill="#1574b8"/>
<polygon points="520,1421.6 525.9,1406.9 537.8,1402.4 545.1,1402.4 545.1,1436.4 534.8,1436.4 524.5,1433.4" fill="#fed497"/>
<polygon points="527.4,1550.1 531.9,1532.4 539.2,1522.1 545.1,1519.1 545.1,1550.1" fill="#fed497"/>
<polygon points="387.1,1458.6 391.5,1443.8 398.9,1433.4 409.2,1424.6 424,1420.2 438.8,1415.7 453.6,1412.8 465.4,1411.3 475.7,1415.7 490.5,1427.5 505.3,1440.8 520,1454.1 527.4,1468.9 530.4,1480.7 524.5,1495.5 512.6,1510.3 497.9,1522.1 483.1,1532.4 475.7,1550.1 446.2,1550.1 431.4,1510.3 401.9,1525 372.3,1550.1 369.4,1550.1 372.3,1525 376.7,1502.9 382.7,1480.7" fill="#fed497"/>
<polygon points="394.5,1451.2 401.9,1439.4 410.7,1433.4 424,1429 438.8,1424.6 453.6,1420.2 465.4,1418.7 478.7,1421.6 493.4,1433.4 508.2,1446.7 520,1460 523,1473.3 520,1488.1 509.7,1502.9 494.9,1514.7 480.2,1525 468.3,1550.1 446.2,1550.1 431.4,1510.3 401.9,1525 375.3,1550.1 375.3,1525 381.2,1502.9 387.1,1480.7 391.5,1465.9" fill="#fe8254"/>
<polygon points="406.3,1445.3 410.7,1437.9 424,1434.9 438.8,1430.5 453.6,1424.6 463.9,1423.1 475.7,1426.1 490.5,1436.4 505.3,1449.7 515.6,1463 518.6,1474.8 514.1,1486.6 475.7,1465.9 446.2,1480.7 424,1502.9 409.2,1525 401.9,1550.1 375.3,1550.1 378.2,1525 387.1,1502.9 398.9,1488.1 410.7,1477.8 413.7,1465.9 409.2,1455.6" fill="#f92b23"/>
<polygon points="431.4,1480.7 437.3,1477.8 444.7,1483.7 443.2,1492.5 437.3,1494 432.9,1489.6" fill="#1574b8"/>
<polygon points="407.5,1547.4 407.1,1531 405.3,1525 411.4,1524.1 414.8,1523.2 414.8,1516.3 414.8,1511.2 417.4,1506 422.6,1505.1 427.8,1502.5 433,1499.1 436.4,1496.5 439.9,1492.2 442.5,1488.8 445.1,1485.3 446.8,1483.6 443.3,1479.3 441.6,1475 439.9,1470.7 439.9,1467.2 443.3,1466.3 446.8,1463.8 450.2,1461.2 453.7,1457.7 457.1,1456.9 460.6,1456.9 463.2,1459.4 466.6,1460.3 471,1458.6 474.4,1456 476.1,1452.6 473.6,1449.1 477.9,1446.5 483.1,1445.7 487.4,1446.5 490.8,1450 495.1,1452.6 499.5,1456 503.8,1459.4 508.1,1463.8 510.7,1468.9 510.7,1475 509.8,1478.4 506.4,1480.1 503.8,1482.7 500.3,1487 497.7,1490.5 495.1,1494.8 492.6,1498.2 488.2,1500.8 483.9,1502.5 480.5,1505.1 477.9,1509.4 474.4,1512 469.2,1513.8 466.6,1516.3 464.9,1519.8 465.8,1525 467.5,1528.4 465.8,1531.9 460.6,1532.7 455.4,1532.7 452,1531 452,1535.3 448.5,1538.7 446.8,1542.2 447.6,1547.4" fill="none" stroke="#000" stroke-opacity="0.5" stroke-width="6" stroke-linejoin="round"/>
<polyline points="495.1,1452.6 499.5,1456 503.8,1459.4 508.1,1463.8 510.7,1468.9 510.7,1475 509.8,1478.4 506.4,1480.1" fill="none" stroke="#000" stroke-opacity="0.35" stroke-width="12" stroke-linejoin="round" stroke-linecap="round"/>
<polyline points="427.8,1502.5 433,1499.1 436.4,1496.5 439.9,1492.2 442.5,1488.8 445.1,1485.3 446.8,1483.6 443.3,1479.3 441.6,1475 439.9,1470.7 439.9,1467.2 443.3,1466.3 446.8,1463.8" fill="none" stroke="#000" stroke-opacity="0.3" stroke-width="9" stroke-linejoin="round" stroke-linecap="round"/>
<polygon points="428.5,1452 440.4,1452 442.4,1460.2 441.9,1470.5 440.4,1478.8 432.1,1481.8 428.5,1471.6 428,1461.3" fill="#000" fill-opacity="0.25"/>
<polygon points="407.5,1547.4 407.1,1531 405.3,1525 411.4,1524.1 414.8,1523.2 414.8,1516.3 414.8,1511.2 417.4,1506 422.6,1505.1 427.8,1502.5 433,1499.1 436.4,1496.5 439.9,1492.2 442.5,1488.8 445.1,1485.3 446.8,1483.6 443.3,1479.3 441.6,1475 439.9,1470.7 439.9,1467.2 443.3,1466.3 446.8,1463.8 450.2,1461.2 453.7,1457.7 457.1,1456.9 460.6,1456.9 463.2,1459.4 466.6,1460.3 471,1458.6 474.4,1456 476.1,1452.6 473.6,1449.1 477.9,1446.5 483.1,1445.7 487.4,1446.5 490.8,1450 495.1,1452.6 499.5,1456 503.8,1459.4 508.1,1463.8 510.7,1468.9 510.7,1475 509.8,1478.4 506.4,1480.1 503.8,1482.7 500.3,1487 497.7,1490.5 495.1,1494.8 492.6,1498.2 488.2,1500.8 483.9,1502.5 480.5,1505.1 477.9,1509.4 474.4,1512 469.2,1513.8 466.6,1516.3 464.9,1519.8 465.8,1525 467.5,1528.4 465.8,1531.9 460.6,1532.7 455.4,1532.7 452,1531 452,1535.3 448.5,1538.7 446.8,1542.2 447.6,1547.4" fill="#fff" stroke="#101820" stroke-width="1.2"/>
<path d="M442.1,1336.6 L446.5,1342.4 L448,1354.2 L450.2,1361.6 L456.8,1370.4 L459.8,1377.8 L463.4,1383.6 L464.9,1392.5 L463.4,1401.3 L463.4,1410.1 L462.7,1416 L462,1421.9 L464.9,1427.8 L468.6,1435.2 L470.1,1439.6 L467.9,1444.7 L463.4,1447.7 L462,1452.8 L460.5,1458.7 M448.7,1336.6 L454.6,1343.2 L459.8,1348.3 L462,1354.2 L465.6,1360.1 L470.8,1363 L476,1368.9 L483.3,1374.8 L489.2,1377.8 L496.6,1380.7 L504,1383.6 L511.4,1388.1 L518.7,1390.3 L524.6,1396.9 L530.5,1398.4 L536.4,1395.4 L543.8,1393.2 M333.2,1410.1 L338.9,1413.1 L344.7,1419 L352.1,1419.7 L359.5,1417.5 L366.9,1416 L374.2,1413.1 L382.3,1408.7 L381.6,1416.8 L377.9,1419.7 L381.6,1420.4 L386.8,1422.6 L391.9,1418.2 L397.8,1419 L402.3,1414.5 L409.6,1411.6 L418.5,1411.6 L425.8,1413.1 L431.7,1410.9 L433.2,1406.5 L437.6,1407.2 L443.5,1407.9 L448,1407.2 L449.4,1411.6 L455.3,1413.1 L460.5,1413.8 L463.4,1416 M333.2,1466.1 L338.9,1467.5 L346.2,1472.7 L352.1,1478.6 L359.5,1486.7 L364.2,1494.8 L365.4,1489.6 L366.1,1480.8 L369.8,1474.9 L368.3,1470.5 L363.9,1463.1 L360.2,1461.6 L359.5,1465.3 L365.4,1461.6 L371.3,1460.2 L378.7,1455.8 L386,1458.7 L391.9,1461.6 L399.3,1463.1 L403.7,1466.8 L409.6,1470.5 L415.5,1476.4 L418.5,1482.2 L422.2,1485.2 L427.3,1485.2 L433.2,1483.7 L439.1,1485.2 L442.8,1486.7" fill="none" stroke="#2a2a2a" stroke-width="0.9" stroke-opacity="0.85"/>
<path d="M434,1434 L436.9,1441.6 L445,1442 L438.7,1447.1 L440.8,1454.9 L434,1450.6 L427.2,1454.9 L429.3,1447.1 L423,1442 L431.1,1441.6Z" fill="#000"/>
</g>
<rect x="330.6" y="1335.7" width="210.4" height="210.0" fill="none" stroke="#111" stroke-width="1.6"/>
<clipPath id="cf2"><rect x="581.7" y="1335.7" width="210.8" height="210.0"/></clipPath>
<g clip-path="url(#cf2)">
<rect x="579.7" y="1333.7" width="214.8" height="214" fill="#fed497"/>
<polygon points="661.7,1333 796.1,1333 796.1,1392.1 785.8,1387.7 771,1381.7 756.3,1372.9 741.5,1365.5 726.7,1358.1 711.9,1356.6 697.2,1355.2 682.4,1355.2 667.6,1347.8" fill="#ffffbf"/>
<polygon points="670.6,1346.3 675,1343.3 679.4,1347.8 678,1353.7 672.1,1352.2" fill="#1574b8"/>
<polygon points="762.2,1337.4 768.1,1336 771,1343.3 769.6,1347.8 763.6,1344.8" fill="#1574b8"/>
<polygon points="682.4,1333 701.6,1333 697.2,1337.4 685.4,1337.4" fill="#83a7bc"/>
<polygon points="579,1392.1 593.8,1392.1 608.5,1398 623.3,1403.9 635.1,1412.8 638.1,1424.6 630.7,1436.4 620.4,1448.2 615.9,1458.6 618.9,1473.3 620.4,1488.1 617.4,1502.9 615.9,1517.6 615.9,1532.4 615.9,1550.1 579,1550.1" fill="#ffffbf"/>
<polygon points="579,1406.9 593.8,1406.9 608.5,1409.8 620.4,1415.7 623.3,1424.6 617.4,1436.4 608.5,1445.3 593.8,1448.2 579,1449.7" fill="#83a7bc"/>
<polygon points="589.3,1427.5 593.8,1423.1 601.2,1424.6 602.6,1430.5 596.7,1433.4 590.8,1432" fill="#1574b8"/>
<polygon points="579,1465.9 590.8,1468.9 601.2,1477.8 608.5,1488.1 611.5,1502.9 610,1517.6 604.1,1528 593.8,1532.4 579,1532.4" fill="#83a7bc"/>
<polygon points="748.9,1399.5 756.3,1395 771,1395 782.9,1399.5 785.8,1409.8 782.9,1421.6 774,1429 763.6,1429 753.3,1421.6 748.9,1411.3" fill="#ffffbf"/>
<polygon points="741.5,1550.1 748.9,1532.4 756.3,1522.1 771,1513.2 785.8,1511.7 796.1,1513.2 796.1,1550.1" fill="#ffffbf"/>
<polygon points="778.4,1436.4 785.8,1421.6 790.2,1399.5 796.1,1395 796.1,1495.5 788.8,1480.7 782.9,1465.9 778.4,1451.2" fill="#fe8254"/>
<polygon points="602.6,1355.2 615.9,1343.3 630.7,1337.4 652.9,1336 661.7,1344.8 667.6,1355.2 682.4,1362.5 697.2,1367 711.9,1369.9 726.7,1377.3 741.5,1384.7 748.9,1392.1 748.9,1406.9 756.3,1421.6 771,1436.4 778.4,1451.2 782.9,1465.9 778.4,1480.7 771,1495.5 763.6,1502.9 748.9,1510.3 741.5,1525 734.1,1539.8 726.7,1550.1 623.3,1550.1 623.3,1525 627.7,1502.9 630.7,1480.7 635.1,1465.9 638.1,1451.2 641,1436.4 645.5,1424.6 638.1,1414.2 630.7,1402.4 623.3,1392.1 611.5,1380.3 604.1,1367" fill="#fe8254"/>
<polygon points="652.9,1399.5 655.8,1392.1 660.2,1395 660.2,1402.4 655.8,1403.9" fill="#fed497"/>
<polygon points="670.6,1409.8 679.4,1403.9 691.3,1405.4 695.7,1412.8 689.8,1420.2 679.4,1421.6 672.1,1417.2" fill="#fed497"/>
<polygon points="620.4,1369.9 626.3,1359.6 638.1,1350.7 649.9,1343.3 657.3,1347.8 664.7,1356.6 673.5,1365.5 685.4,1371.4 697.2,1375.8 709,1380.3 719.3,1383.2 729.7,1386.2 735.6,1392.1 738.5,1401 748.9,1414.2 763.6,1429 774,1445.3 776.9,1460 774,1471.9 768.1,1480.7 759.2,1488.1 726.7,1465.9 697.2,1480.7 675,1502.9 660.2,1525 655.8,1550.1 627.7,1550.1 629.2,1525 633.7,1502.9 638.1,1480.7 642.5,1463 644,1445.3 647,1433.4 652.9,1427.5 661.7,1424.6 670.6,1421.6 682.4,1421.6 694.2,1418.7 697.2,1409.8 689.8,1402.4 682.4,1396.5 670.6,1390.6 658.8,1383.2 652.9,1377.3 645.5,1381.7 641,1389.1 630.7,1386.2 623.3,1380.3" fill="#f92b23"/>
<polygon points="658.7,1547.4 658.3,1531 656.6,1525 662.6,1524.1 666.1,1523.2 666.1,1516.3 666.1,1511.2 668.7,1506 673.9,1505.1 679.1,1502.5 684.3,1499.1 687.7,1496.5 691.2,1492.2 693.8,1488.8 696.4,1485.3 698.1,1483.6 694.6,1479.3 692.9,1475 691.2,1470.7 691.2,1467.2 694.6,1466.3 698.1,1463.8 701.6,1461.2 705,1457.7 708.5,1456.9 711.9,1456.9 714.5,1459.4 718,1460.3 722.3,1458.6 725.8,1456 727.5,1452.6 724.9,1449.1 729.2,1446.5 734.4,1445.7 738.8,1446.5 742.2,1450 746.6,1452.6 750.9,1456 755.2,1459.4 759.5,1463.8 762.1,1468.9 762.1,1475 761.3,1478.4 757.8,1480.1 755.2,1482.7 751.7,1487 749.1,1490.5 746.6,1494.8 744,1498.2 739.6,1500.8 735.3,1502.5 731.8,1505.1 729.2,1509.4 725.8,1512 720.6,1513.8 718,1516.3 716.3,1519.8 717.1,1525 718.9,1528.4 717.1,1531.9 711.9,1532.7 706.8,1532.7 703.3,1531 703.3,1535.3 699.8,1538.7 698.1,1542.2 699,1547.4" fill="none" stroke="#000" stroke-opacity="0.5" stroke-width="6" stroke-linejoin="round"/>
<polyline points="746.6,1452.6 750.9,1456 755.2,1459.4 759.5,1463.8 762.1,1468.9 762.1,1475 761.3,1478.4 757.8,1480.1" fill="none" stroke="#000" stroke-opacity="0.35" stroke-width="12" stroke-linejoin="round" stroke-linecap="round"/>
<polyline points="679.1,1502.5 684.3,1499.1 687.7,1496.5 691.2,1492.2 693.8,1488.8 696.4,1485.3 698.1,1483.6 694.6,1479.3 692.9,1475 691.2,1470.7 691.2,1467.2 694.6,1466.3 698.1,1463.8" fill="none" stroke="#000" stroke-opacity="0.3" stroke-width="9" stroke-linejoin="round" stroke-linecap="round"/>
<polygon points="679.8,1452 691.7,1452 693.7,1460.2 693.2,1470.5 691.7,1478.8 683.4,1481.8 679.8,1471.6 679.3,1461.3" fill="#000" fill-opacity="0.25"/>
<polygon points="658.7,1547.4 658.3,1531 656.6,1525 662.6,1524.1 666.1,1523.2 666.1,1516.3 666.1,1511.2 668.7,1506 673.9,1505.1 679.1,1502.5 684.3,1499.1 687.7,1496.5 691.2,1492.2 693.8,1488.8 696.4,1485.3 698.1,1483.6 694.6,1479.3 692.9,1475 691.2,1470.7 691.2,1467.2 694.6,1466.3 698.1,1463.8 701.6,1461.2 705,1457.7 708.5,1456.9 711.9,1456.9 714.5,1459.4 718,1460.3 722.3,1458.6 725.8,1456 727.5,1452.6 724.9,1449.1 729.2,1446.5 734.4,1445.7 738.8,1446.5 742.2,1450 746.6,1452.6 750.9,1456 755.2,1459.4 759.5,1463.8 762.1,1468.9 762.1,1475 761.3,1478.4 757.8,1480.1 755.2,1482.7 751.7,1487 749.1,1490.5 746.6,1494.8 744,1498.2 739.6,1500.8 735.3,1502.5 731.8,1505.1 729.2,1509.4 725.8,1512 720.6,1513.8 718,1516.3 716.3,1519.8 717.1,1525 718.9,1528.4 717.1,1531.9 711.9,1532.7 706.8,1532.7 703.3,1531 703.3,1535.3 699.8,1538.7 698.1,1542.2 699,1547.4" fill="#fff" stroke="#101820" stroke-width="1.2"/>
<path d="M693.4,1336.6 L697.8,1342.4 L699.3,1354.2 L701.5,1361.6 L708.1,1370.4 L711.1,1377.8 L714.8,1383.6 L716.3,1392.5 L714.8,1401.3 L714.8,1410.1 L714,1416 L713.3,1421.9 L716.3,1427.8 L720,1435.2 L721.4,1439.6 L719.2,1444.7 L714.8,1447.7 L713.3,1452.8 L711.8,1458.7 M700,1336.6 L705.9,1343.2 L711.1,1348.3 L713.3,1354.2 L717,1360.1 L722.2,1363 L727.3,1368.9 L734.7,1374.8 L740.6,1377.8 L748,1380.7 L755.4,1383.6 L762.8,1388.1 L770.2,1390.3 L776.1,1396.9 L782,1398.4 L787.9,1395.4 L795.3,1393.2 M584.3,1410.1 L590,1413.1 L595.9,1419 L603.3,1419.7 L610.6,1417.5 L618,1416 L625.4,1413.1 L633.5,1408.7 L632.8,1416.8 L629.1,1419.7 L632.8,1420.4 L638,1422.6 L643.1,1418.2 L649.1,1419 L653.5,1414.5 L660.9,1411.6 L669.7,1411.6 L677.1,1413.1 L683,1410.9 L684.5,1406.5 L688.9,1407.2 L694.8,1407.9 L699.3,1407.2 L700.8,1411.6 L706.7,1413.1 L711.8,1413.8 L714.8,1416 M584.3,1466.1 L590,1467.5 L597.3,1472.7 L603.3,1478.6 L610.6,1486.7 L615.4,1494.8 L616.6,1489.6 L617.3,1480.8 L621,1474.9 L619.5,1470.5 L615.1,1463.1 L611.4,1461.6 L610.6,1465.3 L616.6,1461.6 L622.5,1460.2 L629.8,1455.8 L637.2,1458.7 L643.1,1461.6 L650.5,1463.1 L655,1466.8 L660.9,1470.5 L666.8,1476.4 L669.7,1482.2 L673.4,1485.2 L678.6,1485.2 L684.5,1483.7 L690.4,1485.2 L694.1,1486.7" fill="none" stroke="#2a2a2a" stroke-width="0.9" stroke-opacity="0.85"/>
<path d="M685.3,1434 L688.2,1441.6 L696.3,1442 L690,1447.1 L692.1,1455 L685.3,1450.6 L678.5,1455 L680.6,1447.1 L674.3,1442 L682.4,1441.6Z" fill="#000"/>
</g>
<rect x="581.7" y="1335.7" width="210.8" height="210.0" fill="none" stroke="#111" stroke-width="1.6"/>
<clipPath id="cf3"><rect x="838.7" y="1335.7" width="211.8" height="210.0"/></clipPath>
<g clip-path="url(#cf3)">
<rect x="836.7" y="1333.7" width="215.8" height="214" fill="#ffffbf"/>
<polygon points="862.6,1355.2 865.5,1341.9 872.9,1333 878.8,1333 877.4,1350.7 871.5,1358.1" fill="#83a7bc"/>
<polygon points="836,1377.3 850.8,1369.9 861.1,1365.5 872.9,1372.9 883.3,1381.7 892.1,1392.1 898,1403.9 898,1415.7 892.1,1426.1 880.3,1433.4 865.5,1440.8 850.8,1445.3 836,1446.7" fill="#83a7bc"/>
<polygon points="836,1468.9 847.8,1471.9 858.2,1479.2 868.5,1488.1 874.4,1495.5 877.4,1510.3 875.9,1525 872.9,1539.8 871.5,1550.1 836,1550.1" fill="#83a7bc"/>
<polygon points="920.2,1333 973.4,1333 966,1344.8 957.1,1352.2 948.3,1359.6 939.4,1365.5 927.6,1372.9 921.7,1362.5 918.7,1347.8" fill="#83a7bc"/>
<polygon points="923.2,1333 963,1333 957.1,1344.8 948.3,1352.2 939.4,1358.1 930.5,1358.1 924.6,1347.8" fill="#1574b8"/>
<polygon points="855.2,1412.8 859.6,1403.9 868.5,1399.5 880.3,1401 889.2,1408.3 890.7,1417.2 884.7,1424.6 872.9,1426.1 861.1,1423.1" fill="#1574b8"/>
<polygon points="836,1505.8 847.8,1499.9 858.2,1501.4 862.6,1510.3 859.6,1525 855.2,1539.8 847.8,1550.1 836,1550.1" fill="#1574b8"/>
<polygon points="961.6,1369.9 968.9,1359.6 983.7,1352.2 998.5,1344.8 1020.6,1340.4 1042.8,1337.4 1053.1,1337.4 1053.1,1514.7 1042.8,1514.7 1028,1519.1 1013.3,1525 998.5,1536.9 991.1,1550.1 954.2,1550.1 968.9,1480.7 954.2,1436.4" fill="#fed497"/>
<polygon points="880.3,1436.4 895.1,1429 902.5,1418.7 899.5,1403.9 895.1,1392.1 887.7,1381.7 880.3,1374.4 883.3,1362.5 895.1,1350.7 902.5,1338.9 912.8,1333 918.7,1347.8 921.7,1365.5 927.6,1377.3 939.4,1380.3 954.2,1384.7 968.9,1392.1 968.9,1421.6 954.2,1436.4 939.4,1436.4 924.6,1439.4 909.9,1445.3 902.5,1458.6 895.1,1473.3 887.7,1488.1 883.3,1502.9 880.3,1517.6 877.4,1550.1 872.9,1550.1 874.4,1525 877.4,1495.5 880.3,1473.3 872.9,1458.6" fill="#fed497"/>
<polygon points="998.5,1550.1 1005.9,1532.4 1020.6,1522.1 1035.4,1519.1 1053.1,1520.6 1053.1,1550.1" fill="#ffffbf"/>
<polygon points="1005.9,1406.9 1013.3,1395 1028,1389.1 1042.8,1384.7 1053.1,1384.7 1053.1,1436.4 1042.8,1433.4 1028,1427.5 1013.3,1420.2" fill="#fe8254"/>
<polygon points="1039.9,1333 1053.1,1333 1053.1,1347.8 1045.8,1344.8" fill="#fe8254"/>
<polygon points="899.5,1436.4 909.9,1429 924.6,1424.6 932,1415.7 927.6,1399.5 924.6,1389.1 932,1377.3 946.8,1369.9 961.6,1371.4 976.3,1374.4 991.1,1377.3 1005.9,1377.3 1020.6,1381.7 1028,1392.1 1013.3,1399.5 1005.9,1409.8 1013.3,1421.6 1028,1429 1042.8,1436.4 1045.8,1451.2 1045.8,1480.7 1042.8,1495.5 1035.4,1510.3 1020.6,1519.1 1005.9,1525 998.5,1539.8 991.1,1550.1 880.3,1550.1 880.3,1525 884.7,1502.9 890.7,1480.7 895.1,1463 898,1448.2" fill="#fe8254"/>
<polygon points="889.2,1369.9 892.1,1358.1 899.5,1350.7 909.9,1349.2 915.8,1355.2 914.3,1369.9 906.9,1380.3 898,1383.2 890.7,1378.8" fill="#f92b23"/>
<polygon points="908.4,1445.3 912.8,1436.4 924.6,1433.4 939.4,1429 954.2,1424.6 957.1,1415.7 954.2,1406.9 939.4,1402.4 930.5,1398 927.6,1392.1 939.4,1384.7 954.2,1389.1 968.9,1395 976.3,1389.1 983.7,1381.7 998.5,1381.7 1010.3,1389.1 1013.3,1399.5 1005.9,1406.9 1007.4,1415.7 1020.6,1424.6 1035.4,1436.4 1042.8,1451.2 1042.8,1473.3 1038.4,1488.1 1028,1499.9 1013.3,1505.8 998.5,1510.3 983.7,1465.9 954.2,1480.7 932,1502.9 917.2,1525 912.8,1550.1 880.3,1550.1 883.3,1525 889.2,1502.9 895.1,1488.1 901,1473.3 906.9,1458.6" fill="#f92b23"/>
<polygon points="916.1,1547.4 915.7,1531 913.9,1525 920,1524.1 923.5,1523.2 923.5,1516.3 923.5,1511.2 926.1,1506 931.3,1505.1 936.5,1502.5 941.7,1499.1 945.2,1496.5 948.7,1492.2 951.3,1488.8 953.9,1485.3 955.6,1483.6 952.2,1479.3 950.4,1475 948.7,1470.7 948.7,1467.2 952.2,1466.3 955.6,1463.8 959.1,1461.2 962.6,1457.7 966.1,1456.9 969.6,1456.9 972.2,1459.4 975.6,1460.3 980,1458.6 983.5,1456 985.2,1452.6 982.6,1449.1 986.9,1446.5 992.2,1445.7 996.5,1446.5 1000,1450 1004.3,1452.6 1008.7,1456 1013,1459.4 1017.4,1463.8 1020,1468.9 1020,1475 1019.1,1478.4 1015.6,1480.1 1013,1482.7 1009.5,1487 1006.9,1490.5 1004.3,1494.8 1001.7,1498.2 997.4,1500.8 993,1502.5 989.5,1505.1 986.9,1509.4 983.5,1512 978.2,1513.8 975.6,1516.3 973.9,1519.8 974.8,1525 976.5,1528.4 974.8,1531.9 969.6,1532.7 964.3,1532.7 960.9,1531 960.9,1535.3 957.4,1538.7 955.6,1542.2 956.5,1547.4" fill="none" stroke="#000" stroke-opacity="0.5" stroke-width="6" stroke-linejoin="round"/>
<polyline points="1004.3,1452.6 1008.7,1456 1013,1459.4 1017.4,1463.8 1020,1468.9 1020,1475 1019.1,1478.4 1015.6,1480.1" fill="none" stroke="#000" stroke-opacity="0.35" stroke-width="12" stroke-linejoin="round" stroke-linecap="round"/>
<polyline points="936.5,1502.5 941.7,1499.1 945.2,1496.5 948.7,1492.2 951.3,1488.8 953.9,1485.3 955.6,1483.6 952.2,1479.3 950.4,1475 948.7,1470.7 948.7,1467.2 952.2,1466.3 955.6,1463.8" fill="none" stroke="#000" stroke-opacity="0.3" stroke-width="9" stroke-linejoin="round" stroke-linecap="round"/>
<polygon points="937.2,1452 949.2,1452 951.3,1460.2 950.7,1470.5 949.2,1478.8 940.9,1481.8 937.2,1471.6 936.7,1461.3" fill="#000" fill-opacity="0.25"/>
<polygon points="916.1,1547.4 915.7,1531 913.9,1525 920,1524.1 923.5,1523.2 923.5,1516.3 923.5,1511.2 926.1,1506 931.3,1505.1 936.5,1502.5 941.7,1499.1 945.2,1496.5 948.7,1492.2 951.3,1488.8 953.9,1485.3 955.6,1483.6 952.2,1479.3 950.4,1475 948.7,1470.7 948.7,1467.2 952.2,1466.3 955.6,1463.8 959.1,1461.2 962.6,1457.7 966.1,1456.9 969.6,1456.9 972.2,1459.4 975.6,1460.3 980,1458.6 983.5,1456 985.2,1452.6 982.6,1449.1 986.9,1446.5 992.2,1445.7 996.5,1446.5 1000,1450 1004.3,1452.6 1008.7,1456 1013,1459.4 1017.4,1463.8 1020,1468.9 1020,1475 1019.1,1478.4 1015.6,1480.1 1013,1482.7 1009.5,1487 1006.9,1490.5 1004.3,1494.8 1001.7,1498.2 997.4,1500.8 993,1502.5 989.5,1505.1 986.9,1509.4 983.5,1512 978.2,1513.8 975.6,1516.3 973.9,1519.8 974.8,1525 976.5,1528.4 974.8,1531.9 969.6,1532.7 964.3,1532.7 960.9,1531 960.9,1535.3 957.4,1538.7 955.6,1542.2 956.5,1547.4" fill="#fff" stroke="#101820" stroke-width="1.2"/>
<path d="M950.9,1336.6 L955.3,1342.4 L956.8,1354.2 L959,1361.6 L965.7,1370.4 L968.7,1377.8 L972.4,1383.6 L973.9,1392.5 L972.4,1401.3 L972.4,1410.1 L971.7,1416 L970.9,1421.9 L973.9,1427.8 L977.6,1435.2 L979.1,1439.6 L976.9,1444.7 L972.4,1447.7 L970.9,1452.8 L969.4,1458.7 M957.6,1336.6 L963.5,1343.2 L968.7,1348.3 L970.9,1354.2 L974.6,1360.1 L979.8,1363 L985,1368.9 L992.4,1374.8 L998.4,1377.8 L1005.8,1380.7 L1013.2,1383.6 L1020.6,1388.1 L1028.1,1390.3 L1034,1396.9 L1039.9,1398.4 L1045.9,1395.4 L1053.3,1393.2 M841.4,1410.1 L847,1413.1 L852.9,1419 L860.3,1419.7 L867.8,1417.5 L875.2,1416 L882.6,1413.1 L890.8,1408.7 L890,1416.8 L886.3,1419.7 L890,1420.4 L895.2,1422.6 L900.4,1418.2 L906.4,1419 L910.8,1414.5 L918.2,1411.6 L927.1,1411.6 L934.6,1413.1 L940.5,1410.9 L942,1406.5 L946.4,1407.2 L952.4,1407.9 L956.8,1407.2 L958.3,1411.6 L964.2,1413.1 L969.4,1413.8 L972.4,1416 M841.4,1466.1 L847,1467.5 L854.4,1472.7 L860.3,1478.6 L867.8,1486.7 L872.5,1494.8 L873.7,1489.6 L874.4,1480.8 L878.2,1474.9 L876.7,1470.5 L872.2,1463.1 L868.5,1461.6 L867.8,1465.3 L873.7,1461.6 L879.6,1460.2 L887.1,1455.8 L894.5,1458.7 L900.4,1461.6 L907.8,1463.1 L912.3,1466.8 L918.2,1470.5 L924.2,1476.4 L927.1,1482.2 L930.8,1485.2 L936,1485.2 L942,1483.7 L947.9,1485.2 L951.6,1486.7" fill="none" stroke="#2a2a2a" stroke-width="0.9" stroke-opacity="0.85"/>
<path d="M942.8,1434 L945.7,1441.6 L953.8,1442 L947.5,1447.1 L949.6,1455 L942.8,1450.6 L936,1455 L938,1447.1 L931.7,1442 L939.8,1441.6Z" fill="#000"/>
</g>
<rect x="838.7" y="1335.7" width="211.8" height="210.0" fill="none" stroke="#111" stroke-width="1.6"/>
<text x="194.6" y="63" font-size="28" text-anchor="middle">2001-09-24</text>
<text x="443.5" y="63" font-size="28" text-anchor="middle">2006-10-16</text>
<text x="691.5" y="63" font-size="28" text-anchor="middle">2013-09-17</text>
<text x="943.0" y="63" font-size="28" text-anchor="middle">2015-10-09</text>
<text x="51.5" y="71.0" font-size="27">(a)</text>
<text x="44.5" y="366.5" font-size="27">(b)</text>
<text x="47.5" y="607.0" font-size="27">(c)</text>
<text x="45.5" y="846.0" font-size="27">(d)</text>
<text x="47.5" y="1101.0" font-size="27">(e)</text>
<text x="48.5" y="1354.5" font-size="27">(f)</text>
<text transform="translate(63.0,193.5) rotate(-90)" font-size="32" fill="#ff0000" text-anchor="middle">Intercept</text>
<text transform="translate(74.8,453.7) rotate(-90)" font-size="32" fill="#ff0000" text-anchor="middle">CONTAG</text>
<text transform="translate(77.2,692.8) rotate(-90)" font-size="32" fill="#ff0000" text-anchor="middle">Elevation</text>
<text transform="translate(76.1,949.0) rotate(-90)" font-size="32" fill="#ff0000" text-anchor="middle">Population</text>
<text transform="translate(81.8,1179.0) rotate(-90)" font-size="32" fill="#ff0000" text-anchor="middle">UFP</text>
<text transform="translate(81.2,1438.0) rotate(-90)" font-size="32" fill="#ff0000" text-anchor="middle">FP</text>
<line x1="88.0" y1="320.0" x2="1042.0" y2="320.0" stroke="#ff2020" stroke-width="2.6" stroke-dasharray="10.2 7.2"/>
<line x1="90.0" y1="563.5" x2="1042.0" y2="563.5" stroke="#ff2020" stroke-width="2.6" stroke-dasharray="10.2 7.2"/>
<line x1="90.0" y1="811.0" x2="1042.0" y2="811.0" stroke="#ff2020" stroke-width="2.6" stroke-dasharray="10.2 7.2"/>
<line x1="67.0" y1="1053.5" x2="1066.0" y2="1053.5" stroke="#ff2020" stroke-width="2.6" stroke-dasharray="10.2 7.2"/>
<line x1="70.0" y1="1311.0" x2="1066.0" y2="1311.0" stroke="#ff2020" stroke-width="2.6" stroke-dasharray="10.2 7.2"/>
<text x="1075.5" y="82.7" font-size="28">Legend</text>
<text x="1075.6" y="121.7" font-size="21.1" textLength="188.0" lengthAdjust="spacingAndGlyphs">Intercept Coefficient</text>
<rect x="1075.0" y="135.5" width="49.2" height="24.0" fill="#1574b8"/>
<text x="1133.5" y="155.9" font-size="21.1">&lt;-1.5</text>
<rect x="1075.0" y="169.1" width="49.2" height="24.0" fill="#9db4be"/>
<text x="1133.5" y="189.5" font-size="21.1">-1.5 ~ -1.0</text>
<rect x="1075.0" y="203.0" width="49.2" height="24.0" fill="#ffffbf"/>
<text x="1133.5" y="223.4" font-size="21.1">-1.0 ~ -0.5</text>
<rect x="1075.0" y="237.0" width="49.2" height="24.0" fill="#fe9a69"/>
<text x="1133.5" y="257.4" font-size="21.1">-0.5 ~ 0</text>
<rect x="1075.0" y="270.4" width="49.2" height="24.0" fill="#f92b23"/>
<text x="1133.5" y="290.8" font-size="21.1">&gt;0</text>
<text x="1077.2" y="342.7" font-size="21.1" textLength="196.8" lengthAdjust="spacingAndGlyphs">CONTAG Coefficient</text>
<rect x="1076.8" y="355.7" width="49.2" height="23.6" fill="#1574b8"/>
<text x="1135.2" y="376.1" font-size="21.1">&lt; -0.01</text>
<rect x="1076.8" y="389.0" width="49.2" height="23.6" fill="#83a7bc"/>
<text x="1135.2" y="409.4" font-size="21.1">-0.01 ~ 0</text>
<rect x="1076.8" y="422.4" width="49.2" height="23.6" fill="#ffffbf"/>
<text x="1135.2" y="442.8" font-size="21.1">0 ~ 0.01</text>
<rect x="1076.8" y="456.5" width="49.2" height="23.6" fill="#fed497"/>
<text x="1135.2" y="476.9" font-size="21.1">0.02 ~ 0.03</text>
<rect x="1076.8" y="490.9" width="49.2" height="23.6" fill="#fe8254"/>
<text x="1135.2" y="511.3" font-size="21.1">0.04 ~0.05</text>
<rect x="1076.8" y="524.2" width="49.2" height="23.6" fill="#f92b23"/>
<text x="1135.2" y="544.6" font-size="21.1">&gt; 0.06</text>
<text x="1080.9" y="583.9" font-size="21.1" textLength="190.6" lengthAdjust="spacingAndGlyphs">Elevation Coefficient</text>
<rect x="1080.9" y="597.2" width="48.1" height="23.5" fill="#1574b8"/>
<text x="1139.1" y="617.6" font-size="21.1">&lt; -4</text>
<rect x="1080.9" y="630.4" width="48.1" height="23.5" fill="#83a7bc"/>
<text x="1139.1" y="650.8" font-size="21.1">-4 ~ -2</text>
<rect x="1080.9" y="665.0" width="48.1" height="23.5" fill="#ffffbf"/>
<text x="1139.1" y="685.4" font-size="21.1">-2 ~ 0</text>
<rect x="1080.9" y="699.3" width="48.1" height="23.5" fill="#fed497"/>
<text x="1139.1" y="719.7" font-size="21.1">0 ~ 2</text>
<rect x="1080.9" y="732.6" width="48.1" height="23.5" fill="#fe8254"/>
<text x="1139.1" y="753.0" font-size="21.1">2 ~ 4</text>
<rect x="1080.9" y="766.2" width="48.1" height="23.5" fill="#f92b23"/>
<text x="1139.1" y="786.6" font-size="21.1">&gt; 4</text>
<text x="1080.9" y="827.4" font-size="21.1" textLength="203.9" lengthAdjust="spacingAndGlyphs">Population Coefficient</text>
<rect x="1080.9" y="840.4" width="48.1" height="24.0" fill="#1574b8"/>
<text x="1139.1" y="860.8" font-size="21.1">&lt; 0.02</text>
<rect x="1080.9" y="873.5" width="48.1" height="24.0" fill="#83a7bc"/>
<text x="1139.1" y="893.9" font-size="21.1">0.02 ~ 0.04</text>
<rect x="1080.9" y="907.4" width="48.1" height="24.0" fill="#ffffbf"/>
<text x="1139.1" y="927.8" font-size="21.1">0.04 ~ 0.06</text>
<rect x="1080.9" y="942.0" width="48.1" height="24.0" fill="#fed497"/>
<text x="1139.1" y="962.4" font-size="21.1">0.06 ~ 0.08</text>
<rect x="1080.9" y="975.2" width="48.1" height="24.0" fill="#fe8254"/>
<text x="1139.1" y="995.6" font-size="21.1">0.08 ~ 0.1</text>
<rect x="1080.9" y="1008.8" width="48.1" height="24.0" fill="#f92b23"/>
<text x="1139.1" y="1029.2" font-size="21.1">&gt;0.1</text>
<text x="1081.7" y="1073.4" font-size="21.9" textLength="368.1" lengthAdjust="spacingAndGlyphs">Proportion of Urban Fabric Coefficient</text>
<rect x="1080.9" y="1085.9" width="51.5" height="25.5" fill="#1574b8"/>
<text x="1140.7" y="1106.9" font-size="21.9">&lt;1</text>
<rect x="1080.9" y="1121.6" width="51.5" height="25.5" fill="#83a7bc"/>
<text x="1140.7" y="1142.6" font-size="21.9">1 ~1.5</text>
<rect x="1080.9" y="1156.4" width="51.5" height="25.5" fill="#ffffbf"/>
<text x="1140.7" y="1177.4" font-size="21.9">1.5 ~ 2</text>
<rect x="1080.9" y="1191.7" width="51.5" height="25.5" fill="#fed497"/>
<text x="1140.7" y="1212.7" font-size="21.9">2 ~ 2.5</text>
<rect x="1080.9" y="1226.0" width="51.5" height="25.5" fill="#fe8254"/>
<text x="1140.7" y="1247.0" font-size="21.9">2.5 ~ 3</text>
<rect x="1080.9" y="1260.5" width="51.5" height="25.5" fill="#f92b23"/>
<text x="1140.7" y="1281.5" font-size="21.9">&gt;3</text>
<text x="1084.5" y="1319.8" font-size="21.9" textLength="297.9" lengthAdjust="spacingAndGlyphs">Proportion of Forest Coefficient</text>
<rect x="1083.1" y="1333.2" width="50.7" height="25.0" fill="#1574b8"/>
<text x="1143.0" y="1354.2" font-size="21.9">&lt; -4.5</text>
<rect x="1083.1" y="1368.8" width="50.7" height="25.0" fill="#83a7bc"/>
<text x="1143.0" y="1389.8" font-size="21.9">-4.5 ~ -3.5</text>
<rect x="1083.1" y="1403.3" width="50.7" height="25.0" fill="#ffffbf"/>
<text x="1143.0" y="1424.3" font-size="21.9">-3.5 ~ -2.5</text>
<rect x="1083.1" y="1438.4" width="50.7" height="25.0" fill="#fed497"/>
<text x="1143.0" y="1459.4" font-size="21.9">-2.5 ~ -1.5</text>
<rect x="1083.1" y="1472.9" width="50.7" height="25.0" fill="#fe8254"/>
<text x="1143.0" y="1493.9" font-size="21.9">-1.5 ~ 0.5</text>
<rect x="1083.1" y="1507.7" width="50.7" height="25.0" fill="#f92b23"/>
<text x="1143.0" y="1528.7" font-size="21.9">&gt; -0.5</text>
<line x1="1293" y1="58.5" x2="1293" y2="131" stroke="#333" stroke-width="2.8"/>
<polygon points="1293.6,59.6 1305.4,89.5 1294.2,85" fill="#000"/>
<path d="M1288,126.5 V108.5 L1300,126 V108" fill="none" stroke="#000" stroke-width="1.8"/>
<rect x="1081.5" y="1568.5" width="105" height="10.5" fill="#fff" stroke="#000" stroke-width="1.5"/>
<rect x="1081.5" y="1568.5" width="53" height="10.5" fill="#000"/>
<text x="1082.0" y="1560" font-size="16" text-anchor="middle">0</text>
<text x="1133.8" y="1560" font-size="16" text-anchor="middle">20</text>
<text x="1186.0" y="1560" font-size="16" text-anchor="middle">40</text>
<text x="1190" y="1578.5" font-size="17.5">KM</text>
<path d="M93.9,82.5V93 M132.8,82.5V93 M170.0,82.5V93 M207.2,82.5V93 M245.2,82.5V93 M283.3,82.5V93 M128.0,297V307 M166.0,297V307 M205.6,297V307 M243.0,297V307 M282.0,297V307 M297,110.0H308 M297,156.6H308 M297,202.9H308 M297,249.0H308 M297,295.4H308 M83.4,106.6H93 M83.4,154.2H93 M83.4,200.3H93 M83.4,248.0H93 M83.4,292.5H93" stroke="#000" stroke-width="1.8" fill="none"/>
<text x="98.3" y="87" font-size="16" font-weight="normal" textLength="67.5" lengthAdjust="spacingAndGlyphs">139°30'E</text>
<text x="174.4" y="87" font-size="16" font-weight="normal" textLength="67.5" lengthAdjust="spacingAndGlyphs">139°50'E</text>
<text x="250.5" y="87" font-size="16" font-weight="normal" textLength="67.5" lengthAdjust="spacingAndGlyphs">140°10'E</text>
<text transform="translate(87.4,133.0) rotate(-90)" font-size="17" font-weight="normal" textLength="50.0" lengthAdjust="spacingAndGlyphs">36°0'N</text>
<text transform="translate(87.4,230.6) rotate(-90)" font-size="17" font-weight="normal" textLength="58.6" lengthAdjust="spacingAndGlyphs">35°40'N</text>
<text transform="translate(87.4,324.0) rotate(-90)" font-size="17" font-weight="normal" textLength="59.0" lengthAdjust="spacingAndGlyphs">35°20'N</text>
</svg></body></html>
